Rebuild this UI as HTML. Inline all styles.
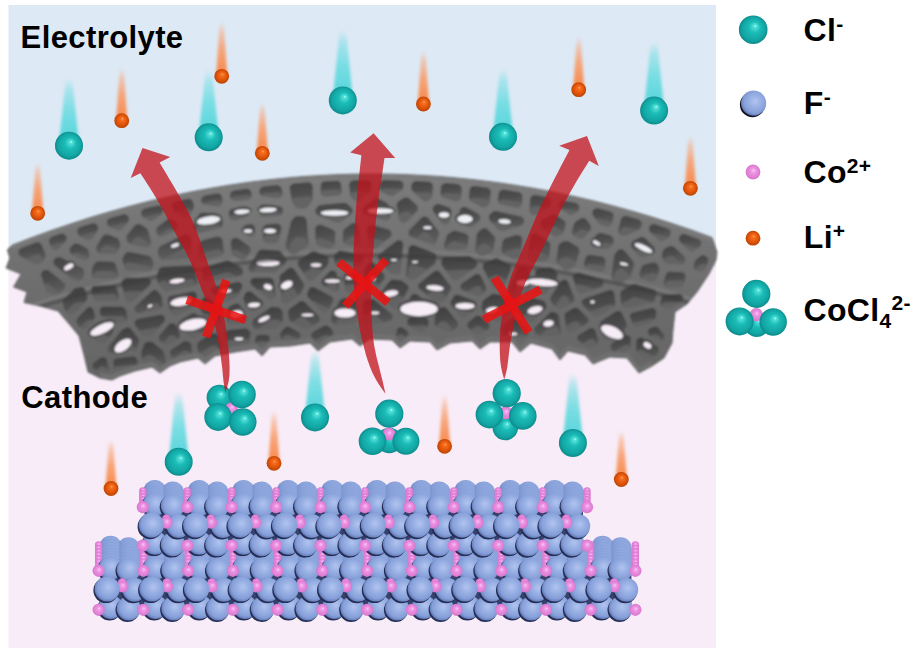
<!DOCTYPE html>
<html><head><meta charset="utf-8"><title>Figure</title>
<style>html,body{margin:0;padding:0;background:#fff;}svg{display:block}</style></head>
<body><svg width="912" height="654" viewBox="0 0 912 654">

<defs>
<radialGradient id="gCl" cx="0.5" cy="0.5" r="0.52" fx="0.58" fy="0.36">
 <stop offset="0" stop-color="#c4fffa"/><stop offset="0.09" stop-color="#55e2da"/>
 <stop offset="0.38" stop-color="#1bbcb7"/><stop offset="0.78" stop-color="#12a5a3"/><stop offset="1" stop-color="#0b8688"/>
</radialGradient>
<radialGradient id="gLi" cx="0.5" cy="0.5" r="0.52" fx="0.55" fy="0.36">
 <stop offset="0" stop-color="#ffb070"/><stop offset="0.15" stop-color="#f77324"/>
 <stop offset="0.55" stop-color="#e8580c"/><stop offset="1" stop-color="#b84304"/>
</radialGradient>
<radialGradient id="gF" cx="0.56" cy="0.44" r="0.62" fx="0.56" fy="0.42">
 <stop offset="0" stop-color="#b2c4ef"/><stop offset="0.4" stop-color="#97afe3"/>
 <stop offset="0.72" stop-color="#869fd8"/><stop offset="0.88" stop-color="#6a82c0"/><stop offset="1" stop-color="#2c3766"/>
</radialGradient>
<radialGradient id="gCo" cx="0.5" cy="0.5" r="0.52" fx="0.55" fy="0.38">
 <stop offset="0" stop-color="#fbc4f4"/><stop offset="0.35" stop-color="#ec93e2"/>
 <stop offset="1" stop-color="#d874cc"/>
</radialGradient>
<linearGradient id="tCl" x1="0" y1="0" x2="0" y2="1">
 <stop offset="0" stop-color="#6fdde2" stop-opacity="0"/><stop offset="0.18" stop-color="#6fdde2" stop-opacity="0.5"/><stop offset="0.5" stop-color="#66dbe0" stop-opacity="0.85"/>
 <stop offset="1" stop-color="#4fd3d8" stop-opacity="1"/>
</linearGradient>
<linearGradient id="tLi" x1="0" y1="0" x2="0" y2="1">
 <stop offset="0" stop-color="#f9a476" stop-opacity="0"/><stop offset="0.18" stop-color="#f9a476" stop-opacity="0.5"/><stop offset="0.5" stop-color="#f89a66" stop-opacity="0.85"/>
 <stop offset="1" stop-color="#f78648" stop-opacity="1"/>
</linearGradient>
<linearGradient id="gMesh" x1="0" y1="0" x2="0" y2="1">
 <stop offset="0" stop-color="#7c7c7c"/><stop offset="0.45" stop-color="#707070"/><stop offset="1" stop-color="#646464"/>
</linearGradient>
<linearGradient id="gPit" x1="0" y1="0" x2="0.15" y2="1">
 <stop offset="0" stop-color="#434343"/><stop offset="0.5" stop-color="#4f4f4f"/><stop offset="1" stop-color="#5e5e5e"/>
</linearGradient>
<linearGradient id="gPit2" x1="0" y1="0" x2="0.15" y2="1">
 <stop offset="0" stop-color="#3e3e3e"/><stop offset="0.5" stop-color="#494949"/><stop offset="1" stop-color="#585858"/>
</linearGradient>
<filter id="b1" x="-20%" y="-20%" width="140%" height="140%"><feGaussianBlur stdDeviation="1"/></filter>
<filter id="b07" x="-20%" y="-20%" width="140%" height="140%"><feGaussianBlur stdDeviation="0.7"/></filter>
<filter id="b15" x="-30%" y="-10%" width="160%" height="120%"><feGaussianBlur stdDeviation="1.6"/></filter>
<filter id="b05" x="-10%" y="-10%" width="120%" height="120%"><feGaussianBlur stdDeviation="0.8"/></filter>
<clipPath id="mclip"><path d="M12.0,245.3 L7.3,250.0 L10.0,258.0 L6.0,268.0 L21.0,274.0 L13.5,287.0 L27.0,292.0 L24.0,302.5 L40.0,306.0 L58.0,311.0 L70.0,325.0 L79.0,336.0 L84.0,355.0 L88.0,372.0 L100.0,378.0 L112.0,380.0 L120.0,376.0 L135.0,371.0 L152.0,367.0 L160.0,373.0 L170.0,366.0 L180.0,362.0 L198.0,358.0 L205.0,364.0 L215.0,356.0 L235.0,352.0 L255.0,349.0 L262.0,356.0 L270.0,347.0 L290.0,346.0 L310.0,343.0 L318.0,351.0 L330.0,342.0 L352.0,339.0 L360.0,346.0 L370.0,339.0 L392.0,340.0 L400.0,348.0 L410.0,341.0 L430.0,342.0 L437.0,350.0 L450.0,343.0 L472.0,341.0 L480.0,349.0 L490.0,342.0 L512.0,342.0 L520.0,352.0 L531.0,343.0 L552.0,349.0 L560.0,360.0 L568.0,351.0 L585.0,355.0 L593.0,364.0 L600.0,361.0 L610.0,357.0 L627.0,358.0 L639.0,373.0 L652.0,366.0 L664.0,358.0 L672.0,343.0 L673.0,330.0 L675.0,312.0 L687.0,304.0 L697.0,292.0 L709.0,274.0 L716.0,260.0 L717.0,252.0 L712.0,237.6 L702.0,233.9 L692.0,230.3 L682.0,226.9 L672.0,223.5 L662.0,220.3 L652.0,217.1 L642.0,214.1 L632.0,211.2 L622.0,208.4 L612.0,205.7 L602.0,203.1 L592.0,200.6 L582.0,198.3 L572.0,196.0 L562.0,193.9 L552.0,191.8 L542.0,189.9 L532.0,188.1 L522.0,186.4 L512.0,184.8 L502.0,183.3 L492.0,181.9 L482.0,180.7 L472.0,179.5 L462.0,178.5 L452.0,177.5 L442.0,176.7 L432.0,176.0 L422.0,175.4 L412.0,174.9 L402.0,174.5 L392.0,174.2 L382.0,174.1 L372.0,174.0 L362.0,174.1 L352.0,174.2 L342.0,174.5 L332.0,174.9 L322.0,175.4 L312.0,176.0 L302.0,176.7 L292.0,177.5 L282.0,178.5 L272.0,179.5 L262.0,180.7 L252.0,181.9 L242.0,183.3 L232.0,184.8 L222.0,186.4 L212.0,188.1 L202.0,189.9 L192.0,191.8 L182.0,193.9 L172.0,196.0 L162.0,198.3 L152.0,200.6 L142.0,203.1 L132.0,205.7 L122.0,208.4 L112.0,211.2 L102.0,214.1 L92.0,217.1 L82.0,220.3 L72.0,223.5 L62.0,226.9 L52.0,230.3 L42.0,233.9 L32.0,237.6 L22.0,241.4Z"/></clipPath><clipPath id="pclip"><path d="M21.4,248.1 L19.1,249.8 L18.3,252.6 L18.9,254.9 L21.0,256.8 L36.6,264.4 L39.8,263.8 L43.7,260.5 L45.4,256.5 L45.5,254.2 L41.7,244.8 L39.8,242.9 L38.1,242.3 L36.2,242.4Z M43.0,270.9 L41.3,273.1 L41.0,275.3 L46.1,290.9 L48.4,292.6 L55.4,294.5 L57.6,294.5 L59.3,293.8 L64.8,288.2 L65.4,285.9 L64.5,283.2 L48.4,270.2 L45.6,269.8Z M64.0,308.6 L65.4,311.0 L69.9,313.9 L72.4,314.1 L74.5,312.9 L87.1,299.5 L87.2,296.8 L85.2,289.8 L84.4,288.4 L83.1,287.5 L81.6,287.1 L74.8,288.2 L63.9,298.7 L62.9,300.1 L62.6,301.8Z M52.0,236.7 L49.6,238.7 L48.9,240.4 L49.0,242.2 L51.3,247.7 L52.6,249.0 L54.3,249.7 L56.2,249.7 L58.3,248.7 L65.6,241.4 L66.6,239.2 L66.5,237.3 L65.8,235.6 L64.4,234.3 L62.6,233.6 L60.7,233.7Z M56.9,257.4 L54.9,258.4 L53.5,260.8 L53.5,263.5 L55.1,265.8 L73.9,280.5 L76.2,281.1 L79.9,280.6 L82.6,278.9 L83.6,276.8 L84.0,271.8 L83.6,269.9 L82.1,268.0 L60.4,257.3Z M76.9,323.9 L77.9,325.6 L82.2,329.2 L84.9,329.5 L87.0,328.3 L94.9,317.8 L95.0,316.2 L93.8,310.5 L92.6,308.3 L91.3,307.4 L89.6,307.1 L88.0,307.5 L86.7,308.4 L76.9,318.7 L76.2,321.0Z M112.5,285.1 L93.8,285.9 L92.4,286.8 L91.5,288.1 L91.2,289.7 L93.3,297.6 L95.8,300.4 L98.0,301.0 L115.2,301.0 L117.1,300.3 L118.5,298.8 L118.9,296.1 L116.7,288.2 L115.9,286.7 L114.6,285.6Z M92.0,268.6 L91.7,275.6 L92.6,277.2 L94.1,278.4 L96.4,278.9 L114.3,278.4 L117.0,276.8 L117.8,275.4 L118.2,273.5 L115.7,264.6 L113.9,262.5 L111.8,261.7 L98.7,261.4 L96.9,261.7 L95.4,262.7 L92.6,266.9Z M82.6,259.7 L84.4,260.2 L86.3,259.9 L88.9,257.7 L89.5,255.0 L88.4,249.9 L86.6,248.0 L77.9,243.8 L75.6,243.5 L73.9,244.1 L70.8,246.9 L69.8,248.5 L69.5,250.8 L70.1,252.6 L71.7,254.4Z M80.5,227.1 L78.5,228.3 L77.5,229.8 L77.2,232.1 L77.8,234.3 L79.9,236.3 L88.4,240.0 L90.6,239.6 L92.4,238.2 L97.4,230.6 L98.2,228.4 L98.0,226.6 L97.1,224.9 L95.6,223.7 L93.9,223.2 L92.0,223.4Z M97.6,323.9 L90.9,332.9 L90.8,334.5 L92.0,337.0 L100.4,342.6 L102.8,343.1 L104.4,342.6 L105.6,341.5 L112.8,332.4 L113.4,329.6 L112.7,327.7 L111.2,326.3 L102.1,322.9 L100.1,322.6Z M94.1,362.6 L92.8,364.2 L92.4,366.2 L93.0,368.1 L94.4,369.6 L102.2,373.3 L105.2,373.5 L107.7,371.9 L108.4,370.3 L108.4,368.6 L106.9,360.3 L105.3,358.0 L103.4,357.2 L101.4,357.4Z M96.3,250.0 L97.6,252.4 L100.0,253.8 L113.0,254.1 L114.9,253.7 L116.8,252.4 L120.2,247.0 L120.3,244.6 L119.0,240.3 L117.9,238.8 L116.3,237.7 L108.0,234.5 L104.8,234.7 L102.9,236.1 L96.6,245.8 L96.1,247.6Z M108.7,346.6 L107.8,348.9 L108.2,350.9 L109.4,352.5 L111.3,353.3 L133.9,350.6 L135.4,349.9 L136.8,348.3 L139.0,341.7 L139.0,340.0 L138.2,338.1 L130.4,328.6 L128.6,327.5 L126.5,327.5 L122.1,329.7Z M113.9,367.7 L114.5,369.3 L115.7,370.4 L118.5,371.1 L134.6,365.9 L136.0,365.1 L137.2,363.4 L137.4,361.7 L136.9,359.2 L135.4,357.3 L133.2,356.5 L116.0,358.6 L114.0,360.0 L113.2,361.8Z M124.6,267.8 L126.2,270.1 L128.7,271.1 L148.7,271.1 L150.8,270.2 L152.0,268.7 L153.4,265.5 L153.5,263.2 L151.3,257.7 L149.1,255.9 L129.9,251.9 L128.0,251.9 L125.2,253.5 L122.3,258.4 L122.3,260.3Z M100.3,314.1 L101.2,316.0 L102.5,317.0 L119.8,323.5 L121.8,323.3 L125.7,321.5 L126.8,320.3 L127.5,318.4 L126.1,310.0 L123.8,307.5 L122.0,306.7 L102.7,306.8 L100.9,307.9 L99.9,309.6 L99.7,311.3Z M125.7,299.3 L126.7,301.1 L128.4,302.2 L130.4,302.3 L132.3,301.5 L150.1,284.8 L151.2,282.1 L150.2,279.4 L148.6,278.2 L147.0,277.8 L126.6,277.7 L123.9,278.7 L121.8,281.4 L121.3,283.8Z M110.2,218.0 L108.5,218.8 L107.1,220.7 L106.8,223.1 L107.6,225.3 L109.3,226.8 L118.5,230.2 L120.7,229.9 L122.3,228.8 L128.2,221.7 L129.0,219.5 L128.8,217.6 L127.9,216.0 L126.5,214.8 L124.7,214.2 L122.9,214.4Z M137.9,319.1 L136.1,320.0 L135.1,321.3 L134.5,323.2 L135.0,325.2 L143.0,335.1 L144.6,336.1 L146.2,336.3 L150.5,336.0 L152.3,335.0 L164.1,321.7 L165.1,319.0 L164.8,317.4 L163.9,316.0 L162.6,315.0 L161.0,314.7Z M135.8,305.9 L134.5,308.1 L134.6,310.1 L135.9,312.2 L138.2,313.2 L160.2,309.0 L161.9,307.7 L162.8,305.4 L161.5,296.0 L157.0,290.7 L155.1,290.0 L153.1,290.2Z M127.1,241.0 L128.3,243.0 L130.3,244.2 L146.0,247.4 L147.8,247.2 L149.5,246.3 L150.7,244.9 L151.2,243.1 L151.1,241.3 L147.6,229.5 L146.2,228.1 L140.9,224.8 L138.7,224.1 L136.5,224.4 L134.9,225.5 L127.1,234.9 L126.3,237.6Z M156.9,274.3 L156.5,276.2 L157.7,282.8 L163.6,289.5 L165.8,290.7 L167.5,290.7 L194.7,285.4 L196.5,284.4 L197.6,282.3 L195.2,268.2 L194.0,266.2 L192.2,265.3 L161.8,266.9 L159.4,268.6Z M159.3,257.1 L161.0,259.2 L163.6,260.1 L186.4,258.8 L188.6,258.1 L190.3,256.5 L190.9,254.7 L191.6,241.0 L191.0,238.2 L188.2,235.1 L186.4,234.4 L184.5,234.5 L160.6,245.9 L158.8,248.0 L157.8,251.5 L157.9,253.5Z M144.7,208.6 L143.0,209.4 L141.5,211.2 L141.1,213.0 L141.5,215.2 L143.3,217.3 L149.8,221.0 L151.7,220.9 L153.5,220.1 L161.9,213.7 L163.4,210.8 L163.4,209.0 L162.6,207.3 L161.2,206.0 L159.5,205.4 L157.6,205.5Z M156.7,233.1 L157.5,234.7 L158.9,236.0 L160.7,236.6 L163.0,236.3 L176.2,229.9 L178.0,227.1 L177.8,224.3 L176.4,222.4 L171.9,219.3 L169.7,218.7 L167.9,219.0 L157.0,227.2 L156.0,229.9Z M141.5,351.9 L141.3,353.8 L142.9,360.2 L143.8,361.6 L145.1,362.5 L147.0,362.9 L151.3,362.0 L153.3,362.2 L158.4,365.4 L160.3,365.8 L162.6,365.1 L164.4,363.7 L165.3,362.3 L165.5,360.0 L163.4,350.9 L152.3,342.2 L150.7,341.7 L147.3,341.9 L145.0,343.0 L144.1,344.3Z M167.8,299.6 L169.5,310.1 L172.5,314.3 L174.2,315.3 L175.8,315.5 L192.4,307.2 L194.3,305.1 L196.9,297.1 L197.1,295.4 L196.6,293.9 L194.9,292.1 L192.5,291.6 L170.0,296.1 L168.5,297.6Z M159.8,335.1 L158.7,337.6 L159.5,340.3 L164.5,344.4 L166.5,345.0 L168.6,344.6 L178.6,338.2 L179.6,337.0 L180.2,335.0 L179.7,333.0 L175.7,325.1 L174.2,323.7 L172.2,323.2 L170.6,323.4 L169.3,324.3Z M175.7,201.3 L173.2,202.7 L172.1,204.7 L172.0,207.1 L173.3,210.7 L183.3,217.7 L186.0,218.0 L188.1,217.1 L189.3,215.8 L193.9,207.8 L194.0,205.9 L193.2,202.5 L192.2,200.4 L190.3,199.1 L188.0,198.8Z M170.3,355.1 L171.7,357.5 L174.4,358.5 L189.9,354.5 L191.3,353.2 L192.0,351.3 L191.1,344.3 L189.7,342.8 L187.0,341.5 L185.3,341.2 L183.7,341.7 L171.2,349.7 L170.0,351.8Z M193.4,223.8 L192.7,226.5 L193.4,228.7 L196.2,232.2 L199.3,233.1 L220.4,227.8 L222.4,225.9 L223.1,223.2 L221.6,217.2 L219.5,214.7 L217.7,214.1 L203.0,212.4 L200.8,212.9 L199.3,214.0Z M186.6,334.1 L188.1,335.7 L191.6,337.5 L194.4,337.8 L203.4,331.9 L204.9,330.0 L205.2,328.1 L204.7,326.5 L197.3,315.2 L195.5,313.6 L193.5,313.3 L191.9,313.8 L182.8,318.5 L181.3,320.4 L180.9,322.0 L181.2,323.6Z M197.6,350.0 L199.0,352.7 L203.1,355.7 L205.1,356.3 L207.5,355.6 L213.1,351.4 L220.1,349.5 L221.5,348.0 L221.9,345.5 L218.3,335.2 L216.0,333.6 L211.3,333.5 L199.0,341.8 L197.9,342.9 L197.3,344.4Z M198.5,255.2 L198.8,257.1 L199.8,258.7 L201.3,259.9 L203.2,260.3 L220.6,255.5 L222.2,254.7 L223.6,252.9 L224.0,250.7 L222.7,240.7 L221.8,238.5 L220.0,237.0 L217.2,236.6 L202.7,240.2 L201.0,241.0 L199.7,242.4 L199.1,244.1Z M214.4,286.4 L212.6,287.2 L211.3,288.9 L211.0,290.9 L211.7,292.9 L223.5,300.9 L225.9,301.6 L227.6,301.2 L237.3,296.5 L241.8,288.0 L242.3,286.1 L242.0,284.5 L241.0,283.2 L239.7,282.3 L238.1,282.0Z M199.9,306.0 L199.7,307.6 L200.2,309.2 L211.6,326.5 L213.4,327.6 L216.3,327.9 L217.9,327.7 L219.3,326.9 L220.7,324.5 L222.1,309.3 L221.9,307.7 L221.1,306.2 L208.2,297.6 L205.9,296.9 L203.9,297.4 L202.4,298.8Z M204.9,195.5 L202.4,196.7 L201.0,199.6 L201.5,202.4 L203.8,204.6 L218.1,206.4 L220.7,205.4 L222.1,203.6 L222.5,201.8 L222.2,196.9 L221.0,194.8 L219.5,193.7 L217.2,193.3Z M227.7,309.6 L226.9,321.4 L228.0,323.1 L229.3,324.0 L231.3,324.3 L244.0,322.9 L245.9,321.4 L246.6,318.7 L240.1,305.5 L238.7,304.1 L236.3,303.6 L230.1,306.2 L228.3,307.8Z M239.7,275.9 L241.6,275.0 L242.8,273.4 L243.1,271.3 L242.2,268.8 L241.0,267.6 L229.9,261.0 L228.3,260.5 L226.6,260.6 L204.2,267.1 L202.3,268.6 L201.6,270.5 L203.2,279.4 L204.7,281.3 L206.6,282.0Z M254.4,277.8 L252.0,278.5 L250.5,280.4 L250.3,282.9 L251.5,285.0 L269.0,298.7 L271.8,299.3 L274.3,298.1 L275.2,296.7 L275.5,294.7 L274.0,281.1 L272.8,279.0 L270.3,277.8Z M238.1,238.6 L236.4,237.9 L234.0,238.0 L232.3,239.0 L231.0,240.9 L230.7,243.2 L232.0,252.9 L232.8,254.7 L234.3,255.9 L240.3,259.5 L243.4,259.9 L246.1,258.2 L250.0,252.2 L250.7,250.5 L250.7,248.6 L249.0,245.9Z M233.1,208.4 L231.3,208.9 L229.8,210.0 L228.6,213.0 L229.7,217.9 L230.9,219.4 L232.6,220.3 L235.0,220.5 L246.3,216.9 L248.2,215.6 L249.0,213.9 L249.2,212.1 L248.7,210.3 L247.6,208.9 L246.0,208.0 L244.2,207.7Z M228.2,330.2 L225.6,331.4 L224.7,332.8 L224.4,334.5 L227.8,345.0 L229.3,346.8 L232.0,347.5 L245.4,345.4 L247.0,344.8 L248.2,343.7 L250.6,334.0 L250.2,332.0 L248.0,329.4 L245.2,328.6Z M243.8,296.7 L243.3,298.6 L243.8,300.5 L249.0,310.4 L250.9,311.9 L253.0,312.2 L254.6,311.7 L261.5,306.8 L262.8,305.2 L263.2,302.8 L262.2,300.6 L250.9,291.8 L248.9,291.4 L246.6,292.1 L245.5,293.3Z M245.7,225.1 L243.7,226.3 L242.7,227.9 L242.4,230.2 L243.1,232.4 L244.5,233.7 L249.0,236.5 L251.3,236.6 L253.1,235.9 L254.6,234.1 L255.2,232.3 L255.2,228.2 L254.4,226.0 L252.6,224.4 L250.8,223.9Z M249.1,265.7 L248.4,267.6 L248.8,269.6 L250.0,271.3 L251.4,272.0 L274.0,272.2 L276.0,271.5 L285.4,263.5 L286.4,261.7 L286.5,260.1 L285.6,257.8 L280.3,251.5 L278.8,250.6 L261.4,249.4 L259.9,249.9 L258.7,251.0Z M233.9,190.6 L231.0,192.1 L229.8,195.1 L230.5,198.4 L233.1,200.4 L234.9,200.7 L247.8,199.9 L250.3,198.7 L251.6,196.7 L251.8,194.9 L251.4,191.9 L250.1,190.0 L248.5,189.0 L246.2,188.8Z M264.1,204.4 L261.0,205.1 L259.6,206.3 L258.8,208.0 L259.2,214.1 L260.3,215.7 L261.8,216.8 L264.2,217.1 L279.3,215.7 L281.4,214.7 L282.8,212.8 L283.2,211.0 L282.9,209.2 L281.9,207.6 L280.4,206.6Z M253.9,319.1 L252.5,320.9 L252.0,324.5 L254.0,327.7 L255.7,329.0 L257.4,329.3 L275.2,328.8 L277.0,327.8 L282.8,321.3 L283.1,319.1 L282.3,311.2 L281.3,309.4 L278.5,307.5 L271.6,306.8Z M255.1,339.9 L255.2,341.9 L256.4,343.9 L259.6,346.3 L261.9,346.8 L264.2,345.9 L268.7,341.8 L269.7,340.1 L269.8,338.4 L268.9,336.2 L266.8,334.8 L259.1,334.9 L257.5,335.4 L256.2,336.5Z M290.1,252.9 L292.4,254.5 L295.6,254.3 L306.6,247.1 L308.2,244.8 L308.4,243.0 L306.7,220.2 L305.5,217.8 L303.6,216.5 L298.0,215.9 L296.1,216.2 L294.1,217.5 L291.1,221.3 L285.4,245.3 L286.0,247.9Z M263.3,186.5 L260.7,187.7 L259.1,190.6 L259.6,193.9 L262.0,196.2 L278.1,198.3 L280.3,197.6 L282.2,195.5 L282.6,193.2 L281.7,188.5 L280.8,186.8 L278.9,185.4 L276.6,185.1Z M281.6,299.8 L282.3,301.7 L283.9,303.0 L285.9,303.5 L287.9,303.0 L300.3,294.3 L303.9,286.7 L304.1,284.6 L303.4,283.0 L293.9,269.1 L291.9,267.8 L290.2,267.7 L288.3,268.4 L280.5,275.0 L279.5,276.8Z M262.8,238.3 L263.9,241.4 L266.3,242.9 L274.3,243.5 L277.0,242.6 L278.6,240.3 L281.3,229.5 L281.4,227.6 L280.4,225.5 L278.5,224.0 L276.6,223.6 L267.1,224.5 L264.9,225.3 L263.6,226.6 L262.9,228.3Z M280.4,337.2 L281.2,339.5 L282.8,340.9 L284.4,341.3 L289.3,341.0 L298.1,339.5 L299.9,337.9 L300.5,335.5 L300.1,333.9 L298.7,332.3 L289.3,327.0 L287.4,326.6 L284.8,327.7 L280.9,332.0 L280.3,334.0Z M293.9,183.4 L290.9,184.7 L289.5,187.6 L292.0,202.0 L295.2,206.7 L296.7,207.9 L303.5,208.7 L305.8,208.3 L307.6,206.9 L312.6,200.0 L312.9,187.1 L312.4,184.9 L310.9,183.1 L308.7,182.3Z M299.5,259.7 L297.8,262.0 L297.6,263.7 L298.1,265.3 L307.7,279.4 L309.0,280.4 L310.6,280.8 L312.2,280.7 L314.0,279.6 L327.6,265.5 L328.7,263.1 L328.3,257.7 L327.0,255.7 L314.1,251.3 L311.6,251.7Z M288.1,311.8 L289.1,319.6 L290.4,321.1 L303.5,328.6 L305.6,329.1 L307.6,328.6 L318.3,322.6 L319.7,321.1 L320.1,319.1 L319.2,316.5 L304.9,302.2 L303.5,301.3 L301.9,301.0 L299.6,301.7 L289.0,309.2Z M314.7,287.4 L312.0,286.9 L309.5,288.3 L307.0,293.6 L307.4,296.5 L322.1,311.5 L324.4,312.4 L326.8,311.9 L328.3,310.5 L333.0,301.5 L333.3,299.5 L332.8,298.0 L331.1,296.3Z M313.3,331.8 L311.4,334.0 L311.2,335.6 L311.5,337.3 L316.2,342.1 L318.4,343.0 L320.7,342.6 L327.4,337.7 L331.3,336.3 L332.6,334.8 L333.0,333.3 L333.0,331.4 L332.1,329.6 L328.2,326.2 L326.2,325.5 L324.2,325.8Z M315.9,241.7 L316.6,243.9 L318.8,245.7 L328.0,248.7 L331.3,248.3 L334.0,246.0 L335.0,244.0 L335.3,234.0 L334.8,231.6 L332.7,229.6 L321.6,225.1 L319.8,224.7 L317.6,225.3 L315.9,226.8 L315.0,229.0Z M318.0,206.2 L315.4,209.8 L315.4,212.1 L316.1,213.8 L317.4,215.1 L337.4,223.1 L340.5,222.3 L350.7,214.5 L352.0,213.0 L352.6,211.2 L352.4,209.3 L351.2,207.3 L346.7,203.6 L344.5,202.8 L320.1,205.1Z M331.2,317.1 L330.7,319.0 L331.4,321.3 L335.2,324.7 L337.0,325.6 L353.7,323.1 L355.3,322.5 L356.7,321.0 L357.2,319.4 L357.2,303.2 L356.5,300.9 L355.4,299.8 L353.5,299.1 L344.6,298.1 L341.2,299.2 L339.7,300.7Z M333.0,291.0 L335.4,291.5 L337.3,290.8 L338.9,288.9 L339.2,286.9 L336.7,273.4 L334.7,271.1 L332.3,270.4 L330.7,270.8 L329.4,271.7 L322.0,279.3 L321.1,282.0 L321.4,283.6 L322.6,285.2Z M320.5,192.1 L321.5,195.2 L324.3,196.8 L339.1,195.4 L340.9,194.0 L341.9,191.9 L341.0,183.6 L339.5,181.7 L337.4,180.8 L323.7,181.5 L322.0,182.5 L320.8,184.6Z M344.8,228.6 L343.4,230.5 L342.9,232.3 L342.8,240.5 L343.8,243.1 L346.1,244.7 L354.7,246.5 L356.6,246.5 L358.7,245.5 L360.1,243.5 L360.4,241.6 L358.5,227.1 L357.3,224.6 L354.9,223.1 L352.1,223.3Z M334.3,262.0 L335.6,264.6 L339.1,267.4 L340.6,268.0 L357.8,266.4 L359.4,265.9 L360.6,264.8 L363.4,260.5 L363.9,258.1 L362.9,255.9 L360.9,254.5 L340.2,250.5 L338.3,251.2 L334.4,254.7 L333.9,256.7Z M347.9,292.6 L354.7,293.2 L356.1,292.5 L357.6,290.2 L358.3,276.8 L358.0,275.1 L356.8,273.4 L354.9,272.5 L346.2,273.3 L344.2,274.6 L343.3,277.2 L345.6,290.3 L346.5,291.7Z M366.8,299.2 L364.1,300.4 L362.8,303.0 L362.8,321.9 L363.3,323.5 L364.4,324.7 L366.2,325.6 L367.9,325.6 L389.5,321.1 L391.9,319.6 L392.9,316.9 L391.9,314.3 L374.5,299.9 L372.4,299.0Z M364.8,268.7 L364.1,270.8 L363.5,290.4 L364.5,292.2 L366.2,293.3 L371.8,293.2 L373.9,291.8 L383.9,279.4 L384.7,277.9 L384.7,275.8 L383.8,274.0 L374.4,263.6 L372.7,262.5 L370.3,262.3 L368.6,263.2Z M353.8,180.2 L350.7,181.3 L349.2,183.7 L349.1,185.5 L350.2,195.2 L351.2,197.3 L354.7,200.3 L356.5,201.0 L358.3,201.0 L360.4,200.0 L370.6,191.5 L371.6,189.3 L371.7,183.7 L370.4,181.4 L367.9,180.1Z M364.2,206.8 L362.8,208.6 L362.5,211.0 L363.3,213.2 L365.5,214.9 L385.4,220.5 L388.5,219.7 L390.2,217.6 L390.5,214.9 L388.2,204.2 L386.7,202.7 L378.1,198.5 L376.3,198.1 L374.1,198.7Z M368.6,244.8 L369.4,246.9 L371.2,248.4 L373.5,248.9 L375.8,248.2 L390.5,237.1 L391.6,234.7 L391.1,231.5 L388.6,229.5 L372.7,224.9 L370.8,224.7 L369.0,225.3 L367.3,227.0 L366.6,229.2Z M381.0,298.0 L394.1,308.3 L395.7,308.5 L397.3,308.0 L398.5,307.0 L408.5,289.0 L408.6,287.0 L407.6,284.9 L401.4,280.4 L392.9,279.6 L390.6,280.3 L380.7,292.3 L379.9,293.8 L379.9,296.2Z M390.1,272.6 L392.1,273.8 L397.0,274.3 L399.3,273.3 L400.6,271.3 L403.3,244.3 L402.6,242.0 L400.4,240.3 L398.4,240.2 L396.5,240.9 L379.3,253.9 L377.9,255.8 L377.7,257.8 L378.5,259.7Z M396.2,335.2 L396.7,337.3 L398.4,339.3 L400.3,340.2 L401.9,340.1 L407.2,336.8 L408.2,335.0 L408.2,333.0 L407.1,330.8 L402.9,328.1 L401.3,327.4 L399.7,327.5 L397.8,328.4 L396.8,329.8Z M384.4,180.1 L381.7,180.8 L379.9,182.9 L379.3,187.3 L379.6,189.2 L381.6,191.7 L389.2,195.4 L391.1,195.9 L393.5,195.4 L401.8,190.1 L403.2,188.2 L403.5,183.8 L402.3,181.9 L400.8,180.8 L399.0,180.4Z M409.7,279.3 L412.0,280.2 L414.5,279.6 L434.4,264.2 L435.6,262.1 L436.4,256.5 L436.0,254.5 L435.0,253.2 L413.7,245.1 L411.3,245.2 L409.6,246.3 L408.5,248.8 L406.0,274.5 L406.8,276.9Z M398.8,201.0 L397.2,202.7 L396.5,205.0 L399.1,219.3 L400.0,221.0 L401.4,222.2 L403.2,222.8 L405.1,222.6 L407.1,221.4 L416.9,211.4 L417.8,209.4 L417.8,207.1 L416.3,204.8 L409.3,198.5 L407.6,197.6 L404.4,197.6Z M411.3,317.6 L409.3,318.0 L407.7,319.4 L407.0,321.8 L407.5,323.8 L408.9,325.3 L418.7,331.6 L420.8,332.0 L422.8,331.5 L428.3,326.1 L428.8,321.0 L427.8,319.1 L426.4,318.2 L424.8,317.8Z M409.8,229.4 L408.8,231.0 L408.5,233.4 L409.1,235.2 L410.3,236.6 L431.6,244.5 L434.0,244.2 L436.2,242.5 L439.1,234.2 L439.0,232.4 L438.2,230.7 L428.2,217.9 L425.8,216.5 L423.8,216.4 L421.7,217.4Z M416.3,181.1 L413.7,181.7 L411.8,183.7 L411.1,187.8 L411.9,190.4 L423.3,200.7 L425.9,201.4 L428.1,200.8 L431.2,198.3 L432.3,196.2 L433.1,186.5 L432.5,184.2 L431.3,182.8 L429.1,181.8Z M417.3,294.7 L415.8,293.9 L414.1,293.9 L412.6,294.4 L411.3,295.6 L405.4,306.4 L405.3,308.5 L406.1,310.3 L407.4,311.4 L409.3,311.9 L427.9,312.2 L430.6,311.3 L431.7,310.0 L432.1,308.4 L431.9,306.7 L431.1,305.2Z M434.5,271.3 L418.5,283.9 L418.0,285.8 L418.2,287.4 L419.0,288.8 L435.8,301.7 L437.3,302.4 L439.5,302.4 L443.1,301.3 L444.4,300.5 L450.9,289.6 L451.0,287.6 L450.2,285.8 L440.1,272.3 L437.7,270.7 L436.0,270.7Z M434.2,205.6 L432.6,208.3 L432.9,211.0 L441.4,222.5 L442.9,223.8 L444.7,224.4 L446.6,224.2 L448.3,223.3 L449.9,221.0 L451.5,212.5 L451.4,210.2 L450.5,208.6 L448.7,207.2 L438.9,204.1 L436.5,204.2Z M444.0,243.9 L443.8,245.7 L444.5,247.9 L445.7,249.2 L447.4,250.0 L464.7,249.3 L466.7,248.1 L467.8,246.1 L468.6,238.5 L468.4,236.6 L467.5,234.9 L465.6,233.5 L455.1,230.7 L452.9,230.9 L447.2,234.8Z M434.5,322.8 L434.8,324.8 L436.3,326.6 L449.6,332.1 L451.3,331.9 L452.8,331.1 L457.1,327.3 L458.3,324.8 L457.6,322.1 L446.9,308.8 L445.6,307.7 L444.1,307.2 L440.1,308.0 L438.2,309.6 L435.0,315.9Z M445.9,183.0 L442.8,183.9 L441.0,186.1 L440.3,193.1 L441.4,196.1 L443.2,197.4 L455.0,201.2 L457.2,201.2 L459.3,200.2 L460.5,198.9 L461.2,196.7 L461.9,188.8 L460.7,185.8 L458.0,184.1Z M458.0,219.0 L458.3,221.8 L460.1,223.9 L471.0,226.9 L473.7,225.9 L479.1,221.0 L480.1,219.3 L480.3,217.4 L479.6,215.2 L478.2,213.8 L466.6,207.4 L464.0,206.8 L461.8,207.5 L460.0,209.5Z M441.2,262.5 L441.8,265.2 L451.9,278.7 L453.0,279.8 L454.9,280.4 L457.6,279.7 L475.4,267.5 L476.8,266.0 L477.3,264.1 L477.0,262.5 L476.1,261.1 L471.0,256.7 L468.8,255.9 L444.7,257.0 L443.2,257.7 L442.1,259.0Z M479.0,254.8 L481.1,255.9 L483.5,255.8 L491.5,252.4 L493.5,249.7 L495.2,239.3 L494.8,237.1 L487.8,229.6 L485.5,228.2 L483.6,228.2 L481.5,229.1 L477.8,232.5 L476.6,234.8 L475.2,249.9 L476.2,252.4Z M451.1,300.7 L450.5,302.7 L451.1,305.1 L460.1,316.2 L462.1,317.6 L463.7,317.8 L465.6,317.1 L474.5,310.1 L475.5,308.4 L476.1,303.6 L475.6,302.0 L474.5,300.8 L458.4,294.9 L456.4,294.7 L454.5,295.5Z M462.3,283.3 L460.9,284.8 L460.5,286.4 L460.9,288.5 L462.2,290.1 L477.5,295.7 L479.1,295.8 L480.7,295.2 L485.2,291.6 L486.4,289.5 L486.2,287.1 L480.9,276.3 L479.5,274.8 L478.0,274.1 L475.1,274.5Z M468.9,196.7 L469.4,199.4 L470.9,201.1 L482.1,207.2 L485.3,207.5 L487.8,205.8 L489.2,203.9 L490.9,192.8 L490.8,190.9 L489.3,188.5 L487.2,187.4 L474.7,185.9 L472.8,186.0 L471.1,186.9 L469.7,188.8Z M468.6,321.9 L467.1,324.4 L467.1,326.0 L467.7,327.6 L474.8,333.5 L476.6,334.3 L479.0,334.1 L487.3,329.8 L488.9,328.4 L489.5,326.9 L489.4,324.9 L488.4,323.1 L480.7,316.6 L478.8,315.7 L477.2,315.7 L475.7,316.3Z M482.8,266.2 L483.2,268.5 L492.7,287.1 L494.7,288.3 L499.6,289.1 L502.5,288.1 L503.7,286.5 L511.1,269.1 L511.2,267.0 L510.3,265.1 L498.1,258.5 L496.2,258.0 L484.7,262.6 L483.3,264.1Z M488.8,217.4 L489.0,219.2 L490.2,221.1 L499.0,230.0 L501.6,231.1 L503.5,230.9 L521.3,225.4 L523.5,223.6 L524.2,221.4 L523.5,218.3 L520.9,216.4 L495.7,211.1 L493.1,211.6 L490.4,213.8 L489.3,215.2Z M483.7,300.0 L482.1,302.7 L481.4,307.7 L481.8,309.8 L482.9,311.2 L495.4,321.4 L497.5,321.7 L499.5,320.9 L509.3,312.4 L510.4,310.8 L510.7,306.0 L510.2,304.0 L503.7,296.4 L502.0,295.2 L493.7,293.8 L492.0,293.9Z M513.4,258.9 L515.6,259.5 L517.9,258.9 L519.3,257.7 L520.3,255.7 L522.2,239.2 L520.8,236.2 L518.3,234.9 L516.0,235.0 L505.3,238.3 L503.4,239.8 L502.5,242.0 L501.3,249.4 L502.1,252.5 L503.9,254.0Z M502.1,326.1 L500.8,328.1 L500.8,330.5 L502.9,335.2 L505.2,336.8 L512.5,337.0 L516.6,338.0 L526.0,336.0 L527.7,334.8 L528.5,333.4 L528.6,331.3 L527.5,329.0 L516.2,318.7 L514.5,317.7 L512.4,317.7 L510.9,318.4Z M512.2,297.7 L514.3,298.9 L516.7,298.9 L528.0,293.9 L529.9,291.7 L530.1,290.1 L529.5,270.1 L527.9,267.6 L524.2,265.9 L522.5,265.7 L520.1,266.3 L517.8,268.0 L508.5,289.7 L508.1,291.4 L508.5,293.1Z M503.9,189.6 L500.7,190.3 L498.7,192.8 L497.6,200.1 L498.9,203.1 L501.4,204.5 L516.9,207.7 L518.8,207.6 L520.8,206.3 L522.1,203.8 L522.6,197.0 L522.2,194.7 L521.1,193.1 L518.6,191.9Z M527.9,256.6 L528.0,258.5 L528.9,260.1 L530.3,261.3 L532.7,262.3 L544.9,261.1 L546.7,260.5 L548.5,258.8 L549.1,257.0 L550.6,245.5 L549.8,242.8 L548.5,241.4 L537.2,233.7 L535.0,233.1 L532.3,233.8 L531.0,235.1 L530.2,236.8Z M535.7,194.9 L533.8,194.9 L532.1,195.7 L530.6,197.4 L530.1,199.3 L529.5,211.2 L530.9,213.6 L533.8,214.9 L536.5,214.3 L548.7,207.6 L550.4,205.5 L551.2,202.3 L550.7,199.5 L548.7,197.5Z M516.3,309.3 L517.4,312.1 L527.5,321.4 L529.2,322.3 L530.8,322.5 L533.3,321.3 L545.4,309.1 L546.5,307.4 L546.6,305.8 L545.1,302.3 L543.7,300.7 L533.1,297.9 L518.1,304.5 L516.6,306.4Z M534.7,332.3 L536.0,334.3 L538.2,335.2 L556.7,335.9 L559.4,335.1 L560.7,333.5 L561.1,331.5 L558.8,316.4 L558.1,314.6 L556.9,313.5 L553.5,311.9 L551.6,311.9 L549.8,312.7 L535.2,327.3 L534.2,329.6Z M542.6,219.6 L541.2,220.8 L540.3,222.5 L540.1,224.3 L540.9,226.5 L542.2,227.8 L553.5,235.6 L555.2,236.2 L557.5,236.0 L561.9,233.9 L563.6,232.3 L565.7,224.8 L565.4,222.0 L563.9,220.2 L555.9,215.2 L553.7,214.4 L551.9,214.7Z M535.7,289.4 L536.5,291.7 L538.4,293.2 L542.9,294.4 L544.5,294.2 L545.9,293.4 L557.2,276.8 L557.7,274.5 L556.8,272.2 L552.2,268.0 L550.4,267.3 L539.0,268.5 L536.8,269.4 L535.7,270.7 L535.3,272.3Z M552.5,304.1 L554.3,306.0 L559.3,308.4 L561.3,308.6 L572.4,302.4 L573.9,300.9 L574.4,299.2 L574.1,297.2 L568.0,281.9 L566.3,280.1 L563.5,279.7 L561.3,280.8 L550.6,296.7 L550.2,299.5Z M563.4,269.1 L565.3,270.2 L567.6,270.2 L572.9,267.6 L574.4,266.4 L575.3,264.8 L579.5,251.2 L579.2,249.0 L577.9,247.1 L568.7,241.5 L567.0,240.9 L564.7,241.1 L560.9,242.8 L558.8,244.7 L558.2,246.5 L556.4,260.1 L556.5,261.9 L557.3,263.6Z M566.3,328.7 L567.1,330.6 L568.6,331.9 L570.2,332.3 L572.2,331.9 L587.1,323.4 L588.5,320.9 L588.2,318.5 L578.1,308.6 L576.2,307.8 L573.7,308.1 L566.2,312.6 L564.7,314.6 L564.5,316.6Z M558.6,204.2 L558.7,206.6 L560.0,208.7 L569.7,214.6 L571.6,214.7 L573.5,214.0 L577.9,211.2 L579.3,208.8 L579.1,206.0 L577.8,204.0 L576.1,203.1 L570.7,201.9 L562.4,200.5 L559.9,201.7Z M577.9,238.1 L580.6,238.8 L583.2,237.9 L589.8,230.7 L590.8,229.1 L591.1,227.2 L590.4,225.0 L586.4,219.6 L584.4,218.3 L582.5,218.0 L580.7,218.5 L575.5,221.8 L573.9,223.9 L572.0,231.1 L572.1,233.0 L573.5,235.4Z M589.7,328.5 L578.1,335.4 L577.4,336.9 L577.3,338.5 L577.9,340.1 L587.5,347.5 L589.5,347.9 L591.1,347.5 L596.7,344.1 L597.9,342.5 L598.2,339.8 L595.4,331.0 L594.4,329.3 L593.0,328.4 L591.3,328.1Z M577.6,290.9 L579.2,292.8 L582.1,293.5 L600.9,287.1 L602.3,286.3 L603.3,285.0 L603.8,283.5 L603.6,281.9 L602.5,280.1 L600.8,279.1 L579.8,272.8 L577.3,272.8 L574.0,274.7 L573.1,276.1 L572.7,277.7Z M598.7,271.6 L600.5,271.8 L602.3,271.2 L604.5,268.9 L605.6,261.2 L604.5,258.1 L601.8,256.4 L590.5,255.0 L588.6,255.1 L586.9,256.0 L585.5,257.8 L584.0,262.6 L584.1,264.9 L584.9,266.6 L586.8,268.0Z M584.6,298.6 L582.9,299.7 L582.1,301.1 L581.8,303.1 L582.4,304.7 L593.7,315.5 L595.8,316.5 L598.5,316.1 L613.5,306.3 L614.7,305.1 L615.4,303.6 L614.3,293.0 L612.9,291.0 L611.0,290.1 L609.0,290.3Z M598.1,208.3 L595.3,208.4 L593.1,210.1 L592.1,213.2 L593.1,215.8 L598.6,223.3 L600.0,224.5 L607.3,226.5 L610.4,225.5 L612.1,223.3 L613.7,216.7 L613.6,214.9 L612.8,213.2 L610.6,211.5Z M591.8,239.9 L590.7,241.9 L590.6,243.8 L591.3,245.6 L592.6,247.0 L594.8,247.8 L606.3,249.2 L608.1,248.9 L610.0,247.7 L613.3,243.3 L614.1,241.0 L613.5,238.7 L610.9,235.4 L600.6,232.8 L597.5,233.7Z M601.3,320.9 L599.7,322.9 L599.6,325.7 L603.3,337.0 L604.8,338.5 L606.3,339.1 L609.2,338.5 L624.9,328.8 L626.1,327.7 L626.8,326.1 L626.7,324.0 L622.2,313.5 L620.5,311.7 L619.0,311.0 L616.1,311.4Z M611.5,275.8 L611.9,278.4 L614.3,282.3 L615.6,283.6 L617.9,284.3 L620.2,283.8 L628.6,278.8 L630.6,276.6 L634.1,265.2 L634.0,262.9 L633.1,261.2 L624.6,250.8 L622.7,249.4 L620.3,249.1 L618.1,250.0 L614.2,254.9Z M621.2,303.3 L621.8,305.1 L623.5,306.9 L626.4,307.9 L652.5,302.2 L653.9,301.4 L655.1,299.9 L656.5,293.8 L656.4,292.1 L655.4,290.3 L653.6,289.3 L635.5,283.9 L633.0,284.0 L622.2,290.3 L620.8,291.7 L620.2,294.0Z M619.6,234.0 L622.1,235.9 L624.8,236.0 L639.0,229.5 L640.6,228.0 L641.6,225.3 L641.8,223.4 L641.3,221.6 L638.8,219.4 L630.3,216.9 L625.9,215.8 L623.1,216.4 L621.0,219.0 L618.4,229.4 L618.5,231.8Z M612.5,350.7 L614.8,352.2 L620.3,352.6 L628.8,349.4 L629.8,348.2 L630.4,346.3 L630.8,339.1 L630.0,336.7 L627.7,335.2 L625.2,335.3 L612.1,343.3 L610.9,344.9 L610.5,346.9 L610.9,348.5Z M633.0,324.5 L634.8,326.5 L637.6,327.0 L653.6,320.9 L654.9,319.7 L655.5,318.1 L656.5,312.2 L655.8,309.9 L653.9,308.4 L651.8,308.1 L631.7,312.9 L630.3,314.4 L629.9,316.8Z M642.5,338.1 L640.5,337.6 L638.9,337.9 L637.5,338.9 L636.6,340.3 L635.9,348.4 L636.9,351.0 L644.1,358.1 L645.9,359.1 L648.4,359.0 L656.1,355.3 L657.2,354.0 L658.8,350.3 L658.7,348.2 L658.0,346.8Z M633.6,240.4 L631.4,242.6 L630.9,244.4 L631.1,246.2 L631.9,247.8 L639.4,256.6 L641.1,257.3 L643.4,257.2 L651.9,254.7 L654.1,252.9 L655.2,249.7 L654.5,247.0 L644.6,237.7 L642.8,237.0 L641.0,237.1Z M655.0,224.3 L652.7,224.2 L650.2,225.4 L649.0,227.4 L648.9,230.1 L650.0,232.1 L658.3,239.8 L660.4,240.9 L662.8,240.9 L669.2,237.3 L670.9,233.1 L670.4,230.8 L669.2,229.3 L667.5,228.4Z M639.6,273.2 L639.6,276.0 L641.6,278.6 L650.7,281.5 L653.5,281.5 L655.4,280.3 L656.5,278.8 L659.3,269.9 L659.2,267.5 L656.9,263.8 L654.5,262.5 L652.6,262.5 L644.5,264.8 L642.8,265.6 L641.6,267.1Z M650.6,328.1 L648.9,329.3 L647.9,331.2 L648.2,333.6 L649.4,335.3 L659.2,340.6 L661.7,340.6 L663.7,339.2 L664.6,336.9 L664.3,334.9 L658.0,327.5 L655.2,326.6Z M661.8,254.4 L661.8,256.7 L662.5,258.4 L665.5,262.5 L667.6,263.7 L681.4,264.3 L683.8,263.2 L685.3,260.8 L685.3,258.5 L684.2,256.4 L674.4,247.2 L672.3,246.0 L669.4,246.2 L664.3,248.8 L662.9,250.8Z M660.9,305.3 L663.3,307.3 L669.1,308.6 L671.1,308.4 L682.2,301.1 L683.3,298.9 L683.1,296.5 L681.8,294.9 L679.6,294.0 L664.0,294.4 L662.4,295.6 L661.6,297.0 L660.3,302.5Z M663.7,281.2 L663.5,283.1 L664.0,284.9 L666.5,287.1 L668.4,287.5 L680.4,287.2 L682.5,286.2 L683.7,284.7 L685.6,277.6 L685.6,275.7 L684.5,273.6 L682.1,272.2 L669.1,271.7 L667.4,272.6 L666.1,274.0Z M693.7,265.0 L694.0,268.1 L695.7,270.2 L700.1,271.4 L702.5,271.1 L704.7,269.2 L707.9,262.8 L708.4,261.0 L708.0,258.7 L707.0,257.2 L705.0,255.7 L703.2,255.3 L701.4,255.6 L695.6,259.9 L694.7,261.5Z M685.3,234.3 L683.0,234.1 L680.5,235.3 L679.2,237.2 L679.0,240.0 L680.1,242.0 L689.3,250.6 L691.5,251.6 L693.8,251.3 L700.2,246.6 L701.2,245.0 L701.4,243.2 L701.0,241.4 L699.8,239.9 L698.2,238.9Z"/></clipPath>
</defs>

<rect x="0" y="0" width="912" height="654" fill="#ffffff"/><g filter="url(#b07)"><rect x="8.5" y="5" width="707.5" height="262" fill="#dde9f5"/><rect x="8.5" y="266.5" width="707.5" height="381.5" fill="#f7ecf7"/></g>
<path d="M65.8,78.0 L72.2,78.0 L79.2,145.7 L58.8,145.7 Z" fill="url(#tCl)" filter="url(#b15)"/>
<circle cx="69.0" cy="145.7" r="14.0" fill="url(#gCl)"/>
<path d="M205.5,70.0 L211.9,70.0 L218.9,137.3 L198.5,137.3 Z" fill="url(#tCl)" filter="url(#b15)"/>
<circle cx="208.7" cy="137.3" r="14.0" fill="url(#gCl)"/>
<path d="M339.6,30.0 L346.0,30.0 L353.0,100.4 L332.6,100.4 Z" fill="url(#tCl)" filter="url(#b15)"/>
<circle cx="342.8" cy="100.4" r="14.0" fill="url(#gCl)"/>
<path d="M499.8,69.0 L506.2,69.0 L513.2,136.8 L492.8,136.8 Z" fill="url(#tCl)" filter="url(#b15)"/>
<circle cx="503.0" cy="136.8" r="14.0" fill="url(#gCl)"/>
<path d="M650.9,41.5 L657.3,41.5 L664.3,110.6 L643.9,110.6 Z" fill="url(#tCl)" filter="url(#b15)"/>
<circle cx="654.1" cy="110.6" r="14.0" fill="url(#gCl)"/>
<path d="M175.5,392.0 L181.9,392.0 L188.9,461.8 L168.5,461.8 Z" fill="url(#tCl)" filter="url(#b15)"/>
<circle cx="178.7" cy="461.8" r="14.0" fill="url(#gCl)"/>
<path d="M311.8,350.0 L318.2,350.0 L325.2,417.4 L304.8,417.4 Z" fill="url(#tCl)" filter="url(#b15)"/>
<circle cx="315.0" cy="417.4" r="14.0" fill="url(#gCl)"/>
<path d="M569.7,373.0 L576.1,373.0 L583.1,443.0 L562.7,443.0 Z" fill="url(#tCl)" filter="url(#b15)"/>
<circle cx="572.9" cy="443.0" r="14.0" fill="url(#gCl)"/>
<path d="M35.7,163.0 L39.7,163.0 L43.3,213.3 L32.1,213.3 Z" fill="url(#tLi)" filter="url(#b15)"/>
<circle cx="37.7" cy="213.3" r="7.4" fill="url(#gLi)"/>
<path d="M119.7,68.0 L123.7,68.0 L127.3,120.7 L116.1,120.7 Z" fill="url(#tLi)" filter="url(#b15)"/>
<circle cx="121.7" cy="120.7" r="7.4" fill="url(#gLi)"/>
<path d="M219.7,22.0 L223.7,22.0 L227.3,76.3 L216.1,76.3 Z" fill="url(#tLi)" filter="url(#b15)"/>
<circle cx="221.7" cy="76.3" r="7.4" fill="url(#gLi)"/>
<path d="M260.3,103.0 L264.3,103.0 L267.9,153.3 L256.7,153.3 Z" fill="url(#tLi)" filter="url(#b15)"/>
<circle cx="262.3" cy="153.3" r="7.4" fill="url(#gLi)"/>
<path d="M421.4,51.0 L425.4,51.0 L429.0,104.0 L417.8,104.0 Z" fill="url(#tLi)" filter="url(#b15)"/>
<circle cx="423.4" cy="104.0" r="7.4" fill="url(#gLi)"/>
<path d="M576.7,37.0 L580.7,37.0 L584.3,89.7 L573.1,89.7 Z" fill="url(#tLi)" filter="url(#b15)"/>
<circle cx="578.7" cy="89.7" r="7.4" fill="url(#gLi)"/>
<path d="M688.4,136.0 L692.4,136.0 L696.0,188.3 L684.8,188.3 Z" fill="url(#tLi)" filter="url(#b15)"/>
<circle cx="690.4" cy="188.3" r="7.4" fill="url(#gLi)"/>
<path d="M109.0,440.0 L113.0,440.0 L116.6,488.5 L105.4,488.5 Z" fill="url(#tLi)" filter="url(#b15)"/>
<circle cx="111.0" cy="488.5" r="7.4" fill="url(#gLi)"/>
<path d="M272.0,410.5 L276.0,410.5 L279.6,463.3 L268.4,463.3 Z" fill="url(#tLi)" filter="url(#b15)"/>
<circle cx="274.0" cy="463.3" r="7.4" fill="url(#gLi)"/>
<path d="M442.6,395.0 L446.6,395.0 L450.2,446.3 L439.0,446.3 Z" fill="url(#tLi)" filter="url(#b15)"/>
<circle cx="444.6" cy="446.3" r="7.4" fill="url(#gLi)"/>
<path d="M619.3,431.0 L623.3,431.0 L626.9,479.5 L615.7,479.5 Z" fill="url(#tLi)" filter="url(#b15)"/>
<circle cx="621.3" cy="479.5" r="7.4" fill="url(#gLi)"/>
<g filter="url(#b05)">
<path d="M12.0,245.3 L7.3,250.0 L10.0,258.0 L6.0,268.0 L21.0,274.0 L13.5,287.0 L27.0,292.0 L24.0,302.5 L40.0,306.0 L58.0,311.0 L70.0,325.0 L79.0,336.0 L84.0,355.0 L88.0,372.0 L100.0,378.0 L112.0,380.0 L120.0,376.0 L135.0,371.0 L152.0,367.0 L160.0,373.0 L170.0,366.0 L180.0,362.0 L198.0,358.0 L205.0,364.0 L215.0,356.0 L235.0,352.0 L255.0,349.0 L262.0,356.0 L270.0,347.0 L290.0,346.0 L310.0,343.0 L318.0,351.0 L330.0,342.0 L352.0,339.0 L360.0,346.0 L370.0,339.0 L392.0,340.0 L400.0,348.0 L410.0,341.0 L430.0,342.0 L437.0,350.0 L450.0,343.0 L472.0,341.0 L480.0,349.0 L490.0,342.0 L512.0,342.0 L520.0,352.0 L531.0,343.0 L552.0,349.0 L560.0,360.0 L568.0,351.0 L585.0,355.0 L593.0,364.0 L600.0,361.0 L610.0,357.0 L627.0,358.0 L639.0,373.0 L652.0,366.0 L664.0,358.0 L672.0,343.0 L673.0,330.0 L675.0,312.0 L687.0,304.0 L697.0,292.0 L709.0,274.0 L716.0,260.0 L717.0,252.0 L712.0,237.6 L702.0,233.9 L692.0,230.3 L682.0,226.9 L672.0,223.5 L662.0,220.3 L652.0,217.1 L642.0,214.1 L632.0,211.2 L622.0,208.4 L612.0,205.7 L602.0,203.1 L592.0,200.6 L582.0,198.3 L572.0,196.0 L562.0,193.9 L552.0,191.8 L542.0,189.9 L532.0,188.1 L522.0,186.4 L512.0,184.8 L502.0,183.3 L492.0,181.9 L482.0,180.7 L472.0,179.5 L462.0,178.5 L452.0,177.5 L442.0,176.7 L432.0,176.0 L422.0,175.4 L412.0,174.9 L402.0,174.5 L392.0,174.2 L382.0,174.1 L372.0,174.0 L362.0,174.1 L352.0,174.2 L342.0,174.5 L332.0,174.9 L322.0,175.4 L312.0,176.0 L302.0,176.7 L292.0,177.5 L282.0,178.5 L272.0,179.5 L262.0,180.7 L252.0,181.9 L242.0,183.3 L232.0,184.8 L222.0,186.4 L212.0,188.1 L202.0,189.9 L192.0,191.8 L182.0,193.9 L172.0,196.0 L162.0,198.3 L152.0,200.6 L142.0,203.1 L132.0,205.7 L122.0,208.4 L112.0,211.2 L102.0,214.1 L92.0,217.1 L82.0,220.3 L72.0,223.5 L62.0,226.9 L52.0,230.3 L42.0,233.9 L32.0,237.6 L22.0,241.4Z" fill="url(#gMesh)" stroke="#686868" stroke-width="1" stroke-linejoin="round"/>
<g clip-path="url(#mclip)">
<path d="M0,315.6 L10,312.1 L20,308.8 L30,305.5 L40,302.3 L50,299.2 L60,296.2 L70,293.3 L80,290.5 L90,287.8 L100,285.2 L110,282.7 L120,280.3 L130,278.0 L140,275.7 L150,273.6 L160,271.5 L170,269.6 L180,267.7 L190,266.0 L200,264.3 L210,262.7 L220,261.3 L230,259.9 L240,258.6 L250,257.4 L260,256.3 L270,255.3 L280,254.4 L290,253.6 L300,252.8 L310,252.2 L320,251.7 L330,251.2 L340,250.9 L350,250.7 L360,250.5 L370,250.4 L380,250.5 L390,250.6 L400,250.8 L410,251.1 L420,251.6 L430,252.1 L440,252.7 L450,253.4 L460,254.2 L470,255.0 L480,256.0 L490,257.1 L500,258.3 L510,259.5 L520,260.9 L530,262.3 L540,263.9 L550,265.5 L560,267.3 L570,269.1 L580,271.0 L590,273.1 L600,275.2 L610,277.4 L620,279.7 L630,282.1 L640,284.6 L650,287.2 L660,289.8 L670,292.6 L680,295.5 L690,298.5 L700,301.5 L710,304.7 L720,307.9" fill="none" stroke="#7e7e7e" stroke-width="3.5" opacity="0.7"/>
<path d="M21.4,248.1 L19.1,249.8 L18.3,252.6 L18.9,254.9 L21.0,256.8 L36.6,264.4 L39.8,263.8 L43.7,260.5 L45.4,256.5 L45.5,254.2 L41.7,244.8 L39.8,242.9 L38.1,242.3 L36.2,242.4Z" fill="url(#gPit)"/>
<path d="M36.6,264.4 L39.8,263.8 L43.3,260.8 L41.7,257.0 L39.8,255.0 L38.1,254.5 L36.2,254.6 L25.1,258.8Z" fill="#666666" opacity="0.8"/>
<path d="M43.0,270.9 L41.3,273.1 L41.0,275.3 L46.1,290.9 L48.4,292.6 L55.4,294.5 L57.6,294.5 L59.3,293.8 L64.8,288.2 L65.4,285.9 L64.5,283.2 L48.4,270.2 L45.6,269.8Z" fill="url(#gPit)"/>
<path d="M46.1,290.9 L48.4,292.6 L55.4,294.5 L57.6,294.5 L59.3,293.8 L59.9,293.2 L48.4,283.9 L45.6,283.4 L43.9,284.1Z" fill="#666666" opacity="0.8"/>
<path d="M64.0,308.6 L65.4,311.0 L69.9,313.9 L72.4,314.1 L74.5,312.9 L87.1,299.5 L87.2,296.8 L85.2,289.8 L84.4,288.4 L83.1,287.5 L81.6,287.1 L74.8,288.2 L63.9,298.7 L62.9,300.1 L62.6,301.8Z" fill="url(#gPit2)"/>
<path d="M69.9,313.9 L72.4,314.1 L74.5,312.9 L83.9,302.9 L83.1,302.4 L81.6,302.0 L74.8,303.1 L66.1,311.4Z" fill="#666666" opacity="0.8"/>
<path d="M52.0,236.7 L49.6,238.7 L48.9,240.4 L49.0,242.2 L51.3,247.7 L52.6,249.0 L54.3,249.7 L56.2,249.7 L58.3,248.7 L65.6,241.4 L66.6,239.2 L66.5,237.3 L65.8,235.6 L64.4,234.3 L62.6,233.6 L60.7,233.7Z" fill="url(#gPit)"/>
<path d="M51.3,247.7 L52.6,249.0 L54.3,249.7 L56.2,249.7 L58.3,248.7 L64.0,243.0 L62.6,242.5 L60.7,242.5 L52.0,245.5 L50.8,246.5Z" fill="#666666" opacity="0.8"/>
<path d="M56.9,257.4 L54.9,258.4 L53.5,260.8 L53.5,263.5 L55.1,265.8 L73.9,280.5 L76.2,281.1 L79.9,280.6 L82.6,278.9 L83.6,276.8 L84.0,271.8 L83.6,269.9 L82.1,268.0 L60.4,257.3Z" fill="url(#gPit)"/>
<path d="M73.9,280.5 L76.2,281.1 L79.9,280.6 L80.5,280.2 L61.9,271.1Z" fill="#666666" opacity="0.8"/>
<path d="M76.9,323.9 L77.9,325.6 L82.2,329.2 L84.9,329.5 L87.0,328.3 L94.9,317.8 L95.0,316.2 L93.8,310.5 L92.6,308.3 L91.3,307.4 L89.6,307.1 L88.0,307.5 L86.7,308.4 L76.9,318.7 L76.2,321.0Z" fill="url(#gPit2)"/>
<path d="M82.2,329.2 L84.9,329.5 L87.0,328.3 L92.7,320.7 L92.6,320.6 L91.3,319.7 L89.6,319.4 L88.0,319.8 L86.7,320.7 L80.2,327.5Z" fill="#666666" opacity="0.8"/>
<path d="M112.5,285.1 L93.8,285.9 L92.4,286.8 L91.5,288.1 L91.2,289.7 L93.3,297.6 L95.8,300.4 L98.0,301.0 L115.2,301.0 L117.1,300.3 L118.5,298.8 L118.9,296.1 L116.7,288.2 L115.9,286.7 L114.6,285.6Z" fill="url(#gPit2)"/>
<path d="M93.3,297.6 L95.8,300.4 L98.0,301.0 L115.2,301.0 L117.1,300.3 L117.5,299.9 L116.7,296.9 L115.9,295.4 L114.6,294.3 L112.5,293.9 L93.8,294.7 L92.7,295.4Z" fill="#666666" opacity="0.8"/>
<path d="M92.0,268.6 L91.7,275.6 L92.6,277.2 L94.1,278.4 L96.4,278.9 L114.3,278.4 L117.0,276.8 L117.8,275.4 L118.2,273.5 L115.7,264.6 L113.9,262.5 L111.8,261.7 L98.7,261.4 L96.9,261.7 L95.4,262.7 L92.6,266.9Z" fill="url(#gPit)"/>
<path d="M92.6,277.2 L94.1,278.4 L96.4,278.9 L114.3,278.4 L116.5,277.1 L115.7,274.2 L113.9,272.1 L111.8,271.3 L98.7,271.1 L96.9,271.4 L95.4,272.3 L92.6,276.6 L92.4,276.9Z" fill="#666666" opacity="0.8"/>
<path d="M82.6,259.7 L84.4,260.2 L86.3,259.9 L88.9,257.7 L89.5,255.0 L88.4,249.9 L86.6,248.0 L77.9,243.8 L75.6,243.5 L73.9,244.1 L70.8,246.9 L69.8,248.5 L69.5,250.8 L70.1,252.6 L71.7,254.4Z" fill="url(#gPit)"/>
<path d="M84.4,260.2 L86.3,259.9 L87.9,258.6 L86.6,257.1 L77.9,252.9 L75.6,252.7 L73.9,253.2 L72.3,254.7 L82.6,259.7Z" fill="#666666" opacity="0.8"/>
<path d="M80.5,227.1 L78.5,228.3 L77.5,229.8 L77.2,232.1 L77.8,234.3 L79.9,236.3 L88.4,240.0 L90.6,239.6 L92.4,238.2 L97.4,230.6 L98.2,228.4 L98.0,226.6 L97.1,224.9 L95.6,223.7 L93.9,223.2 L92.0,223.4Z" fill="url(#gPit)"/>
<path d="M88.4,240.0 L90.6,239.6 L92.4,238.2 L95.8,233.1 L95.6,233.0 L93.9,232.4 L92.0,232.6 L80.5,236.3 L80.2,236.4Z" fill="#666666" opacity="0.8"/>
<path d="M97.6,323.9 L90.9,332.9 L90.8,334.5 L92.0,337.0 L100.4,342.6 L102.8,343.1 L104.4,342.6 L105.6,341.5 L112.8,332.4 L113.4,329.6 L112.7,327.7 L111.2,326.3 L102.1,322.9 L100.1,322.6Z" fill="url(#gPit2)"/>
<path d="M100.4,342.6 L102.8,343.1 L104.4,342.6 L105.6,341.5 L109.3,336.8 L102.1,334.1 L100.1,333.9 L97.6,335.1 L94.8,338.9Z" fill="#666666" opacity="0.8"/>
<path d="M94.1,362.6 L92.8,364.2 L92.4,366.2 L93.0,368.1 L94.4,369.6 L102.2,373.3 L105.2,373.5 L107.7,371.9 L108.4,370.3 L108.4,368.6 L106.9,360.3 L105.3,358.0 L103.4,357.2 L101.4,357.4Z" fill="url(#gPit2)"/>
<path d="M102.2,373.3 L105.2,373.5 L107.4,372.0 L106.9,369.2 L105.3,366.9 L103.4,366.2 L101.4,366.4 L95.9,370.3Z" fill="#666666" opacity="0.8"/>
<path d="M96.3,250.0 L97.6,252.4 L100.0,253.8 L113.0,254.1 L114.9,253.7 L116.8,252.4 L120.2,247.0 L120.3,244.6 L119.0,240.3 L117.9,238.8 L116.3,237.7 L108.0,234.5 L104.8,234.7 L102.9,236.1 L96.6,245.8 L96.1,247.6Z" fill="url(#gPit)"/>
<path d="M100.0,253.8 L113.0,254.1 L114.9,253.7 L116.8,252.4 L118.2,250.1 L117.9,249.5 L116.3,248.5 L108.0,245.3 L104.8,245.5 L102.9,246.9 L98.8,253.1Z" fill="#666666" opacity="0.8"/>
<path d="M108.7,346.6 L107.8,348.9 L108.2,350.9 L109.4,352.5 L111.3,353.3 L133.9,350.6 L135.4,349.9 L136.8,348.3 L139.0,341.7 L139.0,340.0 L138.2,338.1 L130.4,328.6 L128.6,327.5 L126.5,327.5 L122.1,329.7Z" fill="url(#gPit2)"/>
<path d="M133.9,350.6 L135.4,349.9 L135.8,349.4 L130.4,342.8 L128.6,341.7 L126.5,341.7 L122.1,343.9 L115.0,352.9Z" fill="#666666" opacity="0.8"/>
<path d="M113.9,367.7 L114.5,369.3 L115.7,370.4 L118.5,371.1 L134.6,365.9 L136.0,365.1 L137.2,363.4 L137.4,361.7 L136.9,359.2 L135.4,357.3 L133.2,356.5 L116.0,358.6 L114.0,360.0 L113.2,361.8Z" fill="url(#gPit2)"/>
<path d="M114.5,369.3 L115.7,370.4 L118.5,371.1 L134.6,365.9 L135.5,365.4 L135.4,365.4 L133.2,364.5 L116.0,366.7 L114.0,368.0Z" fill="#666666" opacity="0.8"/>
<path d="M124.6,267.8 L126.2,270.1 L128.7,271.1 L148.7,271.1 L150.8,270.2 L152.0,268.7 L153.4,265.5 L153.5,263.2 L151.3,257.7 L149.1,255.9 L129.9,251.9 L128.0,251.9 L125.2,253.5 L122.3,258.4 L122.3,260.3Z" fill="url(#gPit)"/>
<path d="M126.2,270.1 L128.7,271.1 L148.7,271.1 L150.8,270.2 L151.7,269.2 L151.3,268.3 L149.1,266.5 L129.9,262.5 L128.0,262.5 L125.2,264.1 L124.1,266.0 L124.6,267.8Z" fill="#666666" opacity="0.8"/>
<path d="M100.3,314.1 L101.2,316.0 L102.5,317.0 L119.8,323.5 L121.8,323.3 L125.7,321.5 L126.8,320.3 L127.5,318.4 L126.1,310.0 L123.8,307.5 L122.0,306.7 L102.7,306.8 L100.9,307.9 L99.9,309.6 L99.7,311.3Z" fill="url(#gPit2)"/>
<path d="M102.5,317.0 L119.8,323.5 L121.8,323.3 L125.7,321.5 L126.3,320.8 L126.1,319.3 L123.8,316.8 L122.0,315.9 L102.7,316.1 L101.9,316.5Z" fill="#666666" opacity="0.8"/>
<path d="M125.7,299.3 L126.7,301.1 L128.4,302.2 L130.4,302.3 L132.3,301.5 L150.1,284.8 L151.2,282.1 L150.2,279.4 L148.6,278.2 L147.0,277.8 L126.6,277.7 L123.9,278.7 L121.8,281.4 L121.3,283.8Z" fill="url(#gPit2)"/>
<path d="M126.7,301.1 L128.4,302.2 L130.4,302.3 L132.3,301.5 L143.1,291.3 L126.6,291.3 L123.9,292.2 L123.7,292.4 L125.7,299.3Z" fill="#666666" opacity="0.8"/>
<path d="M110.2,218.0 L108.5,218.8 L107.1,220.7 L106.8,223.1 L107.6,225.3 L109.3,226.8 L118.5,230.2 L120.7,229.9 L122.3,228.8 L128.2,221.7 L129.0,219.5 L128.8,217.6 L127.9,216.0 L126.5,214.8 L124.7,214.2 L122.9,214.4Z" fill="url(#gPit)"/>
<path d="M118.5,230.2 L120.7,229.9 L122.3,228.8 L126.6,223.6 L126.5,223.6 L124.7,223.0 L122.9,223.2 L110.2,226.8 L109.8,227.0Z" fill="#666666" opacity="0.8"/>
<path d="M137.9,319.1 L136.1,320.0 L135.1,321.3 L134.5,323.2 L135.0,325.2 L143.0,335.1 L144.6,336.1 L146.2,336.3 L150.5,336.0 L152.3,335.0 L164.1,321.7 L165.1,319.0 L164.8,317.4 L163.9,316.0 L162.6,315.0 L161.0,314.7Z" fill="url(#gPit2)"/>
<path d="M143.0,335.1 L144.6,336.1 L146.2,336.3 L150.5,336.0 L152.3,335.0 L159.5,326.9 L139.5,330.7Z" fill="#666666" opacity="0.8"/>
<path d="M135.8,305.9 L134.5,308.1 L134.6,310.1 L135.9,312.2 L138.2,313.2 L160.2,309.0 L161.9,307.7 L162.8,305.4 L161.5,296.0 L157.0,290.7 L155.1,290.0 L153.1,290.2Z" fill="url(#gPit2)"/>
<path d="M160.2,309.0 L161.1,308.3 L157.0,303.5 L155.1,302.7 L153.1,303.0 L142.8,312.3Z" fill="#666666" opacity="0.8"/>
<path d="M127.1,241.0 L128.3,243.0 L130.3,244.2 L146.0,247.4 L147.8,247.2 L149.5,246.3 L150.7,244.9 L151.2,243.1 L151.1,241.3 L147.6,229.5 L146.2,228.1 L140.9,224.8 L138.7,224.1 L136.5,224.4 L134.9,225.5 L127.1,234.9 L126.3,237.6Z" fill="url(#gPit)"/>
<path d="M130.3,244.2 L146.0,247.4 L147.8,247.2 L148.9,246.6 L147.6,242.3 L146.2,240.9 L140.9,237.6 L138.7,236.9 L136.5,237.2 L134.9,238.3 L130.1,244.1Z" fill="#666666" opacity="0.8"/>
<path d="M156.9,274.3 L156.5,276.2 L157.7,282.8 L163.6,289.5 L165.8,290.7 L167.5,290.7 L194.7,285.4 L196.5,284.4 L197.6,282.3 L195.2,268.2 L194.0,266.2 L192.2,265.3 L161.8,266.9 L159.4,268.6Z" fill="url(#gPit2)"/>
<path d="M163.6,289.5 L165.8,290.7 L167.5,290.7 L194.7,285.4 L195.7,284.9 L195.2,282.2 L194.0,280.2 L192.2,279.3 L161.8,280.9 L159.4,282.6 L158.8,284.0Z" fill="#666666" opacity="0.8"/>
<path d="M159.3,257.1 L161.0,259.2 L163.6,260.1 L186.4,258.8 L188.6,258.1 L190.3,256.5 L190.9,254.7 L191.6,241.0 L191.0,238.2 L188.2,235.1 L186.4,234.4 L184.5,234.5 L160.6,245.9 L158.8,248.0 L157.8,251.5 L157.9,253.5Z" fill="url(#gPit)"/>
<path d="M163.6,260.1 L186.4,258.8 L188.6,258.1 L190.3,256.5 L190.9,254.7 L191.0,252.5 L191.0,252.3 L188.2,249.2 L186.4,248.5 L184.5,248.6 L161.8,259.5Z" fill="#666666" opacity="0.8"/>
<path d="M144.7,208.6 L143.0,209.4 L141.5,211.2 L141.1,213.0 L141.5,215.2 L143.3,217.3 L149.8,221.0 L151.7,220.9 L153.5,220.1 L161.9,213.7 L163.4,210.8 L163.4,209.0 L162.6,207.3 L161.2,206.0 L159.5,205.4 L157.6,205.5Z" fill="url(#gPit)"/>
<path d="M149.8,221.0 L151.7,220.9 L153.5,220.1 L160.9,214.5 L159.5,214.0 L157.6,214.0 L144.7,217.2 L143.8,217.6Z" fill="#666666" opacity="0.8"/>
<path d="M156.7,233.1 L157.5,234.7 L158.9,236.0 L160.7,236.6 L163.0,236.3 L176.2,229.9 L178.0,227.1 L177.8,224.3 L176.4,222.4 L171.9,219.3 L169.7,218.7 L167.9,219.0 L157.0,227.2 L156.0,229.9Z" fill="url(#gPit)"/>
<path d="M158.9,236.0 L160.7,236.6 L163.0,236.3 L174.4,230.8 L171.9,229.1 L169.7,228.5 L167.9,228.8 L158.7,235.8Z" fill="#666666" opacity="0.8"/>
<path d="M141.5,351.9 L141.3,353.8 L142.9,360.2 L143.8,361.6 L145.1,362.5 L147.0,362.9 L151.3,362.0 L153.3,362.2 L158.4,365.4 L160.3,365.8 L162.6,365.1 L164.4,363.7 L165.3,362.3 L165.5,360.0 L163.4,350.9 L152.3,342.2 L150.7,341.7 L147.3,341.9 L145.0,343.0 L144.1,344.3Z" fill="url(#gPit2)"/>
<path d="M143.8,361.6 L145.1,362.5 L147.0,362.9 L151.3,362.0 L153.3,362.2 L158.4,365.4 L160.3,365.8 L162.6,365.1 L163.5,364.4 L163.4,364.1 L152.3,355.4 L150.7,355.0 L147.3,355.2 L145.0,356.2 L144.1,357.6 L143.1,360.4Z" fill="#666666" opacity="0.8"/>
<path d="M167.8,299.6 L169.5,310.1 L172.5,314.3 L174.2,315.3 L175.8,315.5 L192.4,307.2 L194.3,305.1 L196.9,297.1 L197.1,295.4 L196.6,293.9 L194.9,292.1 L192.5,291.6 L170.0,296.1 L168.5,297.6Z" fill="url(#gPit2)"/>
<path d="M169.5,310.1 L172.5,314.3 L174.2,315.3 L175.8,315.5 L192.4,307.2 L194.3,305.1 L194.3,305.1 L192.5,304.7 L170.0,309.3 L169.4,309.8Z" fill="#666666" opacity="0.8"/>
<path d="M159.8,335.1 L158.7,337.6 L159.5,340.3 L164.5,344.4 L166.5,345.0 L168.6,344.6 L178.6,338.2 L179.6,337.0 L180.2,335.0 L179.7,333.0 L175.7,325.1 L174.2,323.7 L172.2,323.2 L170.6,323.4 L169.3,324.3Z" fill="url(#gPit2)"/>
<path d="M164.5,344.4 L166.5,345.0 L168.6,344.6 L176.8,339.3 L175.7,337.1 L174.2,335.7 L172.2,335.2 L170.6,335.4 L169.3,336.3 L163.1,343.2Z" fill="#666666" opacity="0.8"/>
<path d="M175.7,201.3 L173.2,202.7 L172.1,204.7 L172.0,207.1 L173.3,210.7 L183.3,217.7 L186.0,218.0 L188.1,217.1 L189.3,215.8 L193.9,207.8 L194.0,205.9 L193.2,202.5 L192.2,200.4 L190.3,199.1 L188.0,198.8Z" fill="url(#gPit)"/>
<path d="M183.3,217.7 L186.0,218.0 L188.1,217.1 L189.3,215.8 L192.1,210.9 L190.3,209.7 L188.0,209.4 L175.7,211.9 L175.3,212.1Z" fill="#666666" opacity="0.8"/>
<path d="M170.3,355.1 L171.7,357.5 L174.4,358.5 L189.9,354.5 L191.3,353.2 L192.0,351.3 L191.1,344.3 L189.7,342.8 L187.0,341.5 L185.3,341.2 L183.7,341.7 L171.2,349.7 L170.0,351.8Z" fill="url(#gPit2)"/>
<path d="M174.4,358.5 L189.9,354.5 L190.9,353.6 L189.7,352.3 L187.0,351.0 L185.3,350.7 L183.7,351.2 L173.0,358.0Z" fill="#666666" opacity="0.8"/>
<path d="M193.4,223.8 L192.7,226.5 L193.4,228.7 L196.2,232.2 L199.3,233.1 L220.4,227.8 L222.4,225.9 L223.1,223.2 L221.6,217.2 L219.5,214.7 L217.7,214.1 L203.0,212.4 L200.8,212.9 L199.3,214.0Z" fill="url(#gPit)"/>
<path d="M196.2,232.2 L199.3,233.1 L220.4,227.8 L220.7,227.5 L219.5,226.1 L217.7,225.5 L203.0,223.8 L200.8,224.3 L199.3,225.4 L195.6,231.5Z" fill="#666666" opacity="0.8"/>
<path d="M186.6,334.1 L188.1,335.7 L191.6,337.5 L194.4,337.8 L203.4,331.9 L204.9,330.0 L205.2,328.1 L204.7,326.5 L197.3,315.2 L195.5,313.6 L193.5,313.3 L191.9,313.8 L182.8,318.5 L181.3,320.4 L180.9,322.0 L181.2,323.6Z" fill="url(#gPit2)"/>
<path d="M188.1,335.7 L191.6,337.5 L194.4,337.8 L200.7,333.7 L197.3,328.7 L195.5,327.1 L193.5,326.8 L191.9,327.2 L184.9,330.9 L186.6,334.1Z" fill="#666666" opacity="0.8"/>
<path d="M197.6,350.0 L199.0,352.7 L203.1,355.7 L205.1,356.3 L207.5,355.6 L213.1,351.4 L220.1,349.5 L221.5,348.0 L221.9,345.5 L218.3,335.2 L216.0,333.6 L211.3,333.5 L199.0,341.8 L197.9,342.9 L197.3,344.4Z" fill="url(#gPit2)"/>
<path d="M203.1,355.7 L205.1,356.3 L207.5,355.6 L213.1,351.4 L219.1,349.8 L218.3,347.7 L216.0,346.1 L211.3,346.0 L200.1,353.6Z" fill="#666666" opacity="0.8"/>
<path d="M198.5,255.2 L198.8,257.1 L199.8,258.7 L201.3,259.9 L203.2,260.3 L220.6,255.5 L222.2,254.7 L223.6,252.9 L224.0,250.7 L222.7,240.7 L221.8,238.5 L220.0,237.0 L217.2,236.6 L202.7,240.2 L201.0,241.0 L199.7,242.4 L199.1,244.1Z" fill="url(#gPit)"/>
<path d="M199.8,258.7 L201.3,259.9 L203.2,260.3 L220.6,255.5 L222.2,254.7 L222.7,254.0 L222.7,253.7 L221.8,251.5 L220.0,250.0 L217.2,249.6 L202.7,253.2 L201.0,254.0 L199.7,255.4 L199.1,257.2 L199.1,257.6Z" fill="#666666" opacity="0.8"/>
<path d="M214.4,286.4 L212.6,287.2 L211.3,288.9 L211.0,290.9 L211.7,292.9 L223.5,300.9 L225.9,301.6 L227.6,301.2 L237.3,296.5 L241.8,288.0 L242.3,286.1 L242.0,284.5 L241.0,283.2 L239.7,282.3 L238.1,282.0Z" fill="url(#gPit2)"/>
<path d="M223.5,300.9 L225.9,301.6 L227.6,301.2 L237.3,296.5 L239.2,293.0 L238.1,292.7 L217.2,296.6Z" fill="#666666" opacity="0.8"/>
<path d="M199.9,306.0 L199.7,307.6 L200.2,309.2 L211.6,326.5 L213.4,327.6 L216.3,327.9 L217.9,327.7 L219.3,326.9 L220.7,324.5 L222.1,309.3 L221.9,307.7 L221.1,306.2 L208.2,297.6 L205.9,296.9 L203.9,297.4 L202.4,298.8Z" fill="url(#gPit2)"/>
<path d="M211.6,326.5 L213.4,327.6 L216.3,327.9 L217.9,327.7 L219.3,326.9 L220.7,324.5 L220.8,323.1 L208.2,314.7 L205.9,314.0 L203.9,314.5 L203.7,314.6Z" fill="#666666" opacity="0.8"/>
<path d="M204.9,195.5 L202.4,196.7 L201.0,199.6 L201.5,202.4 L203.8,204.6 L218.1,206.4 L220.7,205.4 L222.1,203.6 L222.5,201.8 L222.2,196.9 L221.0,194.8 L219.5,193.7 L217.2,193.3Z" fill="url(#gPit)"/>
<path d="M203.8,204.6 L218.1,206.4 L220.7,205.4 L222.0,203.8 L221.0,202.0 L219.5,200.9 L217.2,200.5 L204.9,202.7 L202.9,203.7Z" fill="#666666" opacity="0.8"/>
<path d="M227.7,309.6 L226.9,321.4 L228.0,323.1 L229.3,324.0 L231.3,324.3 L244.0,322.9 L245.9,321.4 L246.6,318.7 L240.1,305.5 L238.7,304.1 L236.3,303.6 L230.1,306.2 L228.3,307.8Z" fill="url(#gPit2)"/>
<path d="M228.0,323.1 L229.3,324.0 L231.3,324.3 L243.1,323.0 L240.1,316.9 L238.7,315.5 L236.3,315.0 L230.1,317.6 L228.3,319.1 L227.7,321.0 L227.6,322.4Z" fill="#666666" opacity="0.8"/>
<path d="M239.7,275.9 L241.6,275.0 L242.8,273.4 L243.1,271.3 L242.2,268.8 L241.0,267.6 L229.9,261.0 L228.3,260.5 L226.6,260.6 L204.2,267.1 L202.3,268.6 L201.6,270.5 L203.2,279.4 L204.7,281.3 L206.6,282.0Z" fill="url(#gPit2)"/>
<path d="M204.7,281.3 L206.6,282.0 L236.1,276.5 L229.9,272.9 L228.3,272.3 L226.6,272.4 L204.2,278.9 L203.4,279.6Z" fill="#666666" opacity="0.8"/>
<path d="M254.4,277.8 L252.0,278.5 L250.5,280.4 L250.3,282.9 L251.5,285.0 L269.0,298.7 L271.8,299.3 L274.3,298.1 L275.2,296.7 L275.5,294.7 L274.0,281.1 L272.8,279.0 L270.3,277.8Z" fill="url(#gPit2)"/>
<path d="M269.0,298.7 L271.8,299.3 L274.3,298.1 L274.5,297.7 L274.0,293.0 L272.8,290.8 L270.3,289.6 L257.4,289.6Z" fill="#666666" opacity="0.8"/>
<path d="M238.1,238.6 L236.4,237.9 L234.0,238.0 L232.3,239.0 L231.0,240.9 L230.7,243.2 L232.0,252.9 L232.8,254.7 L234.3,255.9 L240.3,259.5 L243.4,259.9 L246.1,258.2 L250.0,252.2 L250.7,250.5 L250.7,248.6 L249.0,245.9Z" fill="url(#gPit)"/>
<path d="M232.0,252.9 L232.8,254.7 L234.3,255.9 L240.3,259.5 L243.4,259.9 L246.1,258.2 L247.1,256.7 L238.1,250.7 L236.4,250.0 L234.0,250.1 L232.3,251.0 L231.9,251.7Z" fill="#666666" opacity="0.8"/>
<path d="M233.1,208.4 L231.3,208.9 L229.8,210.0 L228.6,213.0 L229.7,217.9 L230.9,219.4 L232.6,220.3 L235.0,220.5 L246.3,216.9 L248.2,215.6 L249.0,213.9 L249.2,212.1 L248.7,210.3 L247.6,208.9 L246.0,208.0 L244.2,207.7Z" fill="url(#gPit)"/>
<path d="M229.7,217.9 L230.9,219.4 L232.6,220.3 L235.0,220.5 L246.3,216.9 L247.7,215.9 L247.6,215.9 L246.0,215.0 L244.2,214.7 L233.1,215.4 L231.3,215.9 L229.8,217.0 L229.6,217.4Z" fill="#666666" opacity="0.8"/>
<path d="M228.2,330.2 L225.6,331.4 L224.7,332.8 L224.4,334.5 L227.8,345.0 L229.3,346.8 L232.0,347.5 L245.4,345.4 L247.0,344.8 L248.2,343.7 L250.6,334.0 L250.2,332.0 L248.0,329.4 L245.2,328.6Z" fill="url(#gPit2)"/>
<path d="M227.8,345.0 L229.3,346.8 L232.0,347.5 L245.4,345.4 L247.0,344.8 L248.2,343.7 L248.9,340.8 L248.0,339.7 L245.2,339.0 L228.2,340.6 L226.6,341.3Z" fill="#666666" opacity="0.8"/>
<path d="M243.8,296.7 L243.3,298.6 L243.8,300.5 L249.0,310.4 L250.9,311.9 L253.0,312.2 L254.6,311.7 L261.5,306.8 L262.8,305.2 L263.2,302.8 L262.2,300.6 L250.9,291.8 L248.9,291.4 L246.6,292.1 L245.5,293.3Z" fill="url(#gPit2)"/>
<path d="M249.0,310.4 L250.9,311.9 L253.0,312.2 L254.6,311.7 L258.3,309.0 L250.9,303.3 L248.9,302.8 L246.6,303.6 L245.9,304.4Z" fill="#666666" opacity="0.8"/>
<path d="M245.7,225.1 L243.7,226.3 L242.7,227.9 L242.4,230.2 L243.1,232.4 L244.5,233.7 L249.0,236.5 L251.3,236.6 L253.1,235.9 L254.6,234.1 L255.2,232.3 L255.2,228.2 L254.4,226.0 L252.6,224.4 L250.8,223.9Z" fill="url(#gPit)"/>
<path d="M244.5,233.7 L249.0,236.5 L251.3,236.6 L253.1,235.9 L254.6,234.1 L254.7,233.9 L254.4,233.0 L252.6,231.4 L250.8,230.9 L245.7,232.1 L243.9,233.2Z" fill="#666666" opacity="0.8"/>
<path d="M249.1,265.7 L248.4,267.6 L248.8,269.6 L250.0,271.3 L251.4,272.0 L274.0,272.2 L276.0,271.5 L285.4,263.5 L286.4,261.7 L286.5,260.1 L285.6,257.8 L280.3,251.5 L278.8,250.6 L261.4,249.4 L259.9,249.9 L258.7,251.0Z" fill="url(#gPit2)"/>
<path d="M274.0,272.2 L276.0,271.5 L282.1,266.2 L280.3,264.0 L278.8,263.1 L261.4,261.9 L259.9,262.4 L258.7,263.5 L253.1,272.0Z" fill="#666666" opacity="0.8"/>
<path d="M233.9,190.6 L231.0,192.1 L229.8,195.1 L230.5,198.4 L233.1,200.4 L234.9,200.7 L247.8,199.9 L250.3,198.7 L251.6,196.7 L251.8,194.9 L251.4,191.9 L250.1,190.0 L248.5,189.0 L246.2,188.8Z" fill="url(#gPit)"/>
<path d="M233.1,200.4 L234.9,200.7 L247.8,199.9 L250.3,198.7 L250.9,197.8 L250.1,196.5 L248.5,195.6 L246.2,195.3 L233.9,197.1 L231.0,198.6 L231.0,198.7Z" fill="#666666" opacity="0.8"/>
<path d="M264.1,204.4 L261.0,205.1 L259.6,206.3 L258.8,208.0 L259.2,214.1 L260.3,215.7 L261.8,216.8 L264.2,217.1 L279.3,215.7 L281.4,214.7 L282.8,212.8 L283.2,211.0 L282.9,209.2 L281.9,207.6 L280.4,206.6Z" fill="url(#gPit)"/>
<path d="M260.3,215.7 L261.8,216.8 L264.2,217.1 L279.3,215.7 L281.4,214.7 L281.6,214.5 L280.4,213.6 L264.1,211.4 L261.0,212.1 L259.6,213.4 L259.3,214.1Z" fill="#666666" opacity="0.8"/>
<path d="M253.9,319.1 L252.5,320.9 L252.0,324.5 L254.0,327.7 L255.7,329.0 L257.4,329.3 L275.2,328.8 L277.0,327.8 L282.8,321.3 L283.1,319.1 L282.3,311.2 L281.3,309.4 L278.5,307.5 L271.6,306.8Z" fill="url(#gPit2)"/>
<path d="M257.4,329.3 L275.2,328.8 L277.0,327.8 L281.7,322.5 L281.3,321.8 L278.5,319.9 L271.6,319.2 L257.1,329.2Z" fill="#666666" opacity="0.8"/>
<path d="M255.1,339.9 L255.2,341.9 L256.4,343.9 L259.6,346.3 L261.9,346.8 L264.2,345.9 L268.7,341.8 L269.7,340.1 L269.8,338.4 L268.9,336.2 L266.8,334.8 L259.1,334.9 L257.5,335.4 L256.2,336.5Z" fill="url(#gPit2)"/>
<path d="M256.4,343.9 L259.6,346.3 L261.9,346.8 L264.2,345.9 L268.2,342.3 L266.8,341.4 L259.1,341.4 L257.5,342.0 L256.2,343.1 L256.1,343.5Z" fill="#666666" opacity="0.8"/>
<path d="M290.1,252.9 L292.4,254.5 L295.6,254.3 L306.6,247.1 L308.2,244.8 L308.4,243.0 L306.7,220.2 L305.5,217.8 L303.6,216.5 L298.0,215.9 L296.1,216.2 L294.1,217.5 L291.1,221.3 L285.4,245.3 L286.0,247.9Z" fill="url(#gPit)"/>
<path d="M292.4,254.5 L295.6,254.3 L306.6,247.1 L307.0,246.5 L306.7,241.4 L305.5,239.0 L303.6,237.7 L298.0,237.1 L296.1,237.4 L294.1,238.7 L291.1,242.5 L289.0,251.5 L290.1,252.9Z" fill="#666666" opacity="0.8"/>
<path d="M263.3,186.5 L260.7,187.7 L259.1,190.6 L259.6,193.9 L262.0,196.2 L278.1,198.3 L280.3,197.6 L282.2,195.5 L282.6,193.2 L281.7,188.5 L280.8,186.8 L278.9,185.4 L276.6,185.1Z" fill="url(#gPit)"/>
<path d="M262.0,196.2 L278.1,198.3 L280.3,197.6 L281.7,196.0 L281.7,195.8 L280.8,194.1 L278.9,192.7 L276.6,192.4 L263.3,193.8 L260.7,195.0 L260.7,195.0Z" fill="#666666" opacity="0.8"/>
<path d="M281.6,299.8 L282.3,301.7 L283.9,303.0 L285.9,303.5 L287.9,303.0 L300.3,294.3 L303.9,286.7 L304.1,284.6 L303.4,283.0 L293.9,269.1 L291.9,267.8 L290.2,267.7 L288.3,268.4 L280.5,275.0 L279.5,276.8Z" fill="url(#gPit2)"/>
<path d="M282.3,301.7 L283.9,303.0 L285.9,303.5 L287.9,303.0 L298.5,295.5 L293.9,288.8 L291.9,287.5 L290.2,287.4 L288.3,288.1 L281.1,294.2 L281.6,299.8Z" fill="#666666" opacity="0.8"/>
<path d="M262.8,238.3 L263.9,241.4 L266.3,242.9 L274.3,243.5 L277.0,242.6 L278.6,240.3 L281.3,229.5 L281.4,227.6 L280.4,225.5 L278.5,224.0 L276.6,223.6 L267.1,224.5 L264.9,225.3 L263.6,226.6 L262.9,228.3Z" fill="url(#gPit)"/>
<path d="M263.9,241.4 L266.3,242.9 L274.3,243.5 L277.0,242.6 L278.6,240.3 L279.7,235.9 L278.5,234.9 L276.6,234.6 L267.1,235.4 L264.9,236.2 L263.6,237.5 L263.0,238.9Z" fill="#666666" opacity="0.8"/>
<path d="M280.4,337.2 L281.2,339.5 L282.8,340.9 L284.4,341.3 L289.3,341.0 L298.1,339.5 L299.9,337.9 L300.5,335.5 L300.1,333.9 L298.7,332.3 L289.3,327.0 L287.4,326.6 L284.8,327.7 L280.9,332.0 L280.3,334.0Z" fill="url(#gPit2)"/>
<path d="M282.8,340.9 L284.4,341.3 L289.3,341.0 L297.5,339.6 L289.3,335.0 L287.4,334.7 L284.8,335.7 L281.3,339.6Z" fill="#666666" opacity="0.8"/>
<path d="M293.9,183.4 L290.9,184.7 L289.5,187.6 L292.0,202.0 L295.2,206.7 L296.7,207.9 L303.5,208.7 L305.8,208.3 L307.6,206.9 L312.6,200.0 L312.9,187.1 L312.4,184.9 L310.9,183.1 L308.7,182.3Z" fill="url(#gPit)"/>
<path d="M292.0,202.0 L295.2,206.7 L296.7,207.9 L303.5,208.7 L305.8,208.3 L307.6,206.9 L312.5,200.1 L312.4,199.4 L310.9,197.7 L308.7,196.8 L293.9,197.9 L291.5,199.0Z" fill="#666666" opacity="0.8"/>
<path d="M299.5,259.7 L297.8,262.0 L297.6,263.7 L298.1,265.3 L307.7,279.4 L309.0,280.4 L310.6,280.8 L312.2,280.7 L314.0,279.6 L327.6,265.5 L328.7,263.1 L328.3,257.7 L327.0,255.7 L314.1,251.3 L311.6,251.7Z" fill="url(#gPit2)"/>
<path d="M307.7,279.4 L309.0,280.4 L310.6,280.8 L312.2,280.7 L314.0,279.6 L322.8,270.5 L314.1,267.5 L311.6,268.0 L303.6,273.3Z" fill="#666666" opacity="0.8"/>
<path d="M288.1,311.8 L289.1,319.6 L290.4,321.1 L303.5,328.6 L305.6,329.1 L307.6,328.6 L318.3,322.6 L319.7,321.1 L320.1,319.1 L319.2,316.5 L304.9,302.2 L303.5,301.3 L301.9,301.0 L299.6,301.7 L289.0,309.2Z" fill="url(#gPit2)"/>
<path d="M303.5,328.6 L305.6,329.1 L307.6,328.6 L312.9,325.7 L304.9,317.7 L303.5,316.8 L301.9,316.4 L299.6,317.2 L292.4,322.3Z" fill="#666666" opacity="0.8"/>
<path d="M314.7,287.4 L312.0,286.9 L309.5,288.3 L307.0,293.6 L307.4,296.5 L322.1,311.5 L324.4,312.4 L326.8,311.9 L328.3,310.5 L333.0,301.5 L333.3,299.5 L332.8,298.0 L331.1,296.3Z" fill="url(#gPit2)"/>
<path d="M322.1,311.5 L324.4,312.4 L326.8,311.9 L328.3,310.5 L329.0,309.1 L314.7,301.4 L312.0,300.9 L311.8,301.0Z" fill="#666666" opacity="0.8"/>
<path d="M313.3,331.8 L311.4,334.0 L311.2,335.6 L311.5,337.3 L316.2,342.1 L318.4,343.0 L320.7,342.6 L327.4,337.7 L331.3,336.3 L332.6,334.8 L333.0,333.3 L333.0,331.4 L332.1,329.6 L328.2,326.2 L326.2,325.5 L324.2,325.8Z" fill="url(#gPit2)"/>
<path d="M316.2,342.1 L318.4,343.0 L320.7,342.6 L327.4,337.7 L329.5,337.0 L328.2,335.8 L326.2,335.1 L324.2,335.5 L314.8,340.7Z" fill="#666666" opacity="0.8"/>
<path d="M315.9,241.7 L316.6,243.9 L318.8,245.7 L328.0,248.7 L331.3,248.3 L334.0,246.0 L335.0,244.0 L335.3,234.0 L334.8,231.6 L332.7,229.6 L321.6,225.1 L319.8,224.7 L317.6,225.3 L315.9,226.8 L315.0,229.0Z" fill="url(#gPit)"/>
<path d="M316.6,243.9 L318.8,245.7 L328.0,248.7 L331.3,248.3 L334.0,246.0 L334.6,244.7 L332.7,242.8 L321.6,238.3 L319.8,237.9 L317.6,238.5 L315.9,240.0 L315.8,240.1 L315.9,241.7Z" fill="#666666" opacity="0.8"/>
<path d="M318.0,206.2 L315.4,209.8 L315.4,212.1 L316.1,213.8 L317.4,215.1 L337.4,223.1 L340.5,222.3 L350.7,214.5 L352.0,213.0 L352.6,211.2 L352.4,209.3 L351.2,207.3 L346.7,203.6 L344.5,202.8 L320.1,205.1Z" fill="url(#gPit)"/>
<path d="M337.4,223.1 L340.5,222.3 L348.5,216.2 L346.7,214.7 L344.5,213.9 L320.3,216.2Z" fill="#666666" opacity="0.8"/>
<path d="M331.2,317.1 L330.7,319.0 L331.4,321.3 L335.2,324.7 L337.0,325.6 L353.7,323.1 L355.3,322.5 L356.7,321.0 L357.2,319.4 L357.2,303.2 L356.5,300.9 L355.4,299.8 L353.5,299.1 L344.6,298.1 L341.2,299.2 L339.7,300.7Z" fill="url(#gPit2)"/>
<path d="M335.2,324.7 L337.0,325.6 L353.7,323.1 L355.3,322.5 L356.7,321.0 L357.2,319.4 L357.2,318.3 L356.5,316.1 L355.4,314.9 L353.5,314.2 L344.6,313.2 L341.2,314.3 L339.7,315.9 L335.1,324.7Z" fill="#666666" opacity="0.8"/>
<path d="M333.0,291.0 L335.4,291.5 L337.3,290.8 L338.9,288.9 L339.2,286.9 L336.7,273.4 L334.7,271.1 L332.3,270.4 L330.7,270.8 L329.4,271.7 L322.0,279.3 L321.1,282.0 L321.4,283.6 L322.6,285.2Z" fill="url(#gPit2)"/>
<path d="M335.4,291.5 L337.3,290.8 L337.7,290.4 L336.7,285.0 L334.7,282.7 L332.3,282.0 L330.7,282.4 L329.4,283.3 L325.8,287.0 L333.0,291.0Z" fill="#666666" opacity="0.8"/>
<path d="M320.5,192.1 L321.5,195.2 L324.3,196.8 L339.1,195.4 L340.9,194.0 L341.9,191.9 L341.0,183.6 L339.5,181.7 L337.4,180.8 L323.7,181.5 L322.0,182.5 L320.8,184.6Z" fill="url(#gPit)"/>
<path d="M321.5,195.2 L324.3,196.8 L339.1,195.4 L340.9,194.0 L341.1,193.6 L341.0,192.4 L339.5,190.6 L337.4,189.6 L323.7,190.4 L322.0,191.4 L320.9,193.2Z" fill="#666666" opacity="0.8"/>
<path d="M344.8,228.6 L343.4,230.5 L342.9,232.3 L342.8,240.5 L343.8,243.1 L346.1,244.7 L354.7,246.5 L356.6,246.5 L358.7,245.5 L360.1,243.5 L360.4,241.6 L358.5,227.1 L357.3,224.6 L354.9,223.1 L352.1,223.3Z" fill="url(#gPit)"/>
<path d="M343.8,243.1 L346.1,244.7 L354.7,246.5 L356.6,246.5 L358.7,245.5 L359.2,244.9 L358.5,240.0 L357.3,237.4 L354.9,236.0 L352.1,236.1 L344.8,241.5 L343.7,242.9Z" fill="#666666" opacity="0.8"/>
<path d="M334.3,262.0 L335.6,264.6 L339.1,267.4 L340.6,268.0 L357.8,266.4 L359.4,265.9 L360.6,264.8 L363.4,260.5 L363.9,258.1 L362.9,255.9 L360.9,254.5 L340.2,250.5 L338.3,251.2 L334.4,254.7 L333.9,256.7Z" fill="url(#gPit2)"/>
<path d="M335.6,264.6 L339.1,267.4 L340.6,268.0 L357.8,266.4 L359.4,265.9 L360.6,264.8 L361.0,264.2 L360.9,264.2 L340.2,260.1 L338.3,260.8 L335.2,263.7Z" fill="#666666" opacity="0.8"/>
<path d="M347.9,292.6 L354.7,293.2 L356.1,292.5 L357.6,290.2 L358.3,276.8 L358.0,275.1 L356.8,273.4 L354.9,272.5 L346.2,273.3 L344.2,274.6 L343.3,277.2 L345.6,290.3 L346.5,291.7Z" fill="url(#gPit2)"/>
<path d="M354.7,293.2 L356.1,292.5 L357.6,290.2 L357.8,286.3 L356.8,284.8 L354.9,283.9 L346.2,284.7 L344.8,285.7 L345.6,290.3 L346.5,291.7 L347.9,292.6Z" fill="#666666" opacity="0.8"/>
<path d="M366.8,299.2 L364.1,300.4 L362.8,303.0 L362.8,321.9 L363.3,323.5 L364.4,324.7 L366.2,325.6 L367.9,325.6 L389.5,321.1 L391.9,319.6 L392.9,316.9 L391.9,314.3 L374.5,299.9 L372.4,299.0Z" fill="url(#gPit2)"/>
<path d="M363.3,323.5 L364.4,324.7 L366.2,325.6 L367.9,325.6 L383.8,322.3 L374.5,314.5 L372.4,313.6 L366.8,313.9 L364.1,315.0 L362.8,317.6 L362.8,321.9Z" fill="#666666" opacity="0.8"/>
<path d="M364.8,268.7 L364.1,270.8 L363.5,290.4 L364.5,292.2 L366.2,293.3 L371.8,293.2 L373.9,291.8 L383.9,279.4 L384.7,277.9 L384.7,275.8 L383.8,274.0 L374.4,263.6 L372.7,262.5 L370.3,262.3 L368.6,263.2Z" fill="url(#gPit2)"/>
<path d="M364.5,292.2 L366.2,293.3 L371.8,293.2 L373.9,291.8 L378.9,285.6 L374.4,280.7 L372.7,279.5 L370.3,279.4 L368.6,280.3 L364.8,285.8 L364.1,287.9 L364.0,291.4Z" fill="#666666" opacity="0.8"/>
<path d="M353.8,180.2 L350.7,181.3 L349.2,183.7 L349.1,185.5 L350.2,195.2 L351.2,197.3 L354.7,200.3 L356.5,201.0 L358.3,201.0 L360.4,200.0 L370.6,191.5 L371.6,189.3 L371.7,183.7 L370.4,181.4 L367.9,180.1Z" fill="url(#gPit)"/>
<path d="M350.2,195.2 L351.2,197.3 L354.7,200.3 L356.5,201.0 L358.3,201.0 L360.4,200.0 L369.5,192.4 L367.9,191.6 L353.8,191.7 L350.7,192.8 L350.0,193.9Z" fill="#666666" opacity="0.8"/>
<path d="M364.2,206.8 L362.8,208.6 L362.5,211.0 L363.3,213.2 L365.5,214.9 L385.4,220.5 L388.5,219.7 L390.2,217.6 L390.5,214.9 L388.2,204.2 L386.7,202.7 L378.1,198.5 L376.3,198.1 L374.1,198.7Z" fill="url(#gPit)"/>
<path d="M385.4,220.5 L388.5,219.7 L388.8,219.3 L388.2,216.5 L386.7,215.0 L378.1,210.8 L376.3,210.5 L374.1,211.0 L368.3,215.7Z" fill="#666666" opacity="0.8"/>
<path d="M368.6,244.8 L369.4,246.9 L371.2,248.4 L373.5,248.9 L375.8,248.2 L390.5,237.1 L391.6,234.7 L391.1,231.5 L388.6,229.5 L372.7,224.9 L370.8,224.7 L369.0,225.3 L367.3,227.0 L366.6,229.2Z" fill="url(#gPit)"/>
<path d="M369.4,246.9 L371.2,248.4 L373.5,248.9 L375.8,248.2 L384.6,241.6 L372.7,238.2 L370.8,238.0 L369.0,238.6 L367.9,239.7 L368.6,244.8Z" fill="#666666" opacity="0.8"/>
<path d="M381.0,298.0 L394.1,308.3 L395.7,308.5 L397.3,308.0 L398.5,307.0 L408.5,289.0 L408.6,287.0 L407.6,284.9 L401.4,280.4 L392.9,279.6 L390.6,280.3 L380.7,292.3 L379.9,293.8 L379.9,296.2Z" fill="url(#gPit2)"/>
<path d="M394.1,308.3 L395.7,308.5 L397.3,308.0 L398.5,307.0 L403.6,297.9 L401.4,296.3 L392.9,295.5 L390.6,296.2 L385.9,301.9Z" fill="#666666" opacity="0.8"/>
<path d="M390.1,272.6 L392.1,273.8 L397.0,274.3 L399.3,273.3 L400.6,271.3 L403.3,244.3 L402.6,242.0 L400.4,240.3 L398.4,240.2 L396.5,240.9 L379.3,253.9 L377.9,255.8 L377.7,257.8 L378.5,259.7Z" fill="url(#gPit2)"/>
<path d="M392.1,273.8 L397.0,274.3 L399.3,273.3 L400.6,271.3 L401.7,260.1 L400.4,259.1 L398.4,258.9 L396.5,259.7 L385.7,267.8 L390.1,272.6Z" fill="#666666" opacity="0.8"/>
<path d="M396.2,335.2 L396.7,337.3 L398.4,339.3 L400.3,340.2 L401.9,340.1 L407.2,336.8 L408.2,335.0 L408.2,333.0 L407.1,330.8 L402.9,328.1 L401.3,327.4 L399.7,327.5 L397.8,328.4 L396.8,329.8Z" fill="url(#gPit2)"/>
<path d="M398.4,339.3 L400.3,340.2 L401.9,340.1 L406.3,337.3 L402.9,335.0 L401.3,334.4 L399.7,334.5 L397.8,335.4 L396.8,336.8 L396.7,337.4Z" fill="#666666" opacity="0.8"/>
<path d="M384.4,180.1 L381.7,180.8 L379.9,182.9 L379.3,187.3 L379.6,189.2 L381.6,191.7 L389.2,195.4 L391.1,195.9 L393.5,195.4 L401.8,190.1 L403.2,188.2 L403.5,183.8 L402.3,181.9 L400.8,180.8 L399.0,180.4Z" fill="url(#gPit)"/>
<path d="M381.6,191.7 L389.2,195.4 L391.1,195.9 L393.5,195.4 L401.7,190.1 L400.8,189.5 L399.0,189.1 L384.4,188.8 L381.7,189.5 L380.8,190.6Z" fill="#666666" opacity="0.8"/>
<path d="M409.7,279.3 L412.0,280.2 L414.5,279.6 L434.4,264.2 L435.6,262.1 L436.4,256.5 L436.0,254.5 L435.0,253.2 L413.7,245.1 L411.3,245.2 L409.6,246.3 L408.5,248.8 L406.0,274.5 L406.8,276.9Z" fill="url(#gPit2)"/>
<path d="M412.0,280.2 L414.5,279.6 L427.4,269.6 L413.7,264.4 L411.3,264.5 L409.6,265.5 L408.5,268.1 L407.6,277.5 L409.7,279.3Z" fill="#666666" opacity="0.8"/>
<path d="M398.8,201.0 L397.2,202.7 L396.5,205.0 L399.1,219.3 L400.0,221.0 L401.4,222.2 L403.2,222.8 L405.1,222.6 L407.1,221.4 L416.9,211.4 L417.8,209.4 L417.8,207.1 L416.3,204.8 L409.3,198.5 L407.6,197.6 L404.4,197.6Z" fill="url(#gPit)"/>
<path d="M399.1,219.3 L400.0,221.0 L401.4,222.2 L403.2,222.8 L405.1,222.6 L407.1,221.4 L412.8,215.5 L409.3,212.4 L407.6,211.4 L404.4,211.5 L398.8,214.9 L398.4,215.3Z" fill="#666666" opacity="0.8"/>
<path d="M411.3,317.6 L409.3,318.0 L407.7,319.4 L407.0,321.8 L407.5,323.8 L408.9,325.3 L418.7,331.6 L420.8,332.0 L422.8,331.5 L428.3,326.1 L428.8,321.0 L427.8,319.1 L426.4,318.2 L424.8,317.8Z" fill="url(#gPit2)"/>
<path d="M418.7,331.6 L420.8,332.0 L422.8,331.5 L427.5,326.9 L426.4,326.1 L424.8,325.8 L411.3,325.5 L409.8,325.9Z" fill="#666666" opacity="0.8"/>
<path d="M409.8,229.4 L408.8,231.0 L408.5,233.4 L409.1,235.2 L410.3,236.6 L431.6,244.5 L434.0,244.2 L436.2,242.5 L439.1,234.2 L439.0,232.4 L438.2,230.7 L428.2,217.9 L425.8,216.5 L423.8,216.4 L421.7,217.4Z" fill="url(#gPit)"/>
<path d="M431.6,244.5 L434.0,244.2 L435.7,242.9 L428.2,233.3 L425.8,231.9 L423.8,231.9 L421.7,232.9 L415.9,238.7Z" fill="#666666" opacity="0.8"/>
<path d="M416.3,181.1 L413.7,181.7 L411.8,183.7 L411.1,187.8 L411.9,190.4 L423.3,200.7 L425.9,201.4 L428.1,200.8 L431.2,198.3 L432.3,196.2 L433.1,186.5 L432.5,184.2 L431.3,182.8 L429.1,181.8Z" fill="url(#gPit)"/>
<path d="M423.3,200.7 L425.9,201.4 L428.1,200.8 L431.2,198.3 L432.3,196.2 L432.4,195.2 L431.3,193.9 L429.1,193.0 L416.3,192.3 L414.4,192.7Z" fill="#666666" opacity="0.8"/>
<path d="M417.3,294.7 L415.8,293.9 L414.1,293.9 L412.6,294.4 L411.3,295.6 L405.4,306.4 L405.3,308.5 L406.1,310.3 L407.4,311.4 L409.3,311.9 L427.9,312.2 L430.6,311.3 L431.7,310.0 L432.1,308.4 L431.9,306.7 L431.1,305.2Z" fill="url(#gPit2)"/>
<path d="M409.3,311.9 L427.0,312.2 L417.3,304.8 L415.8,304.0 L414.1,304.0 L412.6,304.6 L411.3,305.7 L408.1,311.6Z" fill="#666666" opacity="0.8"/>
<path d="M434.5,271.3 L418.5,283.9 L418.0,285.8 L418.2,287.4 L419.0,288.8 L435.8,301.7 L437.3,302.4 L439.5,302.4 L443.1,301.3 L444.4,300.5 L450.9,289.6 L451.0,287.6 L450.2,285.8 L440.1,272.3 L437.7,270.7 L436.0,270.7Z" fill="url(#gPit2)"/>
<path d="M435.8,301.7 L437.3,302.4 L439.5,302.4 L443.1,301.3 L444.4,300.5 L446.1,297.8 L440.1,289.8 L437.7,288.2 L436.0,288.1 L434.5,288.7 L426.8,294.8Z" fill="#666666" opacity="0.8"/>
<path d="M434.2,205.6 L432.6,208.3 L432.9,211.0 L441.4,222.5 L442.9,223.8 L444.7,224.4 L446.6,224.2 L448.3,223.3 L449.9,221.0 L451.5,212.5 L451.4,210.2 L450.5,208.6 L448.7,207.2 L438.9,204.1 L436.5,204.2Z" fill="url(#gPit)"/>
<path d="M441.4,222.5 L442.9,223.8 L444.7,224.4 L446.6,224.2 L448.3,223.3 L449.9,221.0 L450.1,219.5 L448.7,218.4 L438.9,215.2 L436.5,215.3 L436.2,215.5Z" fill="#666666" opacity="0.8"/>
<path d="M444.0,243.9 L443.8,245.7 L444.5,247.9 L445.7,249.2 L447.4,250.0 L464.7,249.3 L466.7,248.1 L467.8,246.1 L468.6,238.5 L468.4,236.6 L467.5,234.9 L465.6,233.5 L455.1,230.7 L452.9,230.9 L447.2,234.8Z" fill="url(#gPit)"/>
<path d="M447.4,250.0 L464.7,249.3 L466.7,248.1 L467.8,246.1 L467.8,246.1 L467.5,245.5 L465.6,244.2 L455.1,241.3 L452.9,241.5 L447.2,245.4 L445.9,249.3Z" fill="#666666" opacity="0.8"/>
<path d="M434.5,322.8 L434.8,324.8 L436.3,326.6 L449.6,332.1 L451.3,331.9 L452.8,331.1 L457.1,327.3 L458.3,324.8 L457.6,322.1 L446.9,308.8 L445.6,307.7 L444.1,307.2 L440.1,308.0 L438.2,309.6 L435.0,315.9Z" fill="url(#gPit2)"/>
<path d="M449.6,332.1 L451.3,331.9 L452.8,331.1 L453.4,330.6 L446.9,322.4 L445.6,321.4 L444.1,320.9 L440.1,321.7 L438.2,323.3 L436.5,326.6Z" fill="#666666" opacity="0.8"/>
<path d="M445.9,183.0 L442.8,183.9 L441.0,186.1 L440.3,193.1 L441.4,196.1 L443.2,197.4 L455.0,201.2 L457.2,201.2 L459.3,200.2 L460.5,198.9 L461.2,196.7 L461.9,188.8 L460.7,185.8 L458.0,184.1Z" fill="url(#gPit)"/>
<path d="M441.4,196.1 L443.2,197.4 L455.0,201.2 L457.2,201.2 L459.3,200.2 L460.5,198.9 L461.2,196.9 L460.7,195.8 L458.0,194.1 L445.9,193.0 L442.8,193.9 L441.3,195.8Z" fill="#666666" opacity="0.8"/>
<path d="M458.0,219.0 L458.3,221.8 L460.1,223.9 L471.0,226.9 L473.7,225.9 L479.1,221.0 L480.1,219.3 L480.3,217.4 L479.6,215.2 L478.2,213.8 L466.6,207.4 L464.0,206.8 L461.8,207.5 L460.0,209.5Z" fill="url(#gPit)"/>
<path d="M460.1,223.9 L471.0,226.9 L473.7,225.9 L476.1,223.7 L466.6,218.4 L464.0,217.9 L461.8,218.5 L460.0,220.5 L459.4,223.1Z" fill="#666666" opacity="0.8"/>
<path d="M441.2,262.5 L441.8,265.2 L451.9,278.7 L453.0,279.8 L454.9,280.4 L457.6,279.7 L475.4,267.5 L476.8,266.0 L477.3,264.1 L477.0,262.5 L476.1,261.1 L471.0,256.7 L468.8,255.9 L444.7,257.0 L443.2,257.7 L442.1,259.0Z" fill="url(#gPit2)"/>
<path d="M451.9,278.7 L453.0,279.8 L454.9,280.4 L457.6,279.7 L471.2,270.4 L471.0,270.2 L468.8,269.4 L445.7,270.4Z" fill="#666666" opacity="0.8"/>
<path d="M479.0,254.8 L481.1,255.9 L483.5,255.8 L491.5,252.4 L493.5,249.7 L495.2,239.3 L494.8,237.1 L487.8,229.6 L485.5,228.2 L483.6,228.2 L481.5,229.1 L477.8,232.5 L476.6,234.8 L475.2,249.9 L476.2,252.4Z" fill="url(#gPit)"/>
<path d="M481.1,255.9 L483.5,255.8 L491.5,252.4 L493.0,250.4 L487.8,244.8 L485.5,243.5 L483.6,243.4 L481.5,244.3 L477.8,247.8 L476.6,250.0 L476.4,252.5 L479.0,254.8Z" fill="#666666" opacity="0.8"/>
<path d="M451.1,300.7 L450.5,302.7 L451.1,305.1 L460.1,316.2 L462.1,317.6 L463.7,317.8 L465.6,317.1 L474.5,310.1 L475.5,308.4 L476.1,303.6 L475.6,302.0 L474.5,300.8 L458.4,294.9 L456.4,294.7 L454.5,295.5Z" fill="url(#gPit2)"/>
<path d="M460.1,316.2 L462.1,317.6 L463.7,317.8 L465.6,317.1 L471.5,312.4 L458.4,307.6 L456.4,307.4 L454.5,308.2 L454.1,308.8Z" fill="#666666" opacity="0.8"/>
<path d="M462.3,283.3 L460.9,284.8 L460.5,286.4 L460.9,288.5 L462.2,290.1 L477.5,295.7 L479.1,295.8 L480.7,295.2 L485.2,291.6 L486.4,289.5 L486.2,287.1 L480.9,276.3 L479.5,274.8 L478.0,274.1 L475.1,274.5Z" fill="url(#gPit2)"/>
<path d="M477.5,295.7 L479.1,295.8 L480.7,295.2 L483.3,293.1 L480.9,288.3 L479.5,286.7 L478.0,286.0 L475.1,286.4 L467.1,291.9Z" fill="#666666" opacity="0.8"/>
<path d="M468.9,196.7 L469.4,199.4 L470.9,201.1 L482.1,207.2 L485.3,207.5 L487.8,205.8 L489.2,203.9 L490.9,192.8 L490.8,190.9 L489.3,188.5 L487.2,187.4 L474.7,185.9 L472.8,186.0 L471.1,186.9 L469.7,188.8Z" fill="url(#gPit)"/>
<path d="M470.9,201.1 L482.1,207.2 L485.3,207.5 L487.8,205.8 L489.2,203.9 L489.6,200.8 L489.3,200.4 L487.2,199.3 L474.7,197.7 L472.8,197.9 L471.1,198.8 L470.1,200.2Z" fill="#666666" opacity="0.8"/>
<path d="M468.6,321.9 L467.1,324.4 L467.1,326.0 L467.7,327.6 L474.8,333.5 L476.6,334.3 L479.0,334.1 L487.3,329.8 L488.9,328.4 L489.5,326.9 L489.4,324.9 L488.4,323.1 L480.7,316.6 L478.8,315.7 L477.2,315.7 L475.7,316.3Z" fill="url(#gPit2)"/>
<path d="M474.8,333.5 L476.6,334.3 L479.0,334.1 L485.4,330.8 L480.7,326.8 L478.8,325.9 L477.2,325.9 L475.7,326.5 L471.0,330.3Z" fill="#666666" opacity="0.8"/>
<path d="M482.8,266.2 L483.2,268.5 L492.7,287.1 L494.7,288.3 L499.6,289.1 L502.5,288.1 L503.7,286.5 L511.1,269.1 L511.2,267.0 L510.3,265.1 L498.1,258.5 L496.2,258.0 L484.7,262.6 L483.3,264.1Z" fill="url(#gPit2)"/>
<path d="M492.7,287.1 L494.7,288.3 L499.6,289.1 L502.5,288.1 L503.7,286.5 L506.5,280.1 L498.1,275.6 L496.2,275.1 L488.2,278.3Z" fill="#666666" opacity="0.8"/>
<path d="M488.8,217.4 L489.0,219.2 L490.2,221.1 L499.0,230.0 L501.6,231.1 L503.5,230.9 L521.3,225.4 L523.5,223.6 L524.2,221.4 L523.5,218.3 L520.9,216.4 L495.7,211.1 L493.1,211.6 L490.4,213.8 L489.3,215.2Z" fill="url(#gPit)"/>
<path d="M499.0,230.0 L501.6,231.1 L503.5,230.9 L517.3,226.6 L495.7,222.1 L493.1,222.6 L492.3,223.2Z" fill="#666666" opacity="0.8"/>
<path d="M483.7,300.0 L482.1,302.7 L481.4,307.7 L481.8,309.8 L482.9,311.2 L495.4,321.4 L497.5,321.7 L499.5,320.9 L509.3,312.4 L510.4,310.8 L510.7,306.0 L510.2,304.0 L503.7,296.4 L502.0,295.2 L493.7,293.8 L492.0,293.9Z" fill="url(#gPit2)"/>
<path d="M495.4,321.4 L497.5,321.7 L499.5,320.9 L506.4,314.9 L503.7,311.7 L502.0,310.6 L493.7,309.1 L492.0,309.2 L485.9,313.6Z" fill="#666666" opacity="0.8"/>
<path d="M513.4,258.9 L515.6,259.5 L517.9,258.9 L519.3,257.7 L520.3,255.7 L522.2,239.2 L520.8,236.2 L518.3,234.9 L516.0,235.0 L505.3,238.3 L503.4,239.8 L502.5,242.0 L501.3,249.4 L502.1,252.5 L503.9,254.0Z" fill="url(#gPit)"/>
<path d="M515.6,259.5 L517.9,258.9 L519.3,257.7 L520.3,255.7 L520.9,250.1 L520.8,249.7 L518.3,248.4 L516.0,248.5 L505.3,251.8 L503.4,253.3 L503.3,253.5 L503.9,254.0 L513.4,258.9Z" fill="#666666" opacity="0.8"/>
<path d="M502.1,326.1 L500.8,328.1 L500.8,330.5 L502.9,335.2 L505.2,336.8 L512.5,337.0 L516.6,338.0 L526.0,336.0 L527.7,334.8 L528.5,333.4 L528.6,331.3 L527.5,329.0 L516.2,318.7 L514.5,317.7 L512.4,317.7 L510.9,318.4Z" fill="url(#gPit2)"/>
<path d="M505.2,336.8 L512.5,337.0 L516.6,338.0 L523.5,336.5 L516.2,329.8 L514.5,328.9 L512.4,328.8 L510.9,329.5 L503.7,335.8Z" fill="#666666" opacity="0.8"/>
<path d="M512.2,297.7 L514.3,298.9 L516.7,298.9 L528.0,293.9 L529.9,291.7 L530.1,290.1 L529.5,270.1 L527.9,267.6 L524.2,265.9 L522.5,265.7 L520.1,266.3 L517.8,268.0 L508.5,289.7 L508.1,291.4 L508.5,293.1Z" fill="url(#gPit2)"/>
<path d="M514.3,298.9 L516.7,298.9 L528.0,293.9 L529.6,292.0 L529.5,288.4 L527.9,285.9 L524.2,284.2 L522.5,284.0 L520.1,284.6 L517.8,286.3 L512.8,298.0Z" fill="#666666" opacity="0.8"/>
<path d="M503.9,189.6 L500.7,190.3 L498.7,192.8 L497.6,200.1 L498.9,203.1 L501.4,204.5 L516.9,207.7 L518.8,207.6 L520.8,206.3 L522.1,203.8 L522.6,197.0 L522.2,194.7 L521.1,193.1 L518.6,191.9Z" fill="url(#gPit)"/>
<path d="M498.9,203.1 L501.4,204.5 L516.9,207.7 L518.8,207.6 L520.8,206.3 L521.9,204.2 L521.1,203.1 L518.6,201.9 L503.9,199.6 L500.7,200.2 L498.7,202.7Z" fill="#666666" opacity="0.8"/>
<path d="M527.9,256.6 L528.0,258.5 L528.9,260.1 L530.3,261.3 L532.7,262.3 L544.9,261.1 L546.7,260.5 L548.5,258.8 L549.1,257.0 L550.6,245.5 L549.8,242.8 L548.5,241.4 L537.2,233.7 L535.0,233.1 L532.3,233.8 L531.0,235.1 L530.2,236.8Z" fill="url(#gPit)"/>
<path d="M530.3,261.3 L532.7,262.3 L544.9,261.1 L546.7,260.5 L548.5,258.8 L548.8,257.8 L548.5,257.5 L537.2,249.8 L535.0,249.2 L532.3,249.9 L531.0,251.2 L530.2,252.9 L529.3,260.5Z" fill="#666666" opacity="0.8"/>
<path d="M535.7,194.9 L533.8,194.9 L532.1,195.7 L530.6,197.4 L530.1,199.3 L529.5,211.2 L530.9,213.6 L533.8,214.9 L536.5,214.3 L548.7,207.6 L550.4,205.5 L551.2,202.3 L550.7,199.5 L548.7,197.5Z" fill="url(#gPit)"/>
<path d="M530.9,213.6 L533.8,214.9 L536.5,214.3 L547.5,208.3 L535.7,205.9 L533.8,205.9 L532.1,206.7 L530.6,208.5 L530.1,210.3 L530.0,212.1Z" fill="#666666" opacity="0.8"/>
<path d="M516.3,309.3 L517.4,312.1 L527.5,321.4 L529.2,322.3 L530.8,322.5 L533.3,321.3 L545.4,309.1 L546.5,307.4 L546.6,305.8 L545.1,302.3 L543.7,300.7 L533.1,297.9 L518.1,304.5 L516.6,306.4Z" fill="url(#gPit2)"/>
<path d="M527.5,321.4 L529.2,322.3 L530.8,322.5 L533.3,321.3 L541.0,313.5 L533.1,311.4 L521.9,316.3Z" fill="#666666" opacity="0.8"/>
<path d="M534.7,332.3 L536.0,334.3 L538.2,335.2 L556.7,335.9 L559.4,335.1 L560.7,333.5 L561.1,331.5 L558.8,316.4 L558.1,314.6 L556.9,313.5 L553.5,311.9 L551.6,311.9 L549.8,312.7 L535.2,327.3 L534.2,329.6Z" fill="url(#gPit2)"/>
<path d="M556.7,335.9 L559.4,335.1 L559.6,334.9 L558.8,329.7 L558.1,327.8 L556.9,326.7 L553.5,325.2 L551.6,325.1 L549.8,326.0 L540.4,335.3Z" fill="#666666" opacity="0.8"/>
<path d="M542.6,219.6 L541.2,220.8 L540.3,222.5 L540.1,224.3 L540.9,226.5 L542.2,227.8 L553.5,235.6 L555.2,236.2 L557.5,236.0 L561.9,233.9 L563.6,232.3 L565.7,224.8 L565.4,222.0 L563.9,220.2 L555.9,215.2 L553.7,214.4 L551.9,214.7Z" fill="url(#gPit)"/>
<path d="M553.5,235.6 L555.2,236.2 L557.5,236.0 L561.9,233.9 L563.6,232.3 L563.7,232.0 L555.9,227.1 L553.7,226.4 L551.9,226.6 L545.4,230.1Z" fill="#666666" opacity="0.8"/>
<path d="M535.7,289.4 L536.5,291.7 L538.4,293.2 L542.9,294.4 L544.5,294.2 L545.9,293.4 L557.2,276.8 L557.7,274.5 L556.8,272.2 L552.2,268.0 L550.4,267.3 L539.0,268.5 L536.8,269.4 L535.7,270.7 L535.3,272.3Z" fill="url(#gPit2)"/>
<path d="M536.5,291.7 L538.4,293.2 L542.9,294.4 L544.5,294.2 L545.9,293.4 L552.7,283.4 L552.2,282.9 L550.4,282.2 L539.0,283.4 L536.8,284.4 L535.7,285.7 L535.6,286.0 L535.7,289.4Z" fill="#666666" opacity="0.8"/>
<path d="M552.5,304.1 L554.3,306.0 L559.3,308.4 L561.3,308.6 L572.4,302.4 L573.9,300.9 L574.4,299.2 L574.1,297.2 L568.0,281.9 L566.3,280.1 L563.5,279.7 L561.3,280.8 L550.6,296.7 L550.2,299.5Z" fill="url(#gPit2)"/>
<path d="M559.3,308.4 L561.3,308.6 L570.3,303.6 L568.0,297.8 L566.3,296.0 L563.5,295.6 L561.3,296.7 L554.9,306.3Z" fill="#666666" opacity="0.8"/>
<path d="M563.4,269.1 L565.3,270.2 L567.6,270.2 L572.9,267.6 L574.4,266.4 L575.3,264.8 L579.5,251.2 L579.2,249.0 L577.9,247.1 L568.7,241.5 L567.0,240.9 L564.7,241.1 L560.9,242.8 L558.8,244.7 L558.2,246.5 L556.4,260.1 L556.5,261.9 L557.3,263.6Z" fill="url(#gPit)"/>
<path d="M565.3,270.2 L567.6,270.2 L572.9,267.6 L574.4,266.4 L575.3,264.8 L576.1,262.1 L568.7,257.6 L567.0,257.0 L564.7,257.2 L560.9,258.9 L558.8,260.8 L558.2,262.6 L557.9,264.2 L563.4,269.1Z" fill="#666666" opacity="0.8"/>
<path d="M566.3,328.7 L567.1,330.6 L568.6,331.9 L570.2,332.3 L572.2,331.9 L587.1,323.4 L588.5,320.9 L588.2,318.5 L578.1,308.6 L576.2,307.8 L573.7,308.1 L566.2,312.6 L564.7,314.6 L564.5,316.6Z" fill="url(#gPit2)"/>
<path d="M567.1,330.6 L568.6,331.9 L570.2,332.3 L572.2,331.9 L582.3,326.2 L578.1,322.1 L576.2,321.3 L573.7,321.6 L566.2,326.1 L566.0,326.4 L566.3,328.7Z" fill="#666666" opacity="0.8"/>
<path d="M558.6,204.2 L558.7,206.6 L560.0,208.7 L569.7,214.6 L571.6,214.7 L573.5,214.0 L577.9,211.2 L579.3,208.8 L579.1,206.0 L577.8,204.0 L576.1,203.1 L570.7,201.9 L562.4,200.5 L559.9,201.7Z" fill="url(#gPit)"/>
<path d="M569.7,214.6 L571.6,214.7 L573.5,214.0 L577.3,211.6 L576.1,210.9 L570.7,209.7 L562.4,208.3 L560.8,209.1Z" fill="#666666" opacity="0.8"/>
<path d="M577.9,238.1 L580.6,238.8 L583.2,237.9 L589.8,230.7 L590.8,229.1 L591.1,227.2 L590.4,225.0 L586.4,219.6 L584.4,218.3 L582.5,218.0 L580.7,218.5 L575.5,221.8 L573.9,223.9 L572.0,231.1 L572.1,233.0 L573.5,235.4Z" fill="url(#gPit)"/>
<path d="M580.6,238.8 L583.2,237.9 L587.8,232.9 L586.4,231.0 L584.4,229.7 L582.5,229.5 L580.7,229.9 L575.5,233.2 L573.9,235.4 L573.8,235.6 L577.9,238.1Z" fill="#666666" opacity="0.8"/>
<path d="M589.7,328.5 L578.1,335.4 L577.4,336.9 L577.3,338.5 L577.9,340.1 L587.5,347.5 L589.5,347.9 L591.1,347.5 L596.7,344.1 L597.9,342.5 L598.2,339.8 L595.4,331.0 L594.4,329.3 L593.0,328.4 L591.3,328.1Z" fill="url(#gPit2)"/>
<path d="M587.5,347.5 L589.5,347.9 L591.1,347.5 L596.2,344.3 L595.4,341.9 L594.4,340.2 L593.0,339.3 L591.3,339.0 L589.7,339.3 L582.5,343.7Z" fill="#666666" opacity="0.8"/>
<path d="M577.6,290.9 L579.2,292.8 L582.1,293.5 L600.9,287.1 L602.3,286.3 L603.3,285.0 L603.8,283.5 L603.6,281.9 L602.5,280.1 L600.8,279.1 L579.8,272.8 L577.3,272.8 L574.0,274.7 L573.1,276.1 L572.7,277.7Z" fill="url(#gPit2)"/>
<path d="M579.2,292.8 L582.1,293.5 L595.6,288.9 L579.8,284.2 L577.3,284.2 L575.5,285.2 L577.6,290.9Z" fill="#666666" opacity="0.8"/>
<path d="M598.7,271.6 L600.5,271.8 L602.3,271.2 L604.5,268.9 L605.6,261.2 L604.5,258.1 L601.8,256.4 L590.5,255.0 L588.6,255.1 L586.9,256.0 L585.5,257.8 L584.0,262.6 L584.1,264.9 L584.9,266.6 L586.8,268.0Z" fill="url(#gPit)"/>
<path d="M600.5,271.8 L602.3,271.2 L604.5,268.9 L604.6,267.7 L604.5,267.3 L601.8,265.6 L590.5,264.2 L588.6,264.4 L586.9,265.2 L585.5,267.0 L586.8,268.0 L598.7,271.6Z" fill="#666666" opacity="0.8"/>
<path d="M584.6,298.6 L582.9,299.7 L582.1,301.1 L581.8,303.1 L582.4,304.7 L593.7,315.5 L595.8,316.5 L598.5,316.1 L613.5,306.3 L614.7,305.1 L615.4,303.6 L614.3,293.0 L612.9,291.0 L611.0,290.1 L609.0,290.3Z" fill="url(#gPit2)"/>
<path d="M593.7,315.5 L595.8,316.5 L598.5,316.1 L613.5,306.3 L612.9,305.5 L611.0,304.6 L609.0,304.8 L589.5,311.5Z" fill="#666666" opacity="0.8"/>
<path d="M598.1,208.3 L595.3,208.4 L593.1,210.1 L592.1,213.2 L593.1,215.8 L598.6,223.3 L600.0,224.5 L607.3,226.5 L610.4,225.5 L612.1,223.3 L613.7,216.7 L613.6,214.9 L612.8,213.2 L610.6,211.5Z" fill="url(#gPit)"/>
<path d="M598.6,223.3 L600.0,224.5 L607.3,226.5 L610.4,225.5 L612.1,223.3 L612.2,222.7 L610.6,221.5 L598.1,218.3 L595.3,218.4 L595.1,218.6Z" fill="#666666" opacity="0.8"/>
<path d="M591.8,239.9 L590.7,241.9 L590.6,243.8 L591.3,245.6 L592.6,247.0 L594.8,247.8 L606.3,249.2 L608.1,248.9 L610.0,247.7 L613.3,243.3 L614.1,241.0 L613.5,238.7 L610.9,235.4 L600.6,232.8 L597.5,233.7Z" fill="url(#gPit)"/>
<path d="M594.8,247.8 L606.3,249.2 L608.1,248.9 L610.0,247.7 L611.7,245.5 L610.9,244.5 L600.6,241.8 L597.5,242.8 L593.3,247.3Z" fill="#666666" opacity="0.8"/>
<path d="M601.3,320.9 L599.7,322.9 L599.6,325.7 L603.3,337.0 L604.8,338.5 L606.3,339.1 L609.2,338.5 L624.9,328.8 L626.1,327.7 L626.8,326.1 L626.7,324.0 L622.2,313.5 L620.5,311.7 L619.0,311.0 L616.1,311.4Z" fill="url(#gPit2)"/>
<path d="M603.3,337.0 L604.8,338.5 L606.3,339.1 L609.2,338.5 L622.7,330.1 L622.2,329.0 L620.5,327.1 L619.0,326.4 L616.1,326.8 L602.8,335.4Z" fill="#666666" opacity="0.8"/>
<path d="M611.5,275.8 L611.9,278.4 L614.3,282.3 L615.6,283.6 L617.9,284.3 L620.2,283.8 L628.6,278.8 L630.6,276.6 L634.1,265.2 L634.0,262.9 L633.1,261.2 L624.6,250.8 L622.7,249.4 L620.3,249.1 L618.1,250.0 L614.2,254.9Z" fill="url(#gPit)"/>
<path d="M614.3,282.3 L615.6,283.6 L617.9,284.3 L620.2,283.8 L628.6,278.8 L630.2,277.0 L624.6,270.2 L622.7,268.8 L620.3,268.4 L618.1,269.3 L614.2,274.2 L613.4,280.8Z" fill="#666666" opacity="0.8"/>
<path d="M621.2,303.3 L621.8,305.1 L623.5,306.9 L626.4,307.9 L652.5,302.2 L653.9,301.4 L655.1,299.9 L656.5,293.8 L656.4,292.1 L655.4,290.3 L653.6,289.3 L635.5,283.9 L633.0,284.0 L622.2,290.3 L620.8,291.7 L620.2,294.0Z" fill="url(#gPit2)"/>
<path d="M621.8,305.1 L623.5,306.9 L626.4,307.9 L652.5,302.2 L652.6,302.2 L635.5,297.1 L633.0,297.2 L622.2,303.5 L621.5,304.2Z" fill="#666666" opacity="0.8"/>
<path d="M619.6,234.0 L622.1,235.9 L624.8,236.0 L639.0,229.5 L640.6,228.0 L641.6,225.3 L641.8,223.4 L641.3,221.6 L638.8,219.4 L630.3,216.9 L625.9,215.8 L623.1,216.4 L621.0,219.0 L618.4,229.4 L618.5,231.8Z" fill="url(#gPit)"/>
<path d="M622.1,235.9 L624.8,236.0 L637.5,230.2 L630.3,228.1 L625.9,226.9 L623.1,227.6 L621.0,230.1 L620.0,234.3Z" fill="#666666" opacity="0.8"/>
<path d="M612.5,350.7 L614.8,352.2 L620.3,352.6 L628.8,349.4 L629.8,348.2 L630.4,346.3 L630.8,339.1 L630.0,336.7 L627.7,335.2 L625.2,335.3 L612.1,343.3 L610.9,344.9 L610.5,346.9 L610.9,348.5Z" fill="url(#gPit2)"/>
<path d="M614.8,352.2 L620.3,352.6 L628.8,349.4 L629.8,348.2 L630.2,346.9 L630.0,346.3 L627.7,344.7 L625.2,344.9 L614.0,351.7Z" fill="#666666" opacity="0.8"/>
<path d="M633.0,324.5 L634.8,326.5 L637.6,327.0 L653.6,320.9 L654.9,319.7 L655.5,318.1 L656.5,312.2 L655.8,309.9 L653.9,308.4 L651.8,308.1 L631.7,312.9 L630.3,314.4 L629.9,316.8Z" fill="url(#gPit2)"/>
<path d="M634.8,326.5 L637.6,327.0 L653.6,320.9 L654.9,319.7 L654.9,319.6 L653.9,318.8 L651.8,318.5 L632.4,323.1 L633.0,324.5Z" fill="#666666" opacity="0.8"/>
<path d="M642.5,338.1 L640.5,337.6 L638.9,337.9 L637.5,338.9 L636.6,340.3 L635.9,348.4 L636.9,351.0 L644.1,358.1 L645.9,359.1 L648.4,359.0 L656.1,355.3 L657.2,354.0 L658.8,350.3 L658.7,348.2 L658.0,346.8Z" fill="url(#gPit2)"/>
<path d="M644.1,358.1 L645.9,359.1 L648.4,359.0 L653.9,356.4 L642.5,349.9 L640.5,349.4 L638.9,349.8 L637.5,350.7 L637.2,351.2Z" fill="#666666" opacity="0.8"/>
<path d="M633.6,240.4 L631.4,242.6 L630.9,244.4 L631.1,246.2 L631.9,247.8 L639.4,256.6 L641.1,257.3 L643.4,257.2 L651.9,254.7 L654.1,252.9 L655.2,249.7 L654.5,247.0 L644.6,237.7 L642.8,237.0 L641.0,237.1Z" fill="url(#gPit)"/>
<path d="M639.4,256.6 L641.1,257.3 L643.4,257.2 L651.2,255.0 L644.6,248.8 L642.8,248.2 L641.0,248.2 L634.7,251.1Z" fill="#666666" opacity="0.8"/>
<path d="M655.0,224.3 L652.7,224.2 L650.2,225.4 L649.0,227.4 L648.9,230.1 L650.0,232.1 L658.3,239.8 L660.4,240.9 L662.8,240.9 L669.2,237.3 L670.9,233.1 L670.4,230.8 L669.2,229.3 L667.5,228.4Z" fill="url(#gPit)"/>
<path d="M658.3,239.8 L660.4,240.9 L662.8,240.9 L668.2,237.9 L667.5,237.6 L655.0,233.5 L652.7,233.4 L651.8,233.8Z" fill="#666666" opacity="0.8"/>
<path d="M639.6,273.2 L639.6,276.0 L641.6,278.6 L650.7,281.5 L653.5,281.5 L655.4,280.3 L656.5,278.8 L659.3,269.9 L659.2,267.5 L656.9,263.8 L654.5,262.5 L652.6,262.5 L644.5,264.8 L642.8,265.6 L641.6,267.1Z" fill="url(#gPit)"/>
<path d="M641.6,278.6 L650.7,281.5 L653.5,281.5 L655.4,280.3 L656.5,278.8 L657.6,275.4 L656.9,274.3 L654.5,273.0 L652.6,273.0 L644.5,275.3 L642.8,276.1 L641.6,277.6 L641.4,278.4Z" fill="#666666" opacity="0.8"/>
<path d="M650.6,328.1 L648.9,329.3 L647.9,331.2 L648.2,333.6 L649.4,335.3 L659.2,340.6 L661.7,340.6 L663.7,339.2 L664.6,336.9 L664.3,334.9 L658.0,327.5 L655.2,326.6Z" fill="url(#gPit2)"/>
<path d="M659.2,340.6 L661.7,340.6 L662.2,340.2 L658.0,335.2 L655.2,334.3 L650.6,335.8 L650.5,335.9Z" fill="#666666" opacity="0.8"/>
<path d="M661.8,254.4 L661.8,256.7 L662.5,258.4 L665.5,262.5 L667.6,263.7 L681.4,264.3 L683.8,263.2 L685.3,260.8 L685.3,258.5 L684.2,256.4 L674.4,247.2 L672.3,246.0 L669.4,246.2 L664.3,248.8 L662.9,250.8Z" fill="url(#gPit)"/>
<path d="M665.5,262.5 L667.6,263.7 L681.4,264.3 L681.7,264.2 L674.4,257.2 L672.3,256.1 L669.4,256.3 L664.3,258.9 L663.6,259.9Z" fill="#666666" opacity="0.8"/>
<path d="M660.9,305.3 L663.3,307.3 L669.1,308.6 L671.1,308.4 L682.2,301.1 L683.3,298.9 L683.1,296.5 L681.8,294.9 L679.6,294.0 L664.0,294.4 L662.4,295.6 L661.6,297.0 L660.3,302.5Z" fill="url(#gPit2)"/>
<path d="M663.3,307.3 L669.1,308.6 L671.1,308.4 L680.3,302.3 L679.6,302.0 L664.0,302.5 L662.4,303.7 L661.6,305.1 L661.5,305.7Z" fill="#666666" opacity="0.8"/>
<path d="M663.7,281.2 L663.5,283.1 L664.0,284.9 L666.5,287.1 L668.4,287.5 L680.4,287.2 L682.5,286.2 L683.7,284.7 L685.6,277.6 L685.6,275.7 L684.5,273.6 L682.1,272.2 L669.1,271.7 L667.4,272.6 L666.1,274.0Z" fill="url(#gPit)"/>
<path d="M666.5,287.1 L668.4,287.5 L680.4,287.2 L682.5,286.2 L683.7,284.7 L684.4,282.2 L682.1,280.8 L669.1,280.4 L667.4,281.2 L666.1,282.7 L665.1,285.9Z" fill="#666666" opacity="0.8"/>
<path d="M693.7,265.0 L694.0,268.1 L695.7,270.2 L700.1,271.4 L702.5,271.1 L704.7,269.2 L707.9,262.8 L708.4,261.0 L708.0,258.7 L707.0,257.2 L705.0,255.7 L703.2,255.3 L701.4,255.6 L695.6,259.9 L694.7,261.5Z" fill="url(#gPit)"/>
<path d="M695.7,270.2 L700.1,271.4 L702.5,271.1 L704.7,269.2 L706.5,265.7 L705.0,264.6 L703.2,264.2 L701.4,264.5 L695.6,268.8 L695.2,269.5Z" fill="#666666" opacity="0.8"/>
<path d="M685.3,234.3 L683.0,234.1 L680.5,235.3 L679.2,237.2 L679.0,240.0 L680.1,242.0 L689.3,250.6 L691.5,251.6 L693.8,251.3 L700.2,246.6 L701.2,245.0 L701.4,243.2 L701.0,241.4 L699.8,239.9 L698.2,238.9Z" fill="url(#gPit)"/>
<path d="M689.3,250.6 L691.5,251.6 L693.8,251.3 L697.8,248.4 L685.3,243.9 L683.0,243.7 L682.2,244.1Z" fill="#666666" opacity="0.8"/>
</g>
<ellipse cx="68.8" cy="266.0" rx="7.4" ry="4.8" fill="#4c4c4c" transform="rotate(-30 68.8 266.8)"/>
<ellipse cx="208.5" cy="219.6" rx="13.9" ry="6.5" fill="#4c4c4c" transform="rotate(-8 208.5 220.4)"/>
<ellipse cx="242" cy="210.89999999999998" rx="9.9" ry="4.5" fill="#4c4c4c" transform="rotate(-4 242 211.7)"/>
<ellipse cx="268" cy="209.2" rx="10.9" ry="4.5" fill="#4c4c4c" transform="rotate(-3 268 210)"/>
<ellipse cx="334.6" cy="212.2" rx="15.9" ry="5.0" fill="#4c4c4c" transform="rotate(0 334.6 213)"/>
<ellipse cx="248" cy="230.2" rx="6.4" ry="4.0" fill="#4c4c4c" transform="rotate(0 248 231)"/>
<ellipse cx="270" cy="230.2" rx="8.4" ry="4.5" fill="#4c4c4c" transform="rotate(0 270 231)"/>
<ellipse cx="268" cy="262.2" rx="13.9" ry="5.5" fill="#4c4c4c" transform="rotate(0 268 263)"/>
<ellipse cx="316" cy="264.2" rx="7.4" ry="4.0" fill="#4c4c4c" transform="rotate(0 316 265)"/>
<ellipse cx="286.7" cy="284.2" rx="8.4" ry="6.0" fill="#4c4c4c" transform="rotate(-25 286.7 285)"/>
<ellipse cx="268" cy="286.2" rx="6.4" ry="5.0" fill="#4c4c4c" transform="rotate(20 268 287)"/>
<ellipse cx="175" cy="244.6" rx="6.4" ry="4.0" fill="#4c4c4c" transform="rotate(-20 175 245.4)"/>
<ellipse cx="177" cy="280.2" rx="9.9" ry="4.5" fill="#4c4c4c" transform="rotate(-8 177 281)"/>
<ellipse cx="226" cy="290.2" rx="7.9" ry="4.0" fill="#4c4c4c" transform="rotate(-5 226 291)"/>
<ellipse cx="349" cy="277.2" rx="5.4" ry="3.5" fill="#4c4c4c" transform="rotate(0 349 278)"/>
<ellipse cx="102" cy="328.2" rx="14.9" ry="7.0" fill="#4c4c4c" transform="rotate(-25 102 329)"/>
<ellipse cx="123" cy="344.8" rx="11.9" ry="7.5" fill="#4c4c4c" transform="rotate(-35 123 345.6)"/>
<ellipse cx="181" cy="300.9" rx="12.9" ry="6.5" fill="#4c4c4c" transform="rotate(-10 181 301.7)"/>
<ellipse cx="193" cy="323.8" rx="15.9" ry="8.0" fill="#4c4c4c" transform="rotate(-12 193 324.6)"/>
<ellipse cx="150" cy="305.2" rx="4.9" ry="3.5" fill="#4c4c4c" transform="rotate(-20 150 306)"/>
<ellipse cx="236.7" cy="313.2" rx="8.4" ry="6.0" fill="#4c4c4c" transform="rotate(-10 236.7 314)"/>
<ellipse cx="254" cy="304.2" rx="8.4" ry="4.5" fill="#4c4c4c" transform="rotate(-5 254 305)"/>
<ellipse cx="264" cy="318.2" rx="8.4" ry="4.5" fill="#4c4c4c" transform="rotate(-25 264 319)"/>
<ellipse cx="307.5" cy="314.2" rx="8.4" ry="3.5" fill="#4c4c4c" transform="rotate(0 307.5 315)"/>
<ellipse cx="345" cy="312.2" rx="12.9" ry="7.0" fill="#4c4c4c" transform="rotate(0 345 313)"/>
<ellipse cx="239" cy="338.2" rx="6.4" ry="3.5" fill="#4c4c4c" transform="rotate(0 239 339)"/>
<ellipse cx="332.5" cy="280.2" rx="9.9" ry="4.0" fill="#4c4c4c" transform="rotate(0 332.5 281)"/>
<ellipse cx="380.6" cy="210.2" rx="14.9" ry="5.0" fill="#4c4c4c" transform="rotate(0 380.6 211)"/>
<ellipse cx="444" cy="214.2" rx="7.4" ry="5.0" fill="#4c4c4c" transform="rotate(0 444 215)"/>
<ellipse cx="465" cy="218.2" rx="9.9" ry="6.5" fill="#4c4c4c" transform="rotate(0 465 219)"/>
<ellipse cx="504.6" cy="220.7" rx="8.4" ry="4.5" fill="#4c4c4c" transform="rotate(5 504.6 221.5)"/>
<ellipse cx="427.5" cy="226.89999999999998" rx="6.4" ry="3.5" fill="#4c4c4c" transform="rotate(0 427.5 227.7)"/>
<ellipse cx="394" cy="259.2" rx="5.4" ry="3.2" fill="#4c4c4c" transform="rotate(0 394 260)"/>
<ellipse cx="415" cy="261.2" rx="5.4" ry="3.0" fill="#4c4c4c" transform="rotate(0 415 262)"/>
<ellipse cx="435" cy="287.2" rx="10.9" ry="5.0" fill="#4c4c4c" transform="rotate(5 435 288)"/>
<ellipse cx="391" cy="292.7" rx="9.4" ry="5.5" fill="#4c4c4c" transform="rotate(-10 391 293.5)"/>
<ellipse cx="373" cy="278.2" rx="4.9" ry="3.5" fill="#4c4c4c" transform="rotate(0 373 279)"/>
<ellipse cx="523" cy="282.2" rx="8.4" ry="5.0" fill="#4c4c4c" transform="rotate(0 523 283)"/>
<ellipse cx="419" cy="308.2" rx="20.9" ry="10.0" fill="#4c4c4c" transform="rotate(0 419 309)"/>
<ellipse cx="465" cy="305.2" rx="11.9" ry="5.5" fill="#4c4c4c" transform="rotate(0 465 306)"/>
<ellipse cx="492" cy="309.2" rx="8.4" ry="5.0" fill="#4c4c4c" transform="rotate(-10 492 310)"/>
<ellipse cx="375" cy="312.2" rx="6.4" ry="3.5" fill="#4c4c4c" transform="rotate(0 375 313)"/>
<ellipse cx="513" cy="333.2" rx="6.4" ry="3.5" fill="#4c4c4c" transform="rotate(0 513 334)"/>
<ellipse cx="596.7" cy="242.2" rx="6.4" ry="4.0" fill="#4c4c4c" transform="rotate(30 596.7 243)"/>
<ellipse cx="643.5" cy="247.2" rx="11.9" ry="5.0" fill="#4c4c4c" transform="rotate(25 643.5 248)"/>
<ellipse cx="624" cy="263.2" rx="6.4" ry="3.5" fill="#4c4c4c" transform="rotate(15 624 264)"/>
<ellipse cx="542.5" cy="281.7" rx="17.4" ry="6.0" fill="#4c4c4c" transform="rotate(5 542.5 282.5)"/>
<ellipse cx="592.5" cy="301.2" rx="4.4" ry="3.5" fill="#4c4c4c" transform="rotate(0 592.5 302)"/>
<ellipse cx="535" cy="309.2" rx="9.9" ry="6.0" fill="#4c4c4c" transform="rotate(-15 535 310)"/>
<ellipse cx="548.5" cy="322.7" rx="7.4" ry="5.5" fill="#4c4c4c" transform="rotate(-10 548.5 323.5)"/>
<ellipse cx="612" cy="331.2" rx="13.9" ry="8.0" fill="#4c4c4c" transform="rotate(25 612 332)"/>
<ellipse cx="647.5" cy="344.59999999999997" rx="6.4" ry="5.0" fill="#4c4c4c" transform="rotate(30 647.5 345.4)"/>
<ellipse cx="68.8" cy="266.8" rx="5.2" ry="2.5" fill="#f6edf6" transform="rotate(-30 68.8 266.8)"/>
<ellipse cx="208.5" cy="220.4" rx="11.7" ry="4.0" fill="#eef0f6" transform="rotate(-8 208.5 220.4)"/>
<ellipse cx="242" cy="211.7" rx="7.7" ry="2.2" fill="#eef0f6" transform="rotate(-4 242 211.7)"/>
<ellipse cx="268" cy="210" rx="8.7" ry="2.2" fill="#eef0f6" transform="rotate(-3 268 210)"/>
<ellipse cx="334.6" cy="213" rx="13.7" ry="2.7" fill="#eef0f6" transform="rotate(0 334.6 213)"/>
<ellipse cx="248" cy="231" rx="4.2" ry="1.8" fill="#eef0f6" transform="rotate(0 248 231)"/>
<ellipse cx="270" cy="231" rx="6.2" ry="2.2" fill="#eef0f6" transform="rotate(0 270 231)"/>
<ellipse cx="268" cy="263" rx="11.7" ry="3.1" fill="#f6edf6" transform="rotate(0 268 263)"/>
<ellipse cx="316" cy="265" rx="5.2" ry="1.8" fill="#f6edf6" transform="rotate(0 316 265)"/>
<ellipse cx="286.7" cy="285" rx="6.2" ry="3.6" fill="#f6edf6" transform="rotate(-25 286.7 285)"/>
<ellipse cx="268" cy="287" rx="4.2" ry="2.7" fill="#f6edf6" transform="rotate(20 268 287)"/>
<ellipse cx="175" cy="245.4" rx="4.2" ry="1.8" fill="#eef0f6" transform="rotate(-20 175 245.4)"/>
<ellipse cx="177" cy="281" rx="7.7" ry="2.2" fill="#f6edf6" transform="rotate(-8 177 281)"/>
<ellipse cx="226" cy="291" rx="5.7" ry="1.8" fill="#f6edf6" transform="rotate(-5 226 291)"/>
<ellipse cx="349" cy="278" rx="3.2" ry="1.4" fill="#f6edf6" transform="rotate(0 349 278)"/>
<ellipse cx="102" cy="329" rx="12.7" ry="4.5" fill="#f6edf6" transform="rotate(-25 102 329)"/>
<ellipse cx="123" cy="345.6" rx="9.7" ry="5.0" fill="#f6edf6" transform="rotate(-35 123 345.6)"/>
<ellipse cx="181" cy="301.7" rx="10.7" ry="4.0" fill="#f6edf6" transform="rotate(-10 181 301.7)"/>
<ellipse cx="193" cy="324.6" rx="13.7" ry="5.4" fill="#f6edf6" transform="rotate(-12 193 324.6)"/>
<ellipse cx="150" cy="306" rx="2.7" ry="1.4" fill="#f6edf6" transform="rotate(-20 150 306)"/>
<ellipse cx="236.7" cy="314" rx="6.2" ry="3.6" fill="#f6edf6" transform="rotate(-10 236.7 314)"/>
<ellipse cx="254" cy="305" rx="6.2" ry="2.2" fill="#f6edf6" transform="rotate(-5 254 305)"/>
<ellipse cx="264" cy="319" rx="6.2" ry="2.2" fill="#f6edf6" transform="rotate(-25 264 319)"/>
<ellipse cx="307.5" cy="315" rx="6.2" ry="1.4" fill="#f6edf6" transform="rotate(0 307.5 315)"/>
<ellipse cx="345" cy="313" rx="10.7" ry="4.5" fill="#f6edf6" transform="rotate(0 345 313)"/>
<ellipse cx="239" cy="339" rx="4.2" ry="1.4" fill="#f6edf6" transform="rotate(0 239 339)"/>
<ellipse cx="332.5" cy="281" rx="7.7" ry="1.8" fill="#f6edf6" transform="rotate(0 332.5 281)"/>
<ellipse cx="380.6" cy="211" rx="12.7" ry="2.7" fill="#eef0f6" transform="rotate(0 380.6 211)"/>
<ellipse cx="444" cy="215" rx="5.2" ry="2.7" fill="#eef0f6" transform="rotate(0 444 215)"/>
<ellipse cx="465" cy="219" rx="7.7" ry="4.0" fill="#eef0f6" transform="rotate(0 465 219)"/>
<ellipse cx="504.6" cy="221.5" rx="6.2" ry="2.2" fill="#eef0f6" transform="rotate(5 504.6 221.5)"/>
<ellipse cx="427.5" cy="227.7" rx="4.2" ry="1.4" fill="#eef0f6" transform="rotate(0 427.5 227.7)"/>
<ellipse cx="394" cy="260" rx="3.2" ry="1.1" fill="#eef0f6" transform="rotate(0 394 260)"/>
<ellipse cx="415" cy="262" rx="3.2" ry="0.9" fill="#eef0f6" transform="rotate(0 415 262)"/>
<ellipse cx="435" cy="288" rx="8.7" ry="2.7" fill="#f6edf6" transform="rotate(5 435 288)"/>
<ellipse cx="391" cy="293.5" rx="7.2" ry="3.1" fill="#f6edf6" transform="rotate(-10 391 293.5)"/>
<ellipse cx="373" cy="279" rx="2.7" ry="1.4" fill="#f6edf6" transform="rotate(0 373 279)"/>
<ellipse cx="523" cy="283" rx="6.2" ry="2.7" fill="#f6edf6" transform="rotate(0 523 283)"/>
<ellipse cx="419" cy="309" rx="18.7" ry="7.2" fill="#f6edf6" transform="rotate(0 419 309)"/>
<ellipse cx="465" cy="306" rx="9.7" ry="3.1" fill="#f6edf6" transform="rotate(0 465 306)"/>
<ellipse cx="492" cy="310" rx="6.2" ry="2.7" fill="#f6edf6" transform="rotate(-10 492 310)"/>
<ellipse cx="375" cy="313" rx="4.2" ry="1.4" fill="#f6edf6" transform="rotate(0 375 313)"/>
<ellipse cx="513" cy="334" rx="4.2" ry="1.4" fill="#f6edf6" transform="rotate(0 513 334)"/>
<ellipse cx="596.7" cy="243" rx="4.2" ry="1.8" fill="#eef0f6" transform="rotate(30 596.7 243)"/>
<ellipse cx="643.5" cy="248" rx="9.7" ry="2.7" fill="#eef0f6" transform="rotate(25 643.5 248)"/>
<ellipse cx="624" cy="264" rx="4.2" ry="1.4" fill="#f6edf6" transform="rotate(15 624 264)"/>
<ellipse cx="542.5" cy="282.5" rx="15.2" ry="3.6" fill="#f6edf6" transform="rotate(5 542.5 282.5)"/>
<ellipse cx="592.5" cy="302" rx="2.2" ry="1.4" fill="#f6edf6" transform="rotate(0 592.5 302)"/>
<ellipse cx="535" cy="310" rx="7.7" ry="3.6" fill="#f6edf6" transform="rotate(-15 535 310)"/>
<ellipse cx="548.5" cy="323.5" rx="5.2" ry="3.1" fill="#f6edf6" transform="rotate(-10 548.5 323.5)"/>
<ellipse cx="612" cy="332" rx="11.7" ry="5.4" fill="#f6edf6" transform="rotate(25 612 332)"/>
<ellipse cx="647.5" cy="345.4" rx="4.2" ry="2.7" fill="#f6edf6" transform="rotate(30 647.5 345.4)"/>
<g clip-path="url(#mclip)"><path d="M0,319.9 L10,316.5 L20,313.2 L30,309.9 L40,306.8 L50,303.7 L60,300.8 L70,297.9 L80,295.1 L90,292.5 L100,289.9 L110,287.4 L120,285.0 L130,282.7 L140,280.5 L150,278.4 L160,276.3 L170,274.4 L180,272.6 L190,270.8 L200,269.2 L210,267.6 L220,266.2 L230,264.8 L240,263.5 L250,262.3 L260,261.3 L270,260.3 L280,259.4 L290,258.6 L300,257.9 L310,257.2 L320,256.7 L330,256.3 L340,255.9 L350,255.7 L360,255.5 L370,255.5 L380,255.5 L390,255.6 L400,255.9 L410,256.2 L420,256.6 L430,257.1 L440,257.7 L450,258.4 L460,259.2 L470,260.0 L480,261.0 L490,262.1 L500,263.2 L510,264.5 L520,265.8 L530,267.3 L540,268.8 L550,270.4 L560,272.1 L570,274.0 L580,275.9 L590,277.9 L600,280.0 L610,282.1 L620,284.4 L630,286.8 L640,289.3 L650,291.8 L660,294.5 L670,297.2 L680,300.1 L690,303.0 L700,306.0 L710,309.1 L720,312.4" fill="none" stroke="#3c3c3c" stroke-width="4" opacity="0.45"/>
<path d="M652,362.8 L639,369.8 L627,354.8 L610,353.8 L600,357.8 L593,360.8 L585,351.8 L568,347.8 L560,356.8 L552,345.8 L531,339.8 L520,348.8 L512,338.8 L490,338.8 L480,345.8 L472,337.8 L450,339.8 L437,346.8 L430,338.8 L410,337.8 L400,344.8 L392,336.8 L370,335.8 L360,342.8 L352,335.8 L330,338.8 L318,347.8 L310,339.8 L290,342.8 L270,343.8 L262,352.8 L255,345.8 L235,348.8 L215,352.8 L205,360.8 L198,354.8 L180,358.8 L170,362.8 L160,369.8 L152,363.8 L135,367.8 L120,372.8 L112,376.8 L100,374.8" fill="none" stroke="#6f6f6f" stroke-width="4.5" stroke-linejoin="round"/></g>
<path d="M12,247.5 L22,243.6 L32,239.8 L42,236.1 L52,232.5 L62,229.1 L72,225.7 L82,222.5 L92,219.3 L102,216.3 L112,213.4 L122,210.6 L132,207.9 L142,205.3 L152,202.8 L162,200.5 L172,198.2 L182,196.1 L192,194.0 L202,192.1 L212,190.3 L222,188.6 L232,187.0 L242,185.5 L252,184.1 L262,182.9 L272,181.7 L282,180.7 L292,179.7 L302,178.9 L312,178.2 L322,177.6 L332,177.1 L342,176.7 L352,176.4 L362,176.3 L372,176.2 L382,176.3 L392,176.4 L402,176.7 L412,177.1 L422,177.6 L432,178.2 L442,178.9 L452,179.7 L462,180.7 L472,181.7 L482,182.9 L492,184.1 L502,185.5 L512,187.0 L522,188.6 L532,190.3 L542,192.1 L552,194.0 L562,196.1 L572,198.2 L582,200.5 L592,202.8 L602,205.3 L612,207.9 L622,210.6 L632,213.4 L642,216.3 L652,219.3 L662,222.5 L672,225.7 L682,229.1 L692,232.5 L702,236.1 L712,239.8" fill="none" stroke="#7a7a7a" stroke-width="3.2"/>
</g>
<rect x="100.6" y="562.0" width="530.8" height="51.0" fill="#36426c"/>
<circle cx="110.6" cy="547.0" r="11.2" fill="url(#gF)"/>
<circle cx="155.3" cy="547.0" r="11.2" fill="url(#gF)"/>
<circle cx="200.1" cy="547.0" r="11.2" fill="url(#gF)"/>
<circle cx="244.8" cy="547.0" r="11.2" fill="url(#gF)"/>
<circle cx="289.5" cy="547.0" r="11.2" fill="url(#gF)"/>
<circle cx="334.2" cy="547.0" r="11.2" fill="url(#gF)"/>
<circle cx="379.0" cy="547.0" r="11.2" fill="url(#gF)"/>
<circle cx="423.7" cy="547.0" r="11.2" fill="url(#gF)"/>
<circle cx="468.4" cy="547.0" r="11.2" fill="url(#gF)"/>
<circle cx="513.2" cy="547.0" r="11.2" fill="url(#gF)"/>
<circle cx="557.9" cy="547.0" r="11.2" fill="url(#gF)"/>
<circle cx="602.6" cy="547.0" r="11.2" fill="url(#gF)"/>
<circle cx="128.6" cy="548.5" r="11.2" fill="url(#gF)"/>
<circle cx="173.3" cy="548.5" r="11.2" fill="url(#gF)"/>
<circle cx="218.1" cy="548.5" r="11.2" fill="url(#gF)"/>
<circle cx="262.8" cy="548.5" r="11.2" fill="url(#gF)"/>
<circle cx="307.5" cy="548.5" r="11.2" fill="url(#gF)"/>
<circle cx="352.2" cy="548.5" r="11.2" fill="url(#gF)"/>
<circle cx="397.0" cy="548.5" r="11.2" fill="url(#gF)"/>
<circle cx="441.7" cy="548.5" r="11.2" fill="url(#gF)"/>
<circle cx="486.4" cy="548.5" r="11.2" fill="url(#gF)"/>
<circle cx="531.2" cy="548.5" r="11.2" fill="url(#gF)"/>
<circle cx="575.9" cy="548.5" r="11.2" fill="url(#gF)"/>
<circle cx="620.6" cy="548.5" r="11.2" fill="url(#gF)"/>
<circle cx="110.6" cy="550.0" r="11.3" fill="url(#gF)"/>
<circle cx="155.3" cy="550.0" r="11.3" fill="url(#gF)"/>
<circle cx="200.1" cy="550.0" r="11.3" fill="url(#gF)"/>
<circle cx="244.8" cy="550.0" r="11.3" fill="url(#gF)"/>
<circle cx="289.5" cy="550.0" r="11.3" fill="url(#gF)"/>
<circle cx="334.2" cy="550.0" r="11.3" fill="url(#gF)"/>
<circle cx="379.0" cy="550.0" r="11.3" fill="url(#gF)"/>
<circle cx="423.7" cy="550.0" r="11.3" fill="url(#gF)"/>
<circle cx="468.4" cy="550.0" r="11.3" fill="url(#gF)"/>
<circle cx="513.2" cy="550.0" r="11.3" fill="url(#gF)"/>
<circle cx="557.9" cy="550.0" r="11.3" fill="url(#gF)"/>
<circle cx="602.6" cy="550.0" r="11.3" fill="url(#gF)"/>
<circle cx="128.6" cy="551.5" r="11.3" fill="url(#gF)"/>
<circle cx="173.3" cy="551.5" r="11.3" fill="url(#gF)"/>
<circle cx="218.1" cy="551.5" r="11.3" fill="url(#gF)"/>
<circle cx="262.8" cy="551.5" r="11.3" fill="url(#gF)"/>
<circle cx="307.5" cy="551.5" r="11.3" fill="url(#gF)"/>
<circle cx="352.2" cy="551.5" r="11.3" fill="url(#gF)"/>
<circle cx="397.0" cy="551.5" r="11.3" fill="url(#gF)"/>
<circle cx="441.7" cy="551.5" r="11.3" fill="url(#gF)"/>
<circle cx="486.4" cy="551.5" r="11.3" fill="url(#gF)"/>
<circle cx="531.2" cy="551.5" r="11.3" fill="url(#gF)"/>
<circle cx="575.9" cy="551.5" r="11.3" fill="url(#gF)"/>
<circle cx="620.6" cy="551.5" r="11.3" fill="url(#gF)"/>
<circle cx="110.6" cy="553.0" r="11.4" fill="url(#gF)"/>
<circle cx="155.3" cy="553.0" r="11.4" fill="url(#gF)"/>
<circle cx="200.1" cy="553.0" r="11.4" fill="url(#gF)"/>
<circle cx="244.8" cy="553.0" r="11.4" fill="url(#gF)"/>
<circle cx="289.5" cy="553.0" r="11.4" fill="url(#gF)"/>
<circle cx="334.2" cy="553.0" r="11.4" fill="url(#gF)"/>
<circle cx="379.0" cy="553.0" r="11.4" fill="url(#gF)"/>
<circle cx="423.7" cy="553.0" r="11.4" fill="url(#gF)"/>
<circle cx="468.4" cy="553.0" r="11.4" fill="url(#gF)"/>
<circle cx="513.2" cy="553.0" r="11.4" fill="url(#gF)"/>
<circle cx="557.9" cy="553.0" r="11.4" fill="url(#gF)"/>
<circle cx="602.6" cy="553.0" r="11.4" fill="url(#gF)"/>
<circle cx="128.6" cy="554.5" r="11.4" fill="url(#gF)"/>
<circle cx="173.3" cy="554.5" r="11.4" fill="url(#gF)"/>
<circle cx="218.1" cy="554.5" r="11.4" fill="url(#gF)"/>
<circle cx="262.8" cy="554.5" r="11.4" fill="url(#gF)"/>
<circle cx="307.5" cy="554.5" r="11.4" fill="url(#gF)"/>
<circle cx="352.2" cy="554.5" r="11.4" fill="url(#gF)"/>
<circle cx="397.0" cy="554.5" r="11.4" fill="url(#gF)"/>
<circle cx="441.7" cy="554.5" r="11.4" fill="url(#gF)"/>
<circle cx="486.4" cy="554.5" r="11.4" fill="url(#gF)"/>
<circle cx="531.2" cy="554.5" r="11.4" fill="url(#gF)"/>
<circle cx="575.9" cy="554.5" r="11.4" fill="url(#gF)"/>
<circle cx="620.6" cy="554.5" r="11.4" fill="url(#gF)"/>
<circle cx="110.6" cy="556.0" r="11.5" fill="url(#gF)"/>
<circle cx="155.3" cy="556.0" r="11.5" fill="url(#gF)"/>
<circle cx="200.1" cy="556.0" r="11.5" fill="url(#gF)"/>
<circle cx="244.8" cy="556.0" r="11.5" fill="url(#gF)"/>
<circle cx="289.5" cy="556.0" r="11.5" fill="url(#gF)"/>
<circle cx="334.2" cy="556.0" r="11.5" fill="url(#gF)"/>
<circle cx="379.0" cy="556.0" r="11.5" fill="url(#gF)"/>
<circle cx="423.7" cy="556.0" r="11.5" fill="url(#gF)"/>
<circle cx="468.4" cy="556.0" r="11.5" fill="url(#gF)"/>
<circle cx="513.2" cy="556.0" r="11.5" fill="url(#gF)"/>
<circle cx="557.9" cy="556.0" r="11.5" fill="url(#gF)"/>
<circle cx="602.6" cy="556.0" r="11.5" fill="url(#gF)"/>
<circle cx="128.6" cy="557.5" r="11.5" fill="url(#gF)"/>
<circle cx="173.3" cy="557.5" r="11.5" fill="url(#gF)"/>
<circle cx="218.1" cy="557.5" r="11.5" fill="url(#gF)"/>
<circle cx="262.8" cy="557.5" r="11.5" fill="url(#gF)"/>
<circle cx="307.5" cy="557.5" r="11.5" fill="url(#gF)"/>
<circle cx="352.2" cy="557.5" r="11.5" fill="url(#gF)"/>
<circle cx="397.0" cy="557.5" r="11.5" fill="url(#gF)"/>
<circle cx="441.7" cy="557.5" r="11.5" fill="url(#gF)"/>
<circle cx="486.4" cy="557.5" r="11.5" fill="url(#gF)"/>
<circle cx="531.2" cy="557.5" r="11.5" fill="url(#gF)"/>
<circle cx="575.9" cy="557.5" r="11.5" fill="url(#gF)"/>
<circle cx="620.6" cy="557.5" r="11.5" fill="url(#gF)"/>
<circle cx="110.6" cy="559.0" r="11.6" fill="url(#gF)"/>
<circle cx="155.3" cy="559.0" r="11.6" fill="url(#gF)"/>
<circle cx="200.1" cy="559.0" r="11.6" fill="url(#gF)"/>
<circle cx="244.8" cy="559.0" r="11.6" fill="url(#gF)"/>
<circle cx="289.5" cy="559.0" r="11.6" fill="url(#gF)"/>
<circle cx="334.2" cy="559.0" r="11.6" fill="url(#gF)"/>
<circle cx="379.0" cy="559.0" r="11.6" fill="url(#gF)"/>
<circle cx="423.7" cy="559.0" r="11.6" fill="url(#gF)"/>
<circle cx="468.4" cy="559.0" r="11.6" fill="url(#gF)"/>
<circle cx="513.2" cy="559.0" r="11.6" fill="url(#gF)"/>
<circle cx="557.9" cy="559.0" r="11.6" fill="url(#gF)"/>
<circle cx="602.6" cy="559.0" r="11.6" fill="url(#gF)"/>
<circle cx="128.6" cy="560.5" r="11.6" fill="url(#gF)"/>
<circle cx="173.3" cy="560.5" r="11.6" fill="url(#gF)"/>
<circle cx="218.1" cy="560.5" r="11.6" fill="url(#gF)"/>
<circle cx="262.8" cy="560.5" r="11.6" fill="url(#gF)"/>
<circle cx="307.5" cy="560.5" r="11.6" fill="url(#gF)"/>
<circle cx="352.2" cy="560.5" r="11.6" fill="url(#gF)"/>
<circle cx="397.0" cy="560.5" r="11.6" fill="url(#gF)"/>
<circle cx="441.7" cy="560.5" r="11.6" fill="url(#gF)"/>
<circle cx="486.4" cy="560.5" r="11.6" fill="url(#gF)"/>
<circle cx="531.2" cy="560.5" r="11.6" fill="url(#gF)"/>
<circle cx="575.9" cy="560.5" r="11.6" fill="url(#gF)"/>
<circle cx="620.6" cy="560.5" r="11.6" fill="url(#gF)"/>
<circle cx="110.6" cy="562.0" r="11.8" fill="url(#gF)"/>
<circle cx="155.3" cy="562.0" r="11.8" fill="url(#gF)"/>
<circle cx="200.1" cy="562.0" r="11.8" fill="url(#gF)"/>
<circle cx="244.8" cy="562.0" r="11.8" fill="url(#gF)"/>
<circle cx="289.5" cy="562.0" r="11.8" fill="url(#gF)"/>
<circle cx="334.2" cy="562.0" r="11.8" fill="url(#gF)"/>
<circle cx="379.0" cy="562.0" r="11.8" fill="url(#gF)"/>
<circle cx="423.7" cy="562.0" r="11.8" fill="url(#gF)"/>
<circle cx="468.4" cy="562.0" r="11.8" fill="url(#gF)"/>
<circle cx="513.2" cy="562.0" r="11.8" fill="url(#gF)"/>
<circle cx="557.9" cy="562.0" r="11.8" fill="url(#gF)"/>
<circle cx="602.6" cy="562.0" r="11.8" fill="url(#gF)"/>
<circle cx="128.6" cy="563.5" r="11.8" fill="url(#gF)"/>
<circle cx="173.3" cy="563.5" r="11.8" fill="url(#gF)"/>
<circle cx="218.1" cy="563.5" r="11.8" fill="url(#gF)"/>
<circle cx="262.8" cy="563.5" r="11.8" fill="url(#gF)"/>
<circle cx="307.5" cy="563.5" r="11.8" fill="url(#gF)"/>
<circle cx="352.2" cy="563.5" r="11.8" fill="url(#gF)"/>
<circle cx="397.0" cy="563.5" r="11.8" fill="url(#gF)"/>
<circle cx="441.7" cy="563.5" r="11.8" fill="url(#gF)"/>
<circle cx="486.4" cy="563.5" r="11.8" fill="url(#gF)"/>
<circle cx="531.2" cy="563.5" r="11.8" fill="url(#gF)"/>
<circle cx="575.9" cy="563.5" r="11.8" fill="url(#gF)"/>
<circle cx="620.6" cy="563.5" r="11.8" fill="url(#gF)"/>
<circle cx="110.6" cy="565.0" r="11.9" fill="url(#gF)"/>
<circle cx="155.3" cy="565.0" r="11.9" fill="url(#gF)"/>
<circle cx="200.1" cy="565.0" r="11.9" fill="url(#gF)"/>
<circle cx="244.8" cy="565.0" r="11.9" fill="url(#gF)"/>
<circle cx="289.5" cy="565.0" r="11.9" fill="url(#gF)"/>
<circle cx="334.2" cy="565.0" r="11.9" fill="url(#gF)"/>
<circle cx="379.0" cy="565.0" r="11.9" fill="url(#gF)"/>
<circle cx="423.7" cy="565.0" r="11.9" fill="url(#gF)"/>
<circle cx="468.4" cy="565.0" r="11.9" fill="url(#gF)"/>
<circle cx="513.2" cy="565.0" r="11.9" fill="url(#gF)"/>
<circle cx="557.9" cy="565.0" r="11.9" fill="url(#gF)"/>
<circle cx="602.6" cy="565.0" r="11.9" fill="url(#gF)"/>
<circle cx="128.6" cy="566.5" r="11.9" fill="url(#gF)"/>
<circle cx="173.3" cy="566.5" r="11.9" fill="url(#gF)"/>
<circle cx="218.1" cy="566.5" r="11.9" fill="url(#gF)"/>
<circle cx="262.8" cy="566.5" r="11.9" fill="url(#gF)"/>
<circle cx="307.5" cy="566.5" r="11.9" fill="url(#gF)"/>
<circle cx="352.2" cy="566.5" r="11.9" fill="url(#gF)"/>
<circle cx="397.0" cy="566.5" r="11.9" fill="url(#gF)"/>
<circle cx="441.7" cy="566.5" r="11.9" fill="url(#gF)"/>
<circle cx="486.4" cy="566.5" r="11.9" fill="url(#gF)"/>
<circle cx="531.2" cy="566.5" r="11.9" fill="url(#gF)"/>
<circle cx="575.9" cy="566.5" r="11.9" fill="url(#gF)"/>
<circle cx="620.6" cy="566.5" r="11.9" fill="url(#gF)"/>
<circle cx="98.6" cy="544.9" r="3.7" fill="url(#gCo)"/>
<circle cx="143.3" cy="544.9" r="3.7" fill="url(#gCo)"/>
<circle cx="188.1" cy="544.9" r="3.7" fill="url(#gCo)"/>
<circle cx="232.8" cy="544.9" r="3.7" fill="url(#gCo)"/>
<circle cx="277.5" cy="544.9" r="3.7" fill="url(#gCo)"/>
<circle cx="322.2" cy="544.9" r="3.7" fill="url(#gCo)"/>
<circle cx="367.0" cy="544.9" r="3.7" fill="url(#gCo)"/>
<circle cx="411.7" cy="544.9" r="3.7" fill="url(#gCo)"/>
<circle cx="456.4" cy="544.9" r="3.7" fill="url(#gCo)"/>
<circle cx="501.2" cy="544.9" r="3.7" fill="url(#gCo)"/>
<circle cx="545.9" cy="544.9" r="3.7" fill="url(#gCo)"/>
<circle cx="590.6" cy="544.9" r="3.7" fill="url(#gCo)"/>
<circle cx="635.4" cy="544.9" r="3.7" fill="url(#gCo)"/>
<circle cx="98.6" cy="548.4" r="3.7" fill="url(#gCo)"/>
<circle cx="143.3" cy="548.4" r="3.7" fill="url(#gCo)"/>
<circle cx="188.1" cy="548.4" r="3.7" fill="url(#gCo)"/>
<circle cx="232.8" cy="548.4" r="3.7" fill="url(#gCo)"/>
<circle cx="277.5" cy="548.4" r="3.7" fill="url(#gCo)"/>
<circle cx="322.2" cy="548.4" r="3.7" fill="url(#gCo)"/>
<circle cx="367.0" cy="548.4" r="3.7" fill="url(#gCo)"/>
<circle cx="411.7" cy="548.4" r="3.7" fill="url(#gCo)"/>
<circle cx="456.4" cy="548.4" r="3.7" fill="url(#gCo)"/>
<circle cx="501.2" cy="548.4" r="3.7" fill="url(#gCo)"/>
<circle cx="545.9" cy="548.4" r="3.7" fill="url(#gCo)"/>
<circle cx="590.6" cy="548.4" r="3.7" fill="url(#gCo)"/>
<circle cx="635.4" cy="548.4" r="3.7" fill="url(#gCo)"/>
<circle cx="98.6" cy="551.8" r="3.7" fill="url(#gCo)"/>
<circle cx="143.3" cy="551.8" r="3.7" fill="url(#gCo)"/>
<circle cx="188.1" cy="551.8" r="3.7" fill="url(#gCo)"/>
<circle cx="232.8" cy="551.8" r="3.7" fill="url(#gCo)"/>
<circle cx="277.5" cy="551.8" r="3.7" fill="url(#gCo)"/>
<circle cx="322.2" cy="551.8" r="3.7" fill="url(#gCo)"/>
<circle cx="367.0" cy="551.8" r="3.7" fill="url(#gCo)"/>
<circle cx="411.7" cy="551.8" r="3.7" fill="url(#gCo)"/>
<circle cx="456.4" cy="551.8" r="3.7" fill="url(#gCo)"/>
<circle cx="501.2" cy="551.8" r="3.7" fill="url(#gCo)"/>
<circle cx="545.9" cy="551.8" r="3.7" fill="url(#gCo)"/>
<circle cx="590.6" cy="551.8" r="3.7" fill="url(#gCo)"/>
<circle cx="635.4" cy="551.8" r="3.7" fill="url(#gCo)"/>
<circle cx="98.6" cy="555.2" r="3.7" fill="url(#gCo)"/>
<circle cx="143.3" cy="555.2" r="3.7" fill="url(#gCo)"/>
<circle cx="188.1" cy="555.2" r="3.7" fill="url(#gCo)"/>
<circle cx="232.8" cy="555.2" r="3.7" fill="url(#gCo)"/>
<circle cx="277.5" cy="555.2" r="3.7" fill="url(#gCo)"/>
<circle cx="322.2" cy="555.2" r="3.7" fill="url(#gCo)"/>
<circle cx="367.0" cy="555.2" r="3.7" fill="url(#gCo)"/>
<circle cx="411.7" cy="555.2" r="3.7" fill="url(#gCo)"/>
<circle cx="456.4" cy="555.2" r="3.7" fill="url(#gCo)"/>
<circle cx="501.2" cy="555.2" r="3.7" fill="url(#gCo)"/>
<circle cx="545.9" cy="555.2" r="3.7" fill="url(#gCo)"/>
<circle cx="590.6" cy="555.2" r="3.7" fill="url(#gCo)"/>
<circle cx="635.4" cy="555.2" r="3.7" fill="url(#gCo)"/>
<circle cx="98.6" cy="558.7" r="3.7" fill="url(#gCo)"/>
<circle cx="143.3" cy="558.7" r="3.7" fill="url(#gCo)"/>
<circle cx="188.1" cy="558.7" r="3.7" fill="url(#gCo)"/>
<circle cx="232.8" cy="558.7" r="3.7" fill="url(#gCo)"/>
<circle cx="277.5" cy="558.7" r="3.7" fill="url(#gCo)"/>
<circle cx="322.2" cy="558.7" r="3.7" fill="url(#gCo)"/>
<circle cx="367.0" cy="558.7" r="3.7" fill="url(#gCo)"/>
<circle cx="411.7" cy="558.7" r="3.7" fill="url(#gCo)"/>
<circle cx="456.4" cy="558.7" r="3.7" fill="url(#gCo)"/>
<circle cx="501.2" cy="558.7" r="3.7" fill="url(#gCo)"/>
<circle cx="545.9" cy="558.7" r="3.7" fill="url(#gCo)"/>
<circle cx="590.6" cy="558.7" r="3.7" fill="url(#gCo)"/>
<circle cx="635.4" cy="558.7" r="3.7" fill="url(#gCo)"/>
<circle cx="98.6" cy="562.1" r="3.7" fill="url(#gCo)"/>
<circle cx="143.3" cy="562.1" r="3.7" fill="url(#gCo)"/>
<circle cx="188.1" cy="562.1" r="3.7" fill="url(#gCo)"/>
<circle cx="232.8" cy="562.1" r="3.7" fill="url(#gCo)"/>
<circle cx="277.5" cy="562.1" r="3.7" fill="url(#gCo)"/>
<circle cx="322.2" cy="562.1" r="3.7" fill="url(#gCo)"/>
<circle cx="367.0" cy="562.1" r="3.7" fill="url(#gCo)"/>
<circle cx="411.7" cy="562.1" r="3.7" fill="url(#gCo)"/>
<circle cx="456.4" cy="562.1" r="3.7" fill="url(#gCo)"/>
<circle cx="501.2" cy="562.1" r="3.7" fill="url(#gCo)"/>
<circle cx="545.9" cy="562.1" r="3.7" fill="url(#gCo)"/>
<circle cx="590.6" cy="562.1" r="3.7" fill="url(#gCo)"/>
<circle cx="635.4" cy="562.1" r="3.7" fill="url(#gCo)"/>
<circle cx="98.6" cy="565.6" r="3.7" fill="url(#gCo)"/>
<circle cx="143.3" cy="565.6" r="3.7" fill="url(#gCo)"/>
<circle cx="188.1" cy="565.6" r="3.7" fill="url(#gCo)"/>
<circle cx="232.8" cy="565.6" r="3.7" fill="url(#gCo)"/>
<circle cx="277.5" cy="565.6" r="3.7" fill="url(#gCo)"/>
<circle cx="322.2" cy="565.6" r="3.7" fill="url(#gCo)"/>
<circle cx="367.0" cy="565.6" r="3.7" fill="url(#gCo)"/>
<circle cx="411.7" cy="565.6" r="3.7" fill="url(#gCo)"/>
<circle cx="456.4" cy="565.6" r="3.7" fill="url(#gCo)"/>
<circle cx="501.2" cy="565.6" r="3.7" fill="url(#gCo)"/>
<circle cx="545.9" cy="565.6" r="3.7" fill="url(#gCo)"/>
<circle cx="590.6" cy="565.6" r="3.7" fill="url(#gCo)"/>
<circle cx="635.4" cy="565.6" r="3.7" fill="url(#gCo)"/>
<circle cx="98.6" cy="569.0" r="3.7" fill="url(#gCo)"/>
<circle cx="143.3" cy="569.0" r="3.7" fill="url(#gCo)"/>
<circle cx="188.1" cy="569.0" r="3.7" fill="url(#gCo)"/>
<circle cx="232.8" cy="569.0" r="3.7" fill="url(#gCo)"/>
<circle cx="277.5" cy="569.0" r="3.7" fill="url(#gCo)"/>
<circle cx="322.2" cy="569.0" r="3.7" fill="url(#gCo)"/>
<circle cx="367.0" cy="569.0" r="3.7" fill="url(#gCo)"/>
<circle cx="411.7" cy="569.0" r="3.7" fill="url(#gCo)"/>
<circle cx="456.4" cy="569.0" r="3.7" fill="url(#gCo)"/>
<circle cx="501.2" cy="569.0" r="3.7" fill="url(#gCo)"/>
<circle cx="545.9" cy="569.0" r="3.7" fill="url(#gCo)"/>
<circle cx="590.6" cy="569.0" r="3.7" fill="url(#gCo)"/>
<circle cx="635.4" cy="569.0" r="3.7" fill="url(#gCo)"/>
<rect x="144.8" y="498.3" width="438.2" height="50.5" fill="#36426c"/>
<circle cx="154.8" cy="491.3" r="11.4" fill="url(#gF)"/>
<circle cx="199.2" cy="491.3" r="11.4" fill="url(#gF)"/>
<circle cx="243.6" cy="491.3" r="11.4" fill="url(#gF)"/>
<circle cx="288.1" cy="491.3" r="11.4" fill="url(#gF)"/>
<circle cx="332.5" cy="491.3" r="11.4" fill="url(#gF)"/>
<circle cx="376.9" cy="491.3" r="11.4" fill="url(#gF)"/>
<circle cx="421.3" cy="491.3" r="11.4" fill="url(#gF)"/>
<circle cx="465.7" cy="491.3" r="11.4" fill="url(#gF)"/>
<circle cx="510.2" cy="491.3" r="11.4" fill="url(#gF)"/>
<circle cx="554.6" cy="491.3" r="11.4" fill="url(#gF)"/>
<circle cx="172.8" cy="492.8" r="11.4" fill="url(#gF)"/>
<circle cx="217.2" cy="492.8" r="11.4" fill="url(#gF)"/>
<circle cx="261.6" cy="492.8" r="11.4" fill="url(#gF)"/>
<circle cx="306.1" cy="492.8" r="11.4" fill="url(#gF)"/>
<circle cx="350.5" cy="492.8" r="11.4" fill="url(#gF)"/>
<circle cx="394.9" cy="492.8" r="11.4" fill="url(#gF)"/>
<circle cx="439.3" cy="492.8" r="11.4" fill="url(#gF)"/>
<circle cx="483.7" cy="492.8" r="11.4" fill="url(#gF)"/>
<circle cx="528.2" cy="492.8" r="11.4" fill="url(#gF)"/>
<circle cx="572.6" cy="492.8" r="11.4" fill="url(#gF)"/>
<circle cx="154.8" cy="493.9" r="11.5" fill="url(#gF)"/>
<circle cx="199.2" cy="493.9" r="11.5" fill="url(#gF)"/>
<circle cx="243.6" cy="493.9" r="11.5" fill="url(#gF)"/>
<circle cx="288.1" cy="493.9" r="11.5" fill="url(#gF)"/>
<circle cx="332.5" cy="493.9" r="11.5" fill="url(#gF)"/>
<circle cx="376.9" cy="493.9" r="11.5" fill="url(#gF)"/>
<circle cx="421.3" cy="493.9" r="11.5" fill="url(#gF)"/>
<circle cx="465.7" cy="493.9" r="11.5" fill="url(#gF)"/>
<circle cx="510.2" cy="493.9" r="11.5" fill="url(#gF)"/>
<circle cx="554.6" cy="493.9" r="11.5" fill="url(#gF)"/>
<circle cx="172.8" cy="495.4" r="11.5" fill="url(#gF)"/>
<circle cx="217.2" cy="495.4" r="11.5" fill="url(#gF)"/>
<circle cx="261.6" cy="495.4" r="11.5" fill="url(#gF)"/>
<circle cx="306.1" cy="495.4" r="11.5" fill="url(#gF)"/>
<circle cx="350.5" cy="495.4" r="11.5" fill="url(#gF)"/>
<circle cx="394.9" cy="495.4" r="11.5" fill="url(#gF)"/>
<circle cx="439.3" cy="495.4" r="11.5" fill="url(#gF)"/>
<circle cx="483.7" cy="495.4" r="11.5" fill="url(#gF)"/>
<circle cx="528.2" cy="495.4" r="11.5" fill="url(#gF)"/>
<circle cx="572.6" cy="495.4" r="11.5" fill="url(#gF)"/>
<circle cx="154.8" cy="496.5" r="11.6" fill="url(#gF)"/>
<circle cx="199.2" cy="496.5" r="11.6" fill="url(#gF)"/>
<circle cx="243.6" cy="496.5" r="11.6" fill="url(#gF)"/>
<circle cx="288.1" cy="496.5" r="11.6" fill="url(#gF)"/>
<circle cx="332.5" cy="496.5" r="11.6" fill="url(#gF)"/>
<circle cx="376.9" cy="496.5" r="11.6" fill="url(#gF)"/>
<circle cx="421.3" cy="496.5" r="11.6" fill="url(#gF)"/>
<circle cx="465.7" cy="496.5" r="11.6" fill="url(#gF)"/>
<circle cx="510.2" cy="496.5" r="11.6" fill="url(#gF)"/>
<circle cx="554.6" cy="496.5" r="11.6" fill="url(#gF)"/>
<circle cx="172.8" cy="498.0" r="11.6" fill="url(#gF)"/>
<circle cx="217.2" cy="498.0" r="11.6" fill="url(#gF)"/>
<circle cx="261.6" cy="498.0" r="11.6" fill="url(#gF)"/>
<circle cx="306.1" cy="498.0" r="11.6" fill="url(#gF)"/>
<circle cx="350.5" cy="498.0" r="11.6" fill="url(#gF)"/>
<circle cx="394.9" cy="498.0" r="11.6" fill="url(#gF)"/>
<circle cx="439.3" cy="498.0" r="11.6" fill="url(#gF)"/>
<circle cx="483.7" cy="498.0" r="11.6" fill="url(#gF)"/>
<circle cx="528.2" cy="498.0" r="11.6" fill="url(#gF)"/>
<circle cx="572.6" cy="498.0" r="11.6" fill="url(#gF)"/>
<circle cx="154.8" cy="499.1" r="11.8" fill="url(#gF)"/>
<circle cx="199.2" cy="499.1" r="11.8" fill="url(#gF)"/>
<circle cx="243.6" cy="499.1" r="11.8" fill="url(#gF)"/>
<circle cx="288.1" cy="499.1" r="11.8" fill="url(#gF)"/>
<circle cx="332.5" cy="499.1" r="11.8" fill="url(#gF)"/>
<circle cx="376.9" cy="499.1" r="11.8" fill="url(#gF)"/>
<circle cx="421.3" cy="499.1" r="11.8" fill="url(#gF)"/>
<circle cx="465.7" cy="499.1" r="11.8" fill="url(#gF)"/>
<circle cx="510.2" cy="499.1" r="11.8" fill="url(#gF)"/>
<circle cx="554.6" cy="499.1" r="11.8" fill="url(#gF)"/>
<circle cx="172.8" cy="500.6" r="11.8" fill="url(#gF)"/>
<circle cx="217.2" cy="500.6" r="11.8" fill="url(#gF)"/>
<circle cx="261.6" cy="500.6" r="11.8" fill="url(#gF)"/>
<circle cx="306.1" cy="500.6" r="11.8" fill="url(#gF)"/>
<circle cx="350.5" cy="500.6" r="11.8" fill="url(#gF)"/>
<circle cx="394.9" cy="500.6" r="11.8" fill="url(#gF)"/>
<circle cx="439.3" cy="500.6" r="11.8" fill="url(#gF)"/>
<circle cx="483.7" cy="500.6" r="11.8" fill="url(#gF)"/>
<circle cx="528.2" cy="500.6" r="11.8" fill="url(#gF)"/>
<circle cx="572.6" cy="500.6" r="11.8" fill="url(#gF)"/>
<circle cx="154.8" cy="501.7" r="11.9" fill="url(#gF)"/>
<circle cx="199.2" cy="501.7" r="11.9" fill="url(#gF)"/>
<circle cx="243.6" cy="501.7" r="11.9" fill="url(#gF)"/>
<circle cx="288.1" cy="501.7" r="11.9" fill="url(#gF)"/>
<circle cx="332.5" cy="501.7" r="11.9" fill="url(#gF)"/>
<circle cx="376.9" cy="501.7" r="11.9" fill="url(#gF)"/>
<circle cx="421.3" cy="501.7" r="11.9" fill="url(#gF)"/>
<circle cx="465.7" cy="501.7" r="11.9" fill="url(#gF)"/>
<circle cx="510.2" cy="501.7" r="11.9" fill="url(#gF)"/>
<circle cx="554.6" cy="501.7" r="11.9" fill="url(#gF)"/>
<circle cx="172.8" cy="503.2" r="11.9" fill="url(#gF)"/>
<circle cx="217.2" cy="503.2" r="11.9" fill="url(#gF)"/>
<circle cx="261.6" cy="503.2" r="11.9" fill="url(#gF)"/>
<circle cx="306.1" cy="503.2" r="11.9" fill="url(#gF)"/>
<circle cx="350.5" cy="503.2" r="11.9" fill="url(#gF)"/>
<circle cx="394.9" cy="503.2" r="11.9" fill="url(#gF)"/>
<circle cx="439.3" cy="503.2" r="11.9" fill="url(#gF)"/>
<circle cx="483.7" cy="503.2" r="11.9" fill="url(#gF)"/>
<circle cx="528.2" cy="503.2" r="11.9" fill="url(#gF)"/>
<circle cx="572.6" cy="503.2" r="11.9" fill="url(#gF)"/>
<circle cx="142.8" cy="490.9" r="3.7" fill="url(#gCo)"/>
<circle cx="187.2" cy="490.9" r="3.7" fill="url(#gCo)"/>
<circle cx="231.6" cy="490.9" r="3.7" fill="url(#gCo)"/>
<circle cx="276.1" cy="490.9" r="3.7" fill="url(#gCo)"/>
<circle cx="320.5" cy="490.9" r="3.7" fill="url(#gCo)"/>
<circle cx="364.9" cy="490.9" r="3.7" fill="url(#gCo)"/>
<circle cx="409.3" cy="490.9" r="3.7" fill="url(#gCo)"/>
<circle cx="453.7" cy="490.9" r="3.7" fill="url(#gCo)"/>
<circle cx="498.2" cy="490.9" r="3.7" fill="url(#gCo)"/>
<circle cx="542.6" cy="490.9" r="3.7" fill="url(#gCo)"/>
<circle cx="587.0" cy="490.9" r="3.7" fill="url(#gCo)"/>
<circle cx="142.8" cy="493.9" r="3.7" fill="url(#gCo)"/>
<circle cx="187.2" cy="493.9" r="3.7" fill="url(#gCo)"/>
<circle cx="231.6" cy="493.9" r="3.7" fill="url(#gCo)"/>
<circle cx="276.1" cy="493.9" r="3.7" fill="url(#gCo)"/>
<circle cx="320.5" cy="493.9" r="3.7" fill="url(#gCo)"/>
<circle cx="364.9" cy="493.9" r="3.7" fill="url(#gCo)"/>
<circle cx="409.3" cy="493.9" r="3.7" fill="url(#gCo)"/>
<circle cx="453.7" cy="493.9" r="3.7" fill="url(#gCo)"/>
<circle cx="498.2" cy="493.9" r="3.7" fill="url(#gCo)"/>
<circle cx="542.6" cy="493.9" r="3.7" fill="url(#gCo)"/>
<circle cx="587.0" cy="493.9" r="3.7" fill="url(#gCo)"/>
<circle cx="142.8" cy="496.8" r="3.7" fill="url(#gCo)"/>
<circle cx="187.2" cy="496.8" r="3.7" fill="url(#gCo)"/>
<circle cx="231.6" cy="496.8" r="3.7" fill="url(#gCo)"/>
<circle cx="276.1" cy="496.8" r="3.7" fill="url(#gCo)"/>
<circle cx="320.5" cy="496.8" r="3.7" fill="url(#gCo)"/>
<circle cx="364.9" cy="496.8" r="3.7" fill="url(#gCo)"/>
<circle cx="409.3" cy="496.8" r="3.7" fill="url(#gCo)"/>
<circle cx="453.7" cy="496.8" r="3.7" fill="url(#gCo)"/>
<circle cx="498.2" cy="496.8" r="3.7" fill="url(#gCo)"/>
<circle cx="542.6" cy="496.8" r="3.7" fill="url(#gCo)"/>
<circle cx="587.0" cy="496.8" r="3.7" fill="url(#gCo)"/>
<circle cx="142.8" cy="499.8" r="3.7" fill="url(#gCo)"/>
<circle cx="187.2" cy="499.8" r="3.7" fill="url(#gCo)"/>
<circle cx="231.6" cy="499.8" r="3.7" fill="url(#gCo)"/>
<circle cx="276.1" cy="499.8" r="3.7" fill="url(#gCo)"/>
<circle cx="320.5" cy="499.8" r="3.7" fill="url(#gCo)"/>
<circle cx="364.9" cy="499.8" r="3.7" fill="url(#gCo)"/>
<circle cx="409.3" cy="499.8" r="3.7" fill="url(#gCo)"/>
<circle cx="453.7" cy="499.8" r="3.7" fill="url(#gCo)"/>
<circle cx="498.2" cy="499.8" r="3.7" fill="url(#gCo)"/>
<circle cx="542.6" cy="499.8" r="3.7" fill="url(#gCo)"/>
<circle cx="587.0" cy="499.8" r="3.7" fill="url(#gCo)"/>
<circle cx="142.8" cy="502.8" r="3.7" fill="url(#gCo)"/>
<circle cx="187.2" cy="502.8" r="3.7" fill="url(#gCo)"/>
<circle cx="231.6" cy="502.8" r="3.7" fill="url(#gCo)"/>
<circle cx="276.1" cy="502.8" r="3.7" fill="url(#gCo)"/>
<circle cx="320.5" cy="502.8" r="3.7" fill="url(#gCo)"/>
<circle cx="364.9" cy="502.8" r="3.7" fill="url(#gCo)"/>
<circle cx="409.3" cy="502.8" r="3.7" fill="url(#gCo)"/>
<circle cx="453.7" cy="502.8" r="3.7" fill="url(#gCo)"/>
<circle cx="498.2" cy="502.8" r="3.7" fill="url(#gCo)"/>
<circle cx="542.6" cy="502.8" r="3.7" fill="url(#gCo)"/>
<circle cx="587.0" cy="502.8" r="3.7" fill="url(#gCo)"/>
<circle cx="142.8" cy="505.8" r="3.7" fill="url(#gCo)"/>
<circle cx="187.2" cy="505.8" r="3.7" fill="url(#gCo)"/>
<circle cx="231.6" cy="505.8" r="3.7" fill="url(#gCo)"/>
<circle cx="276.1" cy="505.8" r="3.7" fill="url(#gCo)"/>
<circle cx="320.5" cy="505.8" r="3.7" fill="url(#gCo)"/>
<circle cx="364.9" cy="505.8" r="3.7" fill="url(#gCo)"/>
<circle cx="409.3" cy="505.8" r="3.7" fill="url(#gCo)"/>
<circle cx="453.7" cy="505.8" r="3.7" fill="url(#gCo)"/>
<circle cx="498.2" cy="505.8" r="3.7" fill="url(#gCo)"/>
<circle cx="542.6" cy="505.8" r="3.7" fill="url(#gCo)"/>
<circle cx="587.0" cy="505.8" r="3.7" fill="url(#gCo)"/>
<circle cx="153.7" cy="505.8" r="12.0" fill="#242d52"/><circle cx="154.8" cy="504.3" r="12.0" fill="url(#gF)"/>
<circle cx="198.1" cy="505.8" r="12.0" fill="#242d52"/><circle cx="199.2" cy="504.3" r="12.0" fill="url(#gF)"/>
<circle cx="242.5" cy="505.8" r="12.0" fill="#242d52"/><circle cx="243.6" cy="504.3" r="12.0" fill="url(#gF)"/>
<circle cx="287.0" cy="505.8" r="12.0" fill="#242d52"/><circle cx="288.1" cy="504.3" r="12.0" fill="url(#gF)"/>
<circle cx="331.4" cy="505.8" r="12.0" fill="#242d52"/><circle cx="332.5" cy="504.3" r="12.0" fill="url(#gF)"/>
<circle cx="375.8" cy="505.8" r="12.0" fill="#242d52"/><circle cx="376.9" cy="504.3" r="12.0" fill="url(#gF)"/>
<circle cx="420.2" cy="505.8" r="12.0" fill="#242d52"/><circle cx="421.3" cy="504.3" r="12.0" fill="url(#gF)"/>
<circle cx="464.6" cy="505.8" r="12.0" fill="#242d52"/><circle cx="465.7" cy="504.3" r="12.0" fill="url(#gF)"/>
<circle cx="509.1" cy="505.8" r="12.0" fill="#242d52"/><circle cx="510.2" cy="504.3" r="12.0" fill="url(#gF)"/>
<circle cx="553.5" cy="505.8" r="12.0" fill="#242d52"/><circle cx="554.6" cy="504.3" r="12.0" fill="url(#gF)"/>
<circle cx="171.7" cy="507.3" r="12.0" fill="#242d52"/><circle cx="172.8" cy="505.8" r="12.0" fill="url(#gF)"/>
<circle cx="216.1" cy="507.3" r="12.0" fill="#242d52"/><circle cx="217.2" cy="505.8" r="12.0" fill="url(#gF)"/>
<circle cx="260.5" cy="507.3" r="12.0" fill="#242d52"/><circle cx="261.6" cy="505.8" r="12.0" fill="url(#gF)"/>
<circle cx="305.0" cy="507.3" r="12.0" fill="#242d52"/><circle cx="306.1" cy="505.8" r="12.0" fill="url(#gF)"/>
<circle cx="349.4" cy="507.3" r="12.0" fill="#242d52"/><circle cx="350.5" cy="505.8" r="12.0" fill="url(#gF)"/>
<circle cx="393.8" cy="507.3" r="12.0" fill="#242d52"/><circle cx="394.9" cy="505.8" r="12.0" fill="url(#gF)"/>
<circle cx="438.2" cy="507.3" r="12.0" fill="#242d52"/><circle cx="439.3" cy="505.8" r="12.0" fill="url(#gF)"/>
<circle cx="482.6" cy="507.3" r="12.0" fill="#242d52"/><circle cx="483.7" cy="505.8" r="12.0" fill="url(#gF)"/>
<circle cx="527.1" cy="507.3" r="12.0" fill="#242d52"/><circle cx="528.2" cy="505.8" r="12.0" fill="url(#gF)"/>
<circle cx="571.5" cy="507.3" r="12.0" fill="#242d52"/><circle cx="572.6" cy="505.8" r="12.0" fill="url(#gF)"/>
<circle cx="142.8" cy="507.1" r="6.1" fill="url(#gCo)"/>
<circle cx="187.2" cy="507.1" r="6.1" fill="url(#gCo)"/>
<circle cx="231.6" cy="507.1" r="6.1" fill="url(#gCo)"/>
<circle cx="276.1" cy="507.1" r="6.1" fill="url(#gCo)"/>
<circle cx="320.5" cy="507.1" r="6.1" fill="url(#gCo)"/>
<circle cx="364.9" cy="507.1" r="6.1" fill="url(#gCo)"/>
<circle cx="409.3" cy="507.1" r="6.1" fill="url(#gCo)"/>
<circle cx="453.7" cy="507.1" r="6.1" fill="url(#gCo)"/>
<circle cx="498.2" cy="507.1" r="6.1" fill="url(#gCo)"/>
<circle cx="542.6" cy="507.1" r="6.1" fill="url(#gCo)"/>
<circle cx="587.0" cy="507.1" r="6.1" fill="url(#gCo)"/>
<circle cx="153.7" cy="544.3" r="12.0" fill="#242d52"/><circle cx="154.8" cy="542.8" r="12.0" fill="url(#gF)"/>
<circle cx="198.1" cy="544.3" r="12.0" fill="#242d52"/><circle cx="199.2" cy="542.8" r="12.0" fill="url(#gF)"/>
<circle cx="242.5" cy="544.3" r="12.0" fill="#242d52"/><circle cx="243.6" cy="542.8" r="12.0" fill="url(#gF)"/>
<circle cx="287.0" cy="544.3" r="12.0" fill="#242d52"/><circle cx="288.1" cy="542.8" r="12.0" fill="url(#gF)"/>
<circle cx="331.4" cy="544.3" r="12.0" fill="#242d52"/><circle cx="332.5" cy="542.8" r="12.0" fill="url(#gF)"/>
<circle cx="375.8" cy="544.3" r="12.0" fill="#242d52"/><circle cx="376.9" cy="542.8" r="12.0" fill="url(#gF)"/>
<circle cx="420.2" cy="544.3" r="12.0" fill="#242d52"/><circle cx="421.3" cy="542.8" r="12.0" fill="url(#gF)"/>
<circle cx="464.6" cy="544.3" r="12.0" fill="#242d52"/><circle cx="465.7" cy="542.8" r="12.0" fill="url(#gF)"/>
<circle cx="509.1" cy="544.3" r="12.0" fill="#242d52"/><circle cx="510.2" cy="542.8" r="12.0" fill="url(#gF)"/>
<circle cx="553.5" cy="544.3" r="12.0" fill="#242d52"/><circle cx="554.6" cy="542.8" r="12.0" fill="url(#gF)"/>
<circle cx="171.7" cy="545.8" r="12.0" fill="#242d52"/><circle cx="172.8" cy="544.3" r="12.0" fill="url(#gF)"/>
<circle cx="216.1" cy="545.8" r="12.0" fill="#242d52"/><circle cx="217.2" cy="544.3" r="12.0" fill="url(#gF)"/>
<circle cx="260.5" cy="545.8" r="12.0" fill="#242d52"/><circle cx="261.6" cy="544.3" r="12.0" fill="url(#gF)"/>
<circle cx="305.0" cy="545.8" r="12.0" fill="#242d52"/><circle cx="306.1" cy="544.3" r="12.0" fill="url(#gF)"/>
<circle cx="349.4" cy="545.8" r="12.0" fill="#242d52"/><circle cx="350.5" cy="544.3" r="12.0" fill="url(#gF)"/>
<circle cx="393.8" cy="545.8" r="12.0" fill="#242d52"/><circle cx="394.9" cy="544.3" r="12.0" fill="url(#gF)"/>
<circle cx="438.2" cy="545.8" r="12.0" fill="#242d52"/><circle cx="439.3" cy="544.3" r="12.0" fill="url(#gF)"/>
<circle cx="482.6" cy="545.8" r="12.0" fill="#242d52"/><circle cx="483.7" cy="544.3" r="12.0" fill="url(#gF)"/>
<circle cx="527.1" cy="545.8" r="12.0" fill="#242d52"/><circle cx="528.2" cy="544.3" r="12.0" fill="url(#gF)"/>
<circle cx="571.5" cy="545.8" r="12.0" fill="#242d52"/><circle cx="572.6" cy="544.3" r="12.0" fill="url(#gF)"/>
<circle cx="142.8" cy="545.6" r="6.1" fill="url(#gCo)"/>
<circle cx="187.2" cy="545.6" r="6.1" fill="url(#gCo)"/>
<circle cx="231.6" cy="545.6" r="6.1" fill="url(#gCo)"/>
<circle cx="276.1" cy="545.6" r="6.1" fill="url(#gCo)"/>
<circle cx="320.5" cy="545.6" r="6.1" fill="url(#gCo)"/>
<circle cx="364.9" cy="545.6" r="6.1" fill="url(#gCo)"/>
<circle cx="409.3" cy="545.6" r="6.1" fill="url(#gCo)"/>
<circle cx="453.7" cy="545.6" r="6.1" fill="url(#gCo)"/>
<circle cx="498.2" cy="545.6" r="6.1" fill="url(#gCo)"/>
<circle cx="542.6" cy="545.6" r="6.1" fill="url(#gCo)"/>
<circle cx="587.0" cy="545.6" r="6.1" fill="url(#gCo)"/>
<circle cx="177.3" cy="527.5" r="12.0" fill="#242d52"/><circle cx="178.4" cy="526.0" r="12.0" fill="url(#gF)"/>
<circle cx="221.7" cy="527.5" r="12.0" fill="#242d52"/><circle cx="222.8" cy="526.0" r="12.0" fill="url(#gF)"/>
<circle cx="266.1" cy="527.5" r="12.0" fill="#242d52"/><circle cx="267.2" cy="526.0" r="12.0" fill="url(#gF)"/>
<circle cx="310.6" cy="527.5" r="12.0" fill="#242d52"/><circle cx="311.7" cy="526.0" r="12.0" fill="url(#gF)"/>
<circle cx="355.0" cy="527.5" r="12.0" fill="#242d52"/><circle cx="356.1" cy="526.0" r="12.0" fill="url(#gF)"/>
<circle cx="399.4" cy="527.5" r="12.0" fill="#242d52"/><circle cx="400.5" cy="526.0" r="12.0" fill="url(#gF)"/>
<circle cx="443.8" cy="527.5" r="12.0" fill="#242d52"/><circle cx="444.9" cy="526.0" r="12.0" fill="url(#gF)"/>
<circle cx="488.2" cy="527.5" r="12.0" fill="#242d52"/><circle cx="489.3" cy="526.0" r="12.0" fill="url(#gF)"/>
<circle cx="532.7" cy="527.5" r="12.0" fill="#242d52"/><circle cx="533.8" cy="526.0" r="12.0" fill="url(#gF)"/>
<circle cx="577.1" cy="527.5" r="12.0" fill="#242d52"/><circle cx="578.2" cy="526.0" r="12.0" fill="url(#gF)"/>
<circle cx="166.4" cy="518.7" r="4.3" fill="url(#gCo)"/>
<circle cx="166.6" cy="522.7" r="6.1" fill="url(#gCo)"/>
<circle cx="210.8" cy="518.7" r="4.3" fill="url(#gCo)"/>
<circle cx="211.0" cy="522.7" r="6.1" fill="url(#gCo)"/>
<circle cx="255.2" cy="518.7" r="4.3" fill="url(#gCo)"/>
<circle cx="255.4" cy="522.7" r="6.1" fill="url(#gCo)"/>
<circle cx="299.7" cy="518.7" r="4.3" fill="url(#gCo)"/>
<circle cx="299.9" cy="522.7" r="6.1" fill="url(#gCo)"/>
<circle cx="344.1" cy="518.7" r="4.3" fill="url(#gCo)"/>
<circle cx="344.3" cy="522.7" r="6.1" fill="url(#gCo)"/>
<circle cx="388.5" cy="518.7" r="4.3" fill="url(#gCo)"/>
<circle cx="388.7" cy="522.7" r="6.1" fill="url(#gCo)"/>
<circle cx="432.9" cy="518.7" r="4.3" fill="url(#gCo)"/>
<circle cx="433.1" cy="522.7" r="6.1" fill="url(#gCo)"/>
<circle cx="477.3" cy="518.7" r="4.3" fill="url(#gCo)"/>
<circle cx="477.5" cy="522.7" r="6.1" fill="url(#gCo)"/>
<circle cx="521.8" cy="518.7" r="4.3" fill="url(#gCo)"/>
<circle cx="522.0" cy="522.7" r="6.1" fill="url(#gCo)"/>
<circle cx="566.2" cy="518.7" r="4.3" fill="url(#gCo)"/>
<circle cx="566.4" cy="522.7" r="6.1" fill="url(#gCo)"/>
<circle cx="150.2" cy="526.7" r="12.6" fill="#242d52"/><circle cx="151.3" cy="525.2" r="12.6" fill="url(#gF)"/>
<circle cx="194.6" cy="526.7" r="12.6" fill="#242d52"/><circle cx="195.7" cy="525.2" r="12.6" fill="url(#gF)"/>
<circle cx="239.0" cy="526.7" r="12.6" fill="#242d52"/><circle cx="240.1" cy="525.2" r="12.6" fill="url(#gF)"/>
<circle cx="283.5" cy="526.7" r="12.6" fill="#242d52"/><circle cx="284.6" cy="525.2" r="12.6" fill="url(#gF)"/>
<circle cx="327.9" cy="526.7" r="12.6" fill="#242d52"/><circle cx="329.0" cy="525.2" r="12.6" fill="url(#gF)"/>
<circle cx="372.3" cy="526.7" r="12.6" fill="#242d52"/><circle cx="373.4" cy="525.2" r="12.6" fill="url(#gF)"/>
<circle cx="416.7" cy="526.7" r="12.6" fill="#242d52"/><circle cx="417.8" cy="525.2" r="12.6" fill="url(#gF)"/>
<circle cx="461.1" cy="526.7" r="12.6" fill="#242d52"/><circle cx="462.2" cy="525.2" r="12.6" fill="url(#gF)"/>
<circle cx="505.6" cy="526.7" r="12.6" fill="#242d52"/><circle cx="506.7" cy="525.2" r="12.6" fill="url(#gF)"/>
<circle cx="550.0" cy="526.7" r="12.6" fill="#242d52"/><circle cx="551.1" cy="525.2" r="12.6" fill="url(#gF)"/>
<circle cx="109.5" cy="569.5" r="12.0" fill="#242d52"/><circle cx="110.6" cy="568.0" r="12.0" fill="url(#gF)"/>
<circle cx="154.2" cy="569.5" r="12.0" fill="#242d52"/><circle cx="155.3" cy="568.0" r="12.0" fill="url(#gF)"/>
<circle cx="199.0" cy="569.5" r="12.0" fill="#242d52"/><circle cx="200.1" cy="568.0" r="12.0" fill="url(#gF)"/>
<circle cx="243.7" cy="569.5" r="12.0" fill="#242d52"/><circle cx="244.8" cy="568.0" r="12.0" fill="url(#gF)"/>
<circle cx="288.4" cy="569.5" r="12.0" fill="#242d52"/><circle cx="289.5" cy="568.0" r="12.0" fill="url(#gF)"/>
<circle cx="333.1" cy="569.5" r="12.0" fill="#242d52"/><circle cx="334.2" cy="568.0" r="12.0" fill="url(#gF)"/>
<circle cx="377.9" cy="569.5" r="12.0" fill="#242d52"/><circle cx="379.0" cy="568.0" r="12.0" fill="url(#gF)"/>
<circle cx="422.6" cy="569.5" r="12.0" fill="#242d52"/><circle cx="423.7" cy="568.0" r="12.0" fill="url(#gF)"/>
<circle cx="467.3" cy="569.5" r="12.0" fill="#242d52"/><circle cx="468.4" cy="568.0" r="12.0" fill="url(#gF)"/>
<circle cx="512.1" cy="569.5" r="12.0" fill="#242d52"/><circle cx="513.2" cy="568.0" r="12.0" fill="url(#gF)"/>
<circle cx="556.8" cy="569.5" r="12.0" fill="#242d52"/><circle cx="557.9" cy="568.0" r="12.0" fill="url(#gF)"/>
<circle cx="601.5" cy="569.5" r="12.0" fill="#242d52"/><circle cx="602.6" cy="568.0" r="12.0" fill="url(#gF)"/>
<circle cx="127.5" cy="571.0" r="12.0" fill="#242d52"/><circle cx="128.6" cy="569.5" r="12.0" fill="url(#gF)"/>
<circle cx="172.2" cy="571.0" r="12.0" fill="#242d52"/><circle cx="173.3" cy="569.5" r="12.0" fill="url(#gF)"/>
<circle cx="217.0" cy="571.0" r="12.0" fill="#242d52"/><circle cx="218.1" cy="569.5" r="12.0" fill="url(#gF)"/>
<circle cx="261.7" cy="571.0" r="12.0" fill="#242d52"/><circle cx="262.8" cy="569.5" r="12.0" fill="url(#gF)"/>
<circle cx="306.4" cy="571.0" r="12.0" fill="#242d52"/><circle cx="307.5" cy="569.5" r="12.0" fill="url(#gF)"/>
<circle cx="351.1" cy="571.0" r="12.0" fill="#242d52"/><circle cx="352.2" cy="569.5" r="12.0" fill="url(#gF)"/>
<circle cx="395.9" cy="571.0" r="12.0" fill="#242d52"/><circle cx="397.0" cy="569.5" r="12.0" fill="url(#gF)"/>
<circle cx="440.6" cy="571.0" r="12.0" fill="#242d52"/><circle cx="441.7" cy="569.5" r="12.0" fill="url(#gF)"/>
<circle cx="485.3" cy="571.0" r="12.0" fill="#242d52"/><circle cx="486.4" cy="569.5" r="12.0" fill="url(#gF)"/>
<circle cx="530.1" cy="571.0" r="12.0" fill="#242d52"/><circle cx="531.2" cy="569.5" r="12.0" fill="url(#gF)"/>
<circle cx="574.8" cy="571.0" r="12.0" fill="#242d52"/><circle cx="575.9" cy="569.5" r="12.0" fill="url(#gF)"/>
<circle cx="619.5" cy="571.0" r="12.0" fill="#242d52"/><circle cx="620.6" cy="569.5" r="12.0" fill="url(#gF)"/>
<circle cx="98.6" cy="570.8" r="6.1" fill="url(#gCo)"/>
<circle cx="143.3" cy="570.8" r="6.1" fill="url(#gCo)"/>
<circle cx="188.1" cy="570.8" r="6.1" fill="url(#gCo)"/>
<circle cx="232.8" cy="570.8" r="6.1" fill="url(#gCo)"/>
<circle cx="277.5" cy="570.8" r="6.1" fill="url(#gCo)"/>
<circle cx="322.2" cy="570.8" r="6.1" fill="url(#gCo)"/>
<circle cx="367.0" cy="570.8" r="6.1" fill="url(#gCo)"/>
<circle cx="411.7" cy="570.8" r="6.1" fill="url(#gCo)"/>
<circle cx="456.4" cy="570.8" r="6.1" fill="url(#gCo)"/>
<circle cx="501.2" cy="570.8" r="6.1" fill="url(#gCo)"/>
<circle cx="545.9" cy="570.8" r="6.1" fill="url(#gCo)"/>
<circle cx="590.6" cy="570.8" r="6.1" fill="url(#gCo)"/>
<circle cx="635.4" cy="570.8" r="6.1" fill="url(#gCo)"/>
<circle cx="109.5" cy="608.5" r="12.0" fill="#242d52"/><circle cx="110.6" cy="607.0" r="12.0" fill="url(#gF)"/>
<circle cx="154.2" cy="608.5" r="12.0" fill="#242d52"/><circle cx="155.3" cy="607.0" r="12.0" fill="url(#gF)"/>
<circle cx="199.0" cy="608.5" r="12.0" fill="#242d52"/><circle cx="200.1" cy="607.0" r="12.0" fill="url(#gF)"/>
<circle cx="243.7" cy="608.5" r="12.0" fill="#242d52"/><circle cx="244.8" cy="607.0" r="12.0" fill="url(#gF)"/>
<circle cx="288.4" cy="608.5" r="12.0" fill="#242d52"/><circle cx="289.5" cy="607.0" r="12.0" fill="url(#gF)"/>
<circle cx="333.1" cy="608.5" r="12.0" fill="#242d52"/><circle cx="334.2" cy="607.0" r="12.0" fill="url(#gF)"/>
<circle cx="377.9" cy="608.5" r="12.0" fill="#242d52"/><circle cx="379.0" cy="607.0" r="12.0" fill="url(#gF)"/>
<circle cx="422.6" cy="608.5" r="12.0" fill="#242d52"/><circle cx="423.7" cy="607.0" r="12.0" fill="url(#gF)"/>
<circle cx="467.3" cy="608.5" r="12.0" fill="#242d52"/><circle cx="468.4" cy="607.0" r="12.0" fill="url(#gF)"/>
<circle cx="512.1" cy="608.5" r="12.0" fill="#242d52"/><circle cx="513.2" cy="607.0" r="12.0" fill="url(#gF)"/>
<circle cx="556.8" cy="608.5" r="12.0" fill="#242d52"/><circle cx="557.9" cy="607.0" r="12.0" fill="url(#gF)"/>
<circle cx="601.5" cy="608.5" r="12.0" fill="#242d52"/><circle cx="602.6" cy="607.0" r="12.0" fill="url(#gF)"/>
<circle cx="127.5" cy="610.0" r="12.0" fill="#242d52"/><circle cx="128.6" cy="608.5" r="12.0" fill="url(#gF)"/>
<circle cx="172.2" cy="610.0" r="12.0" fill="#242d52"/><circle cx="173.3" cy="608.5" r="12.0" fill="url(#gF)"/>
<circle cx="217.0" cy="610.0" r="12.0" fill="#242d52"/><circle cx="218.1" cy="608.5" r="12.0" fill="url(#gF)"/>
<circle cx="261.7" cy="610.0" r="12.0" fill="#242d52"/><circle cx="262.8" cy="608.5" r="12.0" fill="url(#gF)"/>
<circle cx="306.4" cy="610.0" r="12.0" fill="#242d52"/><circle cx="307.5" cy="608.5" r="12.0" fill="url(#gF)"/>
<circle cx="351.1" cy="610.0" r="12.0" fill="#242d52"/><circle cx="352.2" cy="608.5" r="12.0" fill="url(#gF)"/>
<circle cx="395.9" cy="610.0" r="12.0" fill="#242d52"/><circle cx="397.0" cy="608.5" r="12.0" fill="url(#gF)"/>
<circle cx="440.6" cy="610.0" r="12.0" fill="#242d52"/><circle cx="441.7" cy="608.5" r="12.0" fill="url(#gF)"/>
<circle cx="485.3" cy="610.0" r="12.0" fill="#242d52"/><circle cx="486.4" cy="608.5" r="12.0" fill="url(#gF)"/>
<circle cx="530.1" cy="610.0" r="12.0" fill="#242d52"/><circle cx="531.2" cy="608.5" r="12.0" fill="url(#gF)"/>
<circle cx="574.8" cy="610.0" r="12.0" fill="#242d52"/><circle cx="575.9" cy="608.5" r="12.0" fill="url(#gF)"/>
<circle cx="619.5" cy="610.0" r="12.0" fill="#242d52"/><circle cx="620.6" cy="608.5" r="12.0" fill="url(#gF)"/>
<circle cx="98.6" cy="609.8" r="6.1" fill="url(#gCo)"/>
<circle cx="143.3" cy="609.8" r="6.1" fill="url(#gCo)"/>
<circle cx="188.1" cy="609.8" r="6.1" fill="url(#gCo)"/>
<circle cx="232.8" cy="609.8" r="6.1" fill="url(#gCo)"/>
<circle cx="277.5" cy="609.8" r="6.1" fill="url(#gCo)"/>
<circle cx="322.2" cy="609.8" r="6.1" fill="url(#gCo)"/>
<circle cx="367.0" cy="609.8" r="6.1" fill="url(#gCo)"/>
<circle cx="411.7" cy="609.8" r="6.1" fill="url(#gCo)"/>
<circle cx="456.4" cy="609.8" r="6.1" fill="url(#gCo)"/>
<circle cx="501.2" cy="609.8" r="6.1" fill="url(#gCo)"/>
<circle cx="545.9" cy="609.8" r="6.1" fill="url(#gCo)"/>
<circle cx="590.6" cy="609.8" r="6.1" fill="url(#gCo)"/>
<circle cx="635.4" cy="609.8" r="6.1" fill="url(#gCo)"/>
<circle cx="133.1" cy="591.3" r="12.0" fill="#242d52"/><circle cx="134.2" cy="589.8" r="12.0" fill="url(#gF)"/>
<circle cx="177.8" cy="591.3" r="12.0" fill="#242d52"/><circle cx="178.9" cy="589.8" r="12.0" fill="url(#gF)"/>
<circle cx="222.6" cy="591.3" r="12.0" fill="#242d52"/><circle cx="223.7" cy="589.8" r="12.0" fill="url(#gF)"/>
<circle cx="267.3" cy="591.3" r="12.0" fill="#242d52"/><circle cx="268.4" cy="589.8" r="12.0" fill="url(#gF)"/>
<circle cx="312.0" cy="591.3" r="12.0" fill="#242d52"/><circle cx="313.1" cy="589.8" r="12.0" fill="url(#gF)"/>
<circle cx="356.8" cy="591.3" r="12.0" fill="#242d52"/><circle cx="357.9" cy="589.8" r="12.0" fill="url(#gF)"/>
<circle cx="401.5" cy="591.3" r="12.0" fill="#242d52"/><circle cx="402.6" cy="589.8" r="12.0" fill="url(#gF)"/>
<circle cx="446.2" cy="591.3" r="12.0" fill="#242d52"/><circle cx="447.3" cy="589.8" r="12.0" fill="url(#gF)"/>
<circle cx="490.9" cy="591.3" r="12.0" fill="#242d52"/><circle cx="492.0" cy="589.8" r="12.0" fill="url(#gF)"/>
<circle cx="535.7" cy="591.3" r="12.0" fill="#242d52"/><circle cx="536.8" cy="589.8" r="12.0" fill="url(#gF)"/>
<circle cx="580.4" cy="591.3" r="12.0" fill="#242d52"/><circle cx="581.5" cy="589.8" r="12.0" fill="url(#gF)"/>
<circle cx="625.1" cy="591.3" r="12.0" fill="#242d52"/><circle cx="626.2" cy="589.8" r="12.0" fill="url(#gF)"/>
<circle cx="122.2" cy="582.5" r="4.3" fill="url(#gCo)"/>
<circle cx="122.4" cy="586.5" r="6.1" fill="url(#gCo)"/>
<circle cx="166.9" cy="582.5" r="4.3" fill="url(#gCo)"/>
<circle cx="167.1" cy="586.5" r="6.1" fill="url(#gCo)"/>
<circle cx="211.7" cy="582.5" r="4.3" fill="url(#gCo)"/>
<circle cx="211.9" cy="586.5" r="6.1" fill="url(#gCo)"/>
<circle cx="256.4" cy="582.5" r="4.3" fill="url(#gCo)"/>
<circle cx="256.6" cy="586.5" r="6.1" fill="url(#gCo)"/>
<circle cx="301.1" cy="582.5" r="4.3" fill="url(#gCo)"/>
<circle cx="301.3" cy="586.5" r="6.1" fill="url(#gCo)"/>
<circle cx="345.9" cy="582.5" r="4.3" fill="url(#gCo)"/>
<circle cx="346.1" cy="586.5" r="6.1" fill="url(#gCo)"/>
<circle cx="390.6" cy="582.5" r="4.3" fill="url(#gCo)"/>
<circle cx="390.8" cy="586.5" r="6.1" fill="url(#gCo)"/>
<circle cx="435.3" cy="582.5" r="4.3" fill="url(#gCo)"/>
<circle cx="435.5" cy="586.5" r="6.1" fill="url(#gCo)"/>
<circle cx="480.0" cy="582.5" r="4.3" fill="url(#gCo)"/>
<circle cx="480.2" cy="586.5" r="6.1" fill="url(#gCo)"/>
<circle cx="524.8" cy="582.5" r="4.3" fill="url(#gCo)"/>
<circle cx="525.0" cy="586.5" r="6.1" fill="url(#gCo)"/>
<circle cx="569.5" cy="582.5" r="4.3" fill="url(#gCo)"/>
<circle cx="569.7" cy="586.5" r="6.1" fill="url(#gCo)"/>
<circle cx="614.2" cy="582.5" r="4.3" fill="url(#gCo)"/>
<circle cx="614.4" cy="586.5" r="6.1" fill="url(#gCo)"/>
<circle cx="106.0" cy="590.5" r="12.6" fill="#242d52"/><circle cx="107.1" cy="589.0" r="12.6" fill="url(#gF)"/>
<circle cx="150.7" cy="590.5" r="12.6" fill="#242d52"/><circle cx="151.8" cy="589.0" r="12.6" fill="url(#gF)"/>
<circle cx="195.5" cy="590.5" r="12.6" fill="#242d52"/><circle cx="196.6" cy="589.0" r="12.6" fill="url(#gF)"/>
<circle cx="240.2" cy="590.5" r="12.6" fill="#242d52"/><circle cx="241.3" cy="589.0" r="12.6" fill="url(#gF)"/>
<circle cx="284.9" cy="590.5" r="12.6" fill="#242d52"/><circle cx="286.0" cy="589.0" r="12.6" fill="url(#gF)"/>
<circle cx="329.6" cy="590.5" r="12.6" fill="#242d52"/><circle cx="330.8" cy="589.0" r="12.6" fill="url(#gF)"/>
<circle cx="374.4" cy="590.5" r="12.6" fill="#242d52"/><circle cx="375.5" cy="589.0" r="12.6" fill="url(#gF)"/>
<circle cx="419.1" cy="590.5" r="12.6" fill="#242d52"/><circle cx="420.2" cy="589.0" r="12.6" fill="url(#gF)"/>
<circle cx="463.8" cy="590.5" r="12.6" fill="#242d52"/><circle cx="464.9" cy="589.0" r="12.6" fill="url(#gF)"/>
<circle cx="508.6" cy="590.5" r="12.6" fill="#242d52"/><circle cx="509.7" cy="589.0" r="12.6" fill="url(#gF)"/>
<circle cx="553.3" cy="590.5" r="12.6" fill="#242d52"/><circle cx="554.4" cy="589.0" r="12.6" fill="url(#gF)"/>
<circle cx="598.0" cy="590.5" r="12.6" fill="#242d52"/><circle cx="599.1" cy="589.0" r="12.6" fill="url(#gF)"/>
<circle cx="219.4" cy="397.5" r="12.8" fill="url(#gCl)"/>
<circle cx="231.6" cy="408.5" r="6.2" fill="url(#gCo)"/>
<circle cx="242.0" cy="394.5" r="13.8" fill="url(#gCl)"/>
<circle cx="218.1" cy="417.1" r="13.8" fill="url(#gCl)"/>
<circle cx="242.8" cy="422.0" r="13.8" fill="url(#gCl)"/>
<circle cx="389.3" cy="440.5" r="12.8" fill="url(#gCl)"/>
<circle cx="389.0" cy="434.0" r="6.5" fill="url(#gCo)"/>
<circle cx="389.3" cy="413.7" r="14.1" fill="url(#gCl)"/>
<circle cx="372.5" cy="441.3" r="13.8" fill="url(#gCl)"/>
<circle cx="405.9" cy="441.3" r="13.5" fill="url(#gCl)"/>
<circle cx="505.3" cy="427.5" r="12.8" fill="url(#gCl)"/>
<circle cx="505.9" cy="412.8" r="6.5" fill="url(#gCo)"/>
<circle cx="506.7" cy="393.2" r="14.1" fill="url(#gCl)"/>
<circle cx="489.4" cy="414.6" r="13.8" fill="url(#gCl)"/>
<circle cx="522.8" cy="415.9" r="13.8" fill="url(#gCl)"/>
<path d="M142.5,148.1 L170.3,157.1 L159.6,162.5 L162.8,167.9 L166.0,173.3 L169.2,178.7 L172.4,184.1 L175.6,189.5 L178.8,194.9 L181.9,200.4 L185.0,205.9 L188.0,211.4 L190.8,217.0 L193.4,222.7 L195.7,228.5 L197.9,234.4 L200.0,240.3 L202.0,246.3 L204.0,252.3 L206.1,258.2 L208.2,264.1 L210.4,270.0 L212.6,275.9 L214.7,281.8 L216.7,287.7 L218.6,293.7 L220.2,299.8 L221.7,305.9 L223.1,312.0 L224.3,318.2 L225.3,324.4 L226.3,330.6 L227.1,336.8 L227.8,343.0 L228.5,349.3 L229.0,355.5 L229.4,361.8 L229.6,368.1 L229.5,374.4 L228.8,380.6 L227.3,386.7 L225.3,392.7 L224.3,386.7 L223.4,380.6 L222.8,374.6 L222.3,368.5 L221.5,362.4 L220.7,356.4 L219.7,350.3 L218.7,344.3 L217.6,338.3 L216.5,332.3 L215.2,326.3 L213.5,320.5 L211.6,314.7 L209.5,308.9 L207.3,303.2 L205.0,297.5 L202.7,291.9 L200.4,286.2 L198.2,280.6 L195.9,274.9 L193.6,269.2 L191.2,263.6 L188.6,258.1 L185.9,252.6 L183.0,247.2 L180.1,241.9 L177.1,236.5 L174.2,231.2 L171.3,225.8 L168.4,220.4 L165.6,215.0 L162.7,209.6 L159.7,204.3 L156.7,199.0 L153.5,193.7 L150.3,188.6 L147.0,183.4 L143.7,178.3 L140.3,173.2 L130.7,178.1Z" fill="#c3141c" opacity="0.76"/>
<path d="M373.6,133.3 L395.2,158.1 L384.5,158.1 L383.6,164.1 L382.7,170.2 L381.8,176.2 L380.9,182.2 L380.0,188.3 L379.2,194.3 L378.3,200.4 L377.6,206.4 L376.8,212.5 L376.2,218.5 L375.5,224.6 L375.0,230.7 L374.4,236.7 L373.9,242.8 L373.4,248.9 L372.9,255.0 L372.4,261.1 L371.9,267.1 L371.5,273.2 L371.1,279.3 L370.9,285.4 L370.8,291.5 L370.9,297.6 L371.0,303.7 L371.2,309.8 L371.5,315.9 L371.9,322.0 L372.3,328.1 L372.8,334.2 L373.4,340.2 L374.3,346.3 L375.5,352.3 L376.8,358.2 L378.3,364.1 L379.8,370.1 L381.3,376.0 L382.8,381.9 L384.1,387.8 L385.4,393.8 L381.8,388.7 L378.3,383.4 L375.1,378.0 L372.3,372.4 L369.9,366.6 L367.8,360.7 L365.9,354.7 L364.3,348.6 L362.7,342.5 L361.3,336.4 L359.9,330.3 L358.8,324.1 L357.9,317.9 L357.1,311.7 L356.3,305.5 L355.5,299.2 L354.7,293.0 L353.9,286.8 L353.4,280.5 L353.2,274.2 L353.1,268.0 L353.3,261.7 L353.4,255.4 L353.6,249.1 L353.9,242.8 L354.2,236.6 L354.5,230.3 L354.9,224.0 L355.3,217.8 L355.8,211.5 L356.2,205.3 L356.8,199.0 L357.4,192.8 L358.0,186.5 L358.6,180.3 L359.3,174.0 L360.0,167.8 L360.7,161.5 L361.4,155.3 L350.2,152.5Z" fill="#c3141c" opacity="0.76"/>
<path d="M587.0,136.0 L598.8,166.0 L589.2,160.7 L586.0,165.9 L582.8,171.0 L579.6,176.2 L576.4,181.4 L573.4,186.7 L570.4,191.9 L567.5,197.3 L564.6,202.7 L561.9,208.1 L559.2,213.5 L556.6,219.0 L554.0,224.5 L551.4,230.0 L548.8,235.6 L546.2,241.1 L543.6,246.6 L541.0,252.0 L538.3,257.4 L535.5,262.8 L532.6,268.2 L529.8,273.6 L527.1,279.1 L524.6,284.6 L522.3,290.3 L520.4,296.0 L518.8,301.9 L517.4,307.8 L516.1,313.8 L514.8,319.7 L513.6,325.7 L512.4,331.6 L511.3,337.6 L510.3,343.6 L509.4,349.6 L508.7,355.6 L508.0,361.7 L507.2,367.7 L505.9,373.7 L504.2,379.5 L502.5,373.5 L501.2,367.4 L500.3,361.2 L499.9,354.9 L499.7,348.6 L499.7,342.4 L500.0,336.1 L500.3,329.9 L500.8,323.6 L501.5,317.4 L502.5,311.2 L503.6,305.1 L504.9,299.0 L506.4,292.9 L507.9,286.8 L509.6,280.7 L511.6,274.8 L513.8,269.0 L516.3,263.2 L518.9,257.5 L521.4,251.8 L523.9,246.0 L526.3,240.3 L528.6,234.5 L531.0,228.7 L533.5,222.9 L535.9,217.2 L538.5,211.5 L541.1,205.8 L543.8,200.1 L546.6,194.5 L549.3,188.9 L552.2,183.3 L555.0,177.7 L557.9,172.2 L560.8,166.6 L563.7,161.1 L566.6,155.5 L569.5,150.0 L559.2,145.7Z" fill="#c3141c" opacity="0.76"/>
<g stroke="#ec1212" stroke-width="8.6" opacity="0.86" stroke-linecap="butt"><line x1="186.8" y1="299.6" x2="245.6" y2="320"/><line x1="226.4" y1="280.3" x2="206" y2="337"/></g>
<g stroke="#ec1212" stroke-width="8.6" opacity="0.86" stroke-linecap="butt"><line x1="338.9" y1="262.1" x2="388.1" y2="302.8"/><line x1="386" y1="260" x2="345.3" y2="306"/></g>
<g stroke="#ec1212" stroke-width="8.6" opacity="0.86" stroke-linecap="butt"><line x1="494.6" y1="277.8" x2="528.8" y2="332.4"/><line x1="483.9" y1="319.6" x2="540.6" y2="289.6"/></g>
<text x="20.6" y="48" font-size="31" letter-spacing="0.4" font-family="Liberation Sans, Arial, sans-serif" font-weight="bold" fill="#000">Electrolyte</text>
<text x="21.3" y="408" font-size="31" letter-spacing="0.4" font-family="Liberation Sans, Arial, sans-serif" font-weight="bold" fill="#000">Cathode</text>
<circle cx="753.2" cy="29.7" r="14.3" fill="url(#gCl)"/>
<circle cx="752.5" cy="104.7" r="12.6" fill="#10131f"/><circle cx="753.6" cy="103.2" r="12.6" fill="url(#gF)"/>
<circle cx="753.0" cy="172.0" r="7.4" fill="url(#gCo)"/>
<circle cx="753.0" cy="238.2" r="7.4" fill="url(#gLi)"/>
<circle cx="756.7" cy="324.5" r="12.5" fill="url(#gCl)"/>
<circle cx="756.3" cy="314.6" r="6.6" fill="url(#gCo)"/>
<circle cx="756.3" cy="293.9" r="14.1" fill="url(#gCl)"/>
<circle cx="739.6" cy="321.4" r="14.0" fill="url(#gCl)"/>
<circle cx="773.2" cy="322.0" r="13.7" fill="url(#gCl)"/>
<text x="803.6" y="41.3" font-size="32" letter-spacing="0.3" font-family="Liberation Sans, Arial, sans-serif" font-weight="bold">Cl<tspan font-size="21" dy="-10">-</tspan></text>
<text x="803.8" y="114.2" font-size="32" letter-spacing="0.3" font-family="Liberation Sans, Arial, sans-serif" font-weight="bold">F<tspan font-size="21" dy="-10">-</tspan></text>
<text x="803.6" y="183" font-size="32" letter-spacing="0.3" font-family="Liberation Sans, Arial, sans-serif" font-weight="bold">Co<tspan font-size="21" dy="-10.3">2+</tspan></text>
<text x="803.8" y="247.5" font-size="32" letter-spacing="0.3" font-family="Liberation Sans, Arial, sans-serif" font-weight="bold">Li<tspan font-size="21" dy="-10">+</tspan></text>
<text x="803.6" y="320.9" font-size="32" letter-spacing="0.3" font-family="Liberation Sans, Arial, sans-serif" font-weight="bold">CoCl<tspan font-size="21" dy="7.3">4</tspan><tspan font-size="21" dy="-17.8">2-</tspan></text>
</svg></body></html>
